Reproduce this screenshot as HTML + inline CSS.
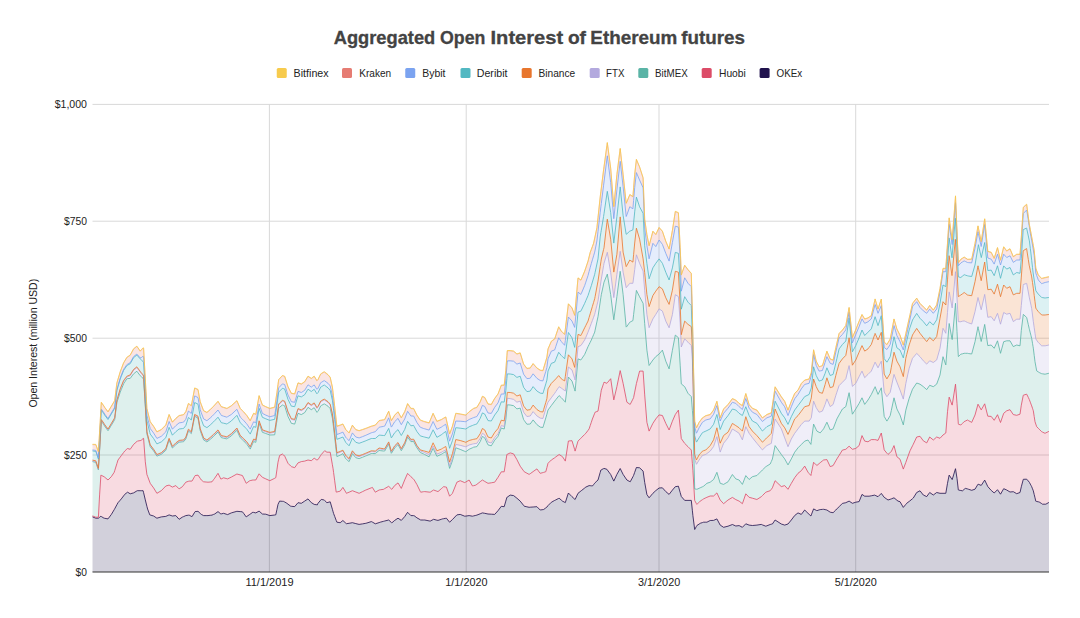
<!DOCTYPE html>
<html><head><meta charset="utf-8"><title>Aggregated Open Interest of Ethereum futures</title>
<style>html,body{margin:0;padding:0;background:#fff}body{width:1080px;height:618px;overflow:hidden;font-family:"Liberation Sans",sans-serif}svg{display:block}</style>
</head><body>
<svg width="1080" height="618" viewBox="0 0 1080 618">
<rect width="1080" height="618" fill="#fff"/>
<rect x="92.5" y="103.9" width="956.5" height="1" fill="#d9d9d9"/>
<rect x="92.5" y="220.7" width="956.5" height="1" fill="#d9d9d9"/>
<rect x="92.5" y="337.7" width="956.5" height="1" fill="#d9d9d9"/>
<rect x="92.5" y="454.5" width="956.5" height="1" fill="#d9d9d9"/>
<rect x="268.9" y="104" width="1" height="468.0" fill="#d9d9d9"/>
<rect x="465.7" y="104" width="1" height="468.0" fill="#d9d9d9"/>
<rect x="658.5" y="104" width="1" height="468.0" fill="#d9d9d9"/>
<rect x="855.2" y="104" width="1" height="468.0" fill="#d9d9d9"/>
<path d="M92.5,516.9 L95.8,518.2 L98.4,518.2 L99.6,517.3 L100.9,516.2 L101.3,516.5 L104.0,518.2 L104.7,518.3 L108.0,518.9 L111.3,514.5 L114.2,509.7 L114.7,508.8 L116.9,504.7 L118.0,502.7 L120.2,500.2 L121.3,498.9 L123.6,495.9 L124.7,494.4 L126.9,492.7 L127.6,492.2 L130.2,493.8 L133.6,492.9 L136.9,490.9 L137.3,490.7 L140.2,490.7 L141.3,490.7 L143.1,490.7 L143.6,492.7 L145.3,499.9 L146.9,506.3 L147.6,509.0 L149.8,514.9 L150.2,515.0 L153.6,516.0 L156.9,518.2 L161.3,516.9 L165.8,516.4 L169.1,514.9 L172.4,516.0 L175.8,515.6 L179.1,519.3 L182.4,517.1 L183.6,516.6 L185.8,515.6 L188.4,515.2 L189.1,515.1 L191.3,516.3 L192.0,516.7 L194.7,512.2 L195.1,511.6 L198.0,511.3 L200.2,513.4 L201.3,514.4 L203.6,515.6 L206.9,515.6 L208.0,515.6 L210.2,515.3 L212.0,515.1 L213.6,514.4 L214.7,514.0 L218.0,511.6 L220.9,514.0 L221.3,513.9 L223.6,513.3 L226.9,514.4 L227.6,514.6 L231.3,512.9 L236.9,511.3 L240.2,511.6 L242.4,511.8 L243.6,513.3 L246.2,516.9 L246.9,516.4 L249.8,514.4 L250.2,514.1 L252.9,512.2 L253.6,512.4 L255.8,512.9 L259.1,511.1 L262.4,514.0 L265.8,514.2 L269.8,515.6 L274.7,515.0 L275.8,514.8 L276.9,509.6 L278.0,504.4 L278.7,502.9 L279.6,501.1 L282.4,501.3 L283.6,501.4 L284.7,502.0 L286.9,503.3 L288.0,504.2 L290.7,506.2 L291.3,506.3 L294.7,506.6 L298.0,502.7 L301.3,503.3 L304.7,501.1 L308.0,498.9 L311.3,502.6 L314.2,504.4 L316.9,504.8 L317.3,504.9 L318.0,503.3 L320.7,500.1 L321.3,499.4 L324.2,500.0 L324.7,500.5 L326.9,502.7 L328.0,502.4 L330.2,501.8 L332.4,509.3 L333.1,511.8 L333.6,513.5 L334.7,516.4 L336.2,520.4 L336.9,522.2 L340.2,522.7 L342.9,520.5 L345.8,523.2 L346.4,523.7 L349.1,523.3 L352.4,522.7 L355.8,523.6 L359.1,524.4 L362.4,523.9 L365.8,523.3 L366.9,523.0 L371.3,521.6 L372.4,522.1 L375.3,523.8 L379.1,522.6 L380.2,522.2 L383.6,521.3 L384.7,521.0 L388.7,520.0 L391.3,522.4 L391.8,522.9 L394.7,520.4 L398.0,518.2 L401.3,520.4 L404.7,516.6 L407.6,512.3 L410.9,515.6 L413.6,515.6 L414.0,515.6 L416.9,517.8 L420.2,519.7 L420.7,520.0 L423.6,520.0 L424.7,520.0 L429.1,520.9 L430.2,521.1 L433.1,519.6 L433.6,519.3 L436.9,520.2 L438.0,520.4 L441.3,519.3 L442.4,518.9 L443.6,518.7 L445.8,518.3 L446.4,518.2 L449.6,522.2 L452.4,519.6 L455.8,516.0 L456.9,514.9 L460.2,514.4 L464.7,516.2 L465.8,516.1 L469.1,515.6 L472.4,516.2 L473.6,515.9 L475.8,515.4 L476.9,515.1 L480.2,513.8 L482.4,512.9 L484.7,513.3 L488.0,514.0 L491.3,514.2 L494.7,514.4 L498.0,510.7 L501.3,506.3 L504.2,506.7 L505.8,501.1 L506.9,497.3 L507.3,497.1 L510.2,495.1 L513.6,495.6 L516.9,498.2 L520.2,501.1 L523.6,505.4 L524.2,506.2 L526.9,506.8 L529.1,507.3 L530.2,507.2 L533.1,507.0 L536.9,506.7 L540.2,510.0 L542.9,509.6 L543.6,509.5 L545.8,507.9 L546.9,507.1 L548.0,505.6 L551.3,502.3 L554.7,500.4 L555.8,499.9 L558.7,498.4 L559.1,498.2 L561.3,500.1 L562.4,501.1 L564.7,502.3 L565.3,502.6 L568.4,493.0 L572.0,496.7 L574.7,499.2 L575.1,499.5 L578.0,493.3 L580.9,491.0 L581.3,490.7 L584.7,488.0 L585.8,487.1 L588.0,486.1 L589.1,485.6 L590.2,485.7 L591.3,485.8 L592.4,486.0 L593.6,484.6 L594.7,483.2 L595.1,482.7 L596.9,481.0 L598.0,480.0 L600.2,472.4 L600.9,470.0 L601.3,469.8 L603.6,468.6 L604.0,468.4 L606.9,469.3 L607.3,469.9 L610.7,474.5 L613.8,481.1 L616.9,474.4 L620.2,468.5 L623.1,474.4 L626.2,479.0 L626.9,480.0 L629.8,481.6 L630.2,481.8 L632.9,476.8 L633.6,475.4 L634.7,472.3 L636.4,467.5 L639.6,467.8 L643.1,471.1 L644.7,482.4 L646.9,494.5 L649.1,497.8 L652.9,493.3 L655.8,490.6 L659.1,488.0 L662.4,487.8 L665.8,491.6 L669.1,494.4 L672.4,490.1 L675.3,486.7 L678.4,486.2 L680.2,492.6 L681.3,496.5 L684.7,500.4 L688.0,500.4 L691.3,500.4 L692.4,510.8 L692.9,515.6 L694.7,529.5 L696.4,526.4 L696.9,525.5 L699.1,524.1 L700.2,523.3 L702.4,522.6 L703.6,522.2 L705.8,522.2 L706.9,522.2 L710.2,520.5 L713.6,520.4 L716.9,518.9 L720.2,525.1 L723.6,527.3 L728.0,526.2 L732.4,524.5 L735.8,526.0 L739.1,525.6 L742.4,527.3 L745.8,523.8 L749.1,525.1 L752.4,525.5 L756.9,525.1 L761.3,524.4 L762.4,524.9 L765.8,526.2 L766.9,525.8 L770.2,524.5 L771.3,524.2 L772.4,524.0 L775.1,520.0 L781.3,524.0 L784.7,525.1 L788.0,524.0 L791.3,520.0 L794.7,515.5 L798.0,512.9 L801.3,514.4 L804.7,510.0 L808.0,513.3 L809.1,514.3 L810.9,516.0 L811.3,514.9 L813.6,508.9 L816.2,510.3 L816.9,510.7 L819.1,509.9 L820.2,509.6 L822.4,509.4 L823.6,509.3 L825.1,509.6 L826.9,510.0 L830.2,512.2 L833.1,512.7 L835.8,510.0 L836.9,508.9 L839.1,506.7 L842.4,503.4 L845.8,502.7 L849.1,501.1 L852.4,503.3 L855.8,502.2 L859.1,501.6 L862.0,494.4 L864.7,496.2 L868.0,496.2 L869.1,496.2 L871.3,495.8 L874.7,495.1 L875.1,495.3 L878.0,496.7 L881.3,493.4 L884.2,497.3 L886.9,499.2 L888.0,500.0 L890.2,499.3 L891.3,498.9 L894.0,497.8 L896.9,500.2 L898.0,501.1 L900.0,501.7 L903.3,507.4 L905.8,504.4 L906.7,503.3 L909.2,501.4 L910.0,500.8 L912.5,498.7 L913.3,498.0 L916.7,492.5 L920.0,490.8 L923.3,495.0 L926.7,496.6 L929.7,492.5 L933.3,495.0 L936.7,492.5 L940.0,493.3 L943.0,493.3 L945.8,493.3 L947.5,483.3 L949.1,475.3 L949.2,475.1 L952.0,479.4 L952.2,479.6 L955.3,469.3 L955.5,468.7 L957.0,478.3 L958.3,489.7 L958.4,490.0 L960.8,490.5 L962.5,490.8 L964.2,489.3 L965.3,488.4 L967.5,488.9 L968.3,489.2 L971.7,490.3 L975.0,489.2 L978.0,484.2 L978.4,484.3 L981.2,485.4 L981.3,485.3 L984.7,480.1 L987.8,486.6 L991.2,490.4 L994.2,493.0 L997.5,489.7 L1000.5,494.2 L1003.7,488.7 L1006.7,490.0 L1010.0,492.0 L1013.3,491.7 L1016.7,493.7 L1020.0,492.5 L1021.3,486.8 L1023.2,479.7 L1023.3,479.3 L1026.6,479.2 L1026.7,479.2 L1028.3,481.0 L1029.2,482.1 L1029.4,482.4 L1030.3,484.1 L1031.0,485.4 L1031.7,486.7 L1032.5,488.8 L1033.0,490.0 L1033.3,490.8 L1034.2,494.5 L1035.0,497.8 L1035.8,501.2 L1036.7,501.5 L1038.3,501.8 L1039.2,502.0 L1041.7,503.6 L1042.5,504.2 L1045.0,504.2 L1045.8,504.2 L1048.8,502.5 L1049.0,502.5 L1049.0,572.0 L1048.8,572.0 L1045.8,572.0 L1045.0,572.0 L1042.5,572.0 L1041.7,572.0 L1039.2,572.0 L1038.3,572.0 L1036.7,572.0 L1035.8,572.0 L1035.0,572.0 L1034.2,572.0 L1033.3,572.0 L1033.0,572.0 L1032.5,572.0 L1031.7,572.0 L1031.0,572.0 L1030.3,572.0 L1029.4,572.0 L1029.2,572.0 L1028.3,572.0 L1026.7,572.0 L1026.6,572.0 L1023.3,572.0 L1023.2,572.0 L1021.3,572.0 L1020.0,572.0 L1016.7,572.0 L1013.3,572.0 L1010.0,572.0 L1006.7,572.0 L1003.7,572.0 L1000.5,572.0 L997.5,572.0 L994.2,572.0 L991.2,572.0 L987.8,572.0 L984.7,572.0 L981.3,572.0 L981.2,572.0 L978.4,572.0 L978.0,572.0 L975.0,572.0 L971.7,572.0 L968.3,572.0 L967.5,572.0 L965.3,572.0 L964.2,572.0 L962.5,572.0 L960.8,572.0 L958.4,572.0 L958.3,572.0 L957.0,572.0 L955.5,572.0 L955.3,572.0 L952.2,572.0 L952.0,572.0 L949.2,572.0 L949.1,572.0 L947.5,572.0 L945.8,572.0 L943.0,572.0 L940.0,572.0 L936.7,572.0 L933.3,572.0 L929.7,572.0 L926.7,572.0 L923.3,572.0 L920.0,572.0 L916.7,572.0 L913.3,572.0 L912.5,572.0 L910.0,572.0 L909.2,572.0 L906.7,572.0 L905.8,572.0 L903.3,572.0 L900.0,572.0 L898.0,572.0 L896.9,572.0 L894.0,572.0 L891.3,572.0 L890.2,572.0 L888.0,572.0 L886.9,572.0 L884.2,572.0 L881.3,572.0 L878.0,572.0 L875.1,572.0 L874.7,572.0 L871.3,572.0 L869.1,572.0 L868.0,572.0 L864.7,572.0 L862.0,572.0 L859.1,572.0 L855.8,572.0 L852.4,572.0 L849.1,572.0 L845.8,572.0 L842.4,572.0 L839.1,572.0 L836.9,572.0 L835.8,572.0 L833.1,572.0 L830.2,572.0 L826.9,572.0 L825.1,572.0 L823.6,572.0 L822.4,572.0 L820.2,572.0 L819.1,572.0 L816.9,572.0 L816.2,572.0 L813.6,572.0 L811.3,572.0 L810.9,572.0 L809.1,572.0 L808.0,572.0 L804.7,572.0 L801.3,572.0 L798.0,572.0 L794.7,572.0 L791.3,572.0 L788.0,572.0 L784.7,572.0 L781.3,572.0 L775.1,572.0 L772.4,572.0 L771.3,572.0 L770.2,572.0 L766.9,572.0 L765.8,572.0 L762.4,572.0 L761.3,572.0 L756.9,572.0 L752.4,572.0 L749.1,572.0 L745.8,572.0 L742.4,572.0 L739.1,572.0 L735.8,572.0 L732.4,572.0 L728.0,572.0 L723.6,572.0 L720.2,572.0 L716.9,572.0 L713.6,572.0 L710.2,572.0 L706.9,572.0 L705.8,572.0 L703.6,572.0 L702.4,572.0 L700.2,572.0 L699.1,572.0 L696.9,572.0 L696.4,572.0 L694.7,572.0 L692.9,572.0 L692.4,572.0 L691.3,572.0 L688.0,572.0 L684.7,572.0 L681.3,572.0 L680.2,572.0 L678.4,572.0 L675.3,572.0 L672.4,572.0 L669.1,572.0 L665.8,572.0 L662.4,572.0 L659.1,572.0 L655.8,572.0 L652.9,572.0 L649.1,572.0 L646.9,572.0 L644.7,572.0 L643.1,572.0 L639.6,572.0 L636.4,572.0 L634.7,572.0 L633.6,572.0 L632.9,572.0 L630.2,572.0 L629.8,572.0 L626.9,572.0 L626.2,572.0 L623.1,572.0 L620.2,572.0 L616.9,572.0 L613.8,572.0 L610.7,572.0 L607.3,572.0 L606.9,572.0 L604.0,572.0 L603.6,572.0 L601.3,572.0 L600.9,572.0 L600.2,572.0 L598.0,572.0 L596.9,572.0 L595.1,572.0 L594.7,572.0 L593.6,572.0 L592.4,572.0 L591.3,572.0 L590.2,572.0 L589.1,572.0 L588.0,572.0 L585.8,572.0 L584.7,572.0 L581.3,572.0 L580.9,572.0 L578.0,572.0 L575.1,572.0 L574.7,572.0 L572.0,572.0 L568.4,572.0 L565.3,572.0 L564.7,572.0 L562.4,572.0 L561.3,572.0 L559.1,572.0 L558.7,572.0 L555.8,572.0 L554.7,572.0 L551.3,572.0 L548.0,572.0 L546.9,572.0 L545.8,572.0 L543.6,572.0 L542.9,572.0 L540.2,572.0 L536.9,572.0 L533.1,572.0 L530.2,572.0 L529.1,572.0 L526.9,572.0 L524.2,572.0 L523.6,572.0 L520.2,572.0 L516.9,572.0 L513.6,572.0 L510.2,572.0 L507.3,572.0 L506.9,572.0 L505.8,572.0 L504.2,572.0 L501.3,572.0 L498.0,572.0 L494.7,572.0 L491.3,572.0 L488.0,572.0 L484.7,572.0 L482.4,572.0 L480.2,572.0 L476.9,572.0 L475.8,572.0 L473.6,572.0 L472.4,572.0 L469.1,572.0 L465.8,572.0 L464.7,572.0 L460.2,572.0 L456.9,572.0 L455.8,572.0 L452.4,572.0 L449.6,572.0 L446.4,572.0 L445.8,572.0 L443.6,572.0 L442.4,572.0 L441.3,572.0 L438.0,572.0 L436.9,572.0 L433.6,572.0 L433.1,572.0 L430.2,572.0 L429.1,572.0 L424.7,572.0 L423.6,572.0 L420.7,572.0 L420.2,572.0 L416.9,572.0 L414.0,572.0 L413.6,572.0 L410.9,572.0 L407.6,572.0 L404.7,572.0 L401.3,572.0 L398.0,572.0 L394.7,572.0 L391.8,572.0 L391.3,572.0 L388.7,572.0 L384.7,572.0 L383.6,572.0 L380.2,572.0 L379.1,572.0 L375.3,572.0 L372.4,572.0 L371.3,572.0 L366.9,572.0 L365.8,572.0 L362.4,572.0 L359.1,572.0 L355.8,572.0 L352.4,572.0 L349.1,572.0 L346.4,572.0 L345.8,572.0 L342.9,572.0 L340.2,572.0 L336.9,572.0 L336.2,572.0 L334.7,572.0 L333.6,572.0 L333.1,572.0 L332.4,572.0 L330.2,572.0 L328.0,572.0 L326.9,572.0 L324.7,572.0 L324.2,572.0 L321.3,572.0 L320.7,572.0 L318.0,572.0 L317.3,572.0 L316.9,572.0 L314.2,572.0 L311.3,572.0 L308.0,572.0 L304.7,572.0 L301.3,572.0 L298.0,572.0 L294.7,572.0 L291.3,572.0 L290.7,572.0 L288.0,572.0 L286.9,572.0 L284.7,572.0 L283.6,572.0 L282.4,572.0 L279.6,572.0 L278.7,572.0 L278.0,572.0 L276.9,572.0 L275.8,572.0 L274.7,572.0 L269.8,572.0 L265.8,572.0 L262.4,572.0 L259.1,572.0 L255.8,572.0 L253.6,572.0 L252.9,572.0 L250.2,572.0 L249.8,572.0 L246.9,572.0 L246.2,572.0 L243.6,572.0 L242.4,572.0 L240.2,572.0 L236.9,572.0 L231.3,572.0 L227.6,572.0 L226.9,572.0 L223.6,572.0 L221.3,572.0 L220.9,572.0 L218.0,572.0 L214.7,572.0 L213.6,572.0 L212.0,572.0 L210.2,572.0 L208.0,572.0 L206.9,572.0 L203.6,572.0 L201.3,572.0 L200.2,572.0 L198.0,572.0 L195.1,572.0 L194.7,572.0 L192.0,572.0 L191.3,572.0 L189.1,572.0 L188.4,572.0 L185.8,572.0 L183.6,572.0 L182.4,572.0 L179.1,572.0 L175.8,572.0 L172.4,572.0 L169.1,572.0 L165.8,572.0 L161.3,572.0 L156.9,572.0 L153.6,572.0 L150.2,572.0 L149.8,572.0 L147.6,572.0 L146.9,572.0 L145.3,572.0 L143.6,572.0 L143.1,572.0 L141.3,572.0 L140.2,572.0 L137.3,572.0 L136.9,572.0 L133.6,572.0 L130.2,572.0 L127.6,572.0 L126.9,572.0 L124.7,572.0 L123.6,572.0 L121.3,572.0 L120.2,572.0 L118.0,572.0 L116.9,572.0 L114.7,572.0 L114.2,572.0 L111.3,572.0 L108.0,572.0 L104.7,572.0 L104.0,572.0 L101.3,572.0 L100.9,572.0 L99.6,572.0 L98.4,572.0 L95.8,572.0 L92.5,572.0 Z" fill="#20124d" fill-opacity="0.2" stroke="none"/>
<path d="M92.5,515.9 L95.8,517.2 L98.4,517.2 L99.6,494.9 L100.9,475.1 L101.3,475.3 L104.0,476.7 L104.7,477.2 L108.0,480.0 L111.3,476.7 L114.2,472.3 L114.7,470.7 L116.9,463.6 L118.0,460.0 L120.2,457.1 L121.3,455.6 L123.6,452.5 L124.7,451.1 L126.9,449.0 L127.6,448.5 L130.2,449.3 L133.6,444.4 L136.9,441.5 L137.3,441.1 L140.2,440.6 L141.3,440.4 L143.1,438.3 L143.6,438.4 L145.3,461.8 L146.9,474.5 L147.6,476.3 L149.8,482.2 L150.2,483.3 L153.6,487.9 L156.9,493.3 L161.3,490.7 L165.8,486.0 L169.1,485.1 L172.4,487.1 L175.8,485.6 L179.1,488.9 L182.4,486.7 L183.6,485.1 L185.8,482.2 L188.4,481.3 L189.1,481.1 L191.3,481.1 L192.0,481.1 L194.7,476.3 L195.1,475.6 L198.0,475.1 L200.2,478.3 L201.3,480.0 L203.6,481.8 L206.9,482.1 L208.0,482.2 L210.2,482.0 L212.0,481.8 L213.6,479.6 L214.7,478.2 L218.0,473.3 L220.9,479.1 L221.3,478.9 L223.6,477.8 L226.9,478.7 L227.6,478.9 L231.3,477.1 L236.9,474.0 L240.2,474.9 L242.4,475.5 L243.6,477.9 L246.2,483.3 L246.9,482.8 L249.8,480.7 L250.2,480.6 L252.9,480.0 L253.6,480.0 L255.8,480.0 L259.1,473.8 L262.4,477.3 L265.8,478.9 L269.8,480.7 L274.7,478.3 L275.8,477.6 L276.9,469.9 L278.0,462.2 L278.7,459.2 L279.6,455.5 L282.4,454.0 L283.6,455.0 L284.7,456.1 L286.9,460.9 L288.0,463.3 L290.7,466.0 L291.3,466.6 L294.7,467.7 L298.0,462.9 L301.3,461.6 L304.7,461.1 L308.0,460.0 L311.3,460.7 L314.2,458.2 L316.9,460.0 L317.3,459.8 L318.0,459.6 L320.7,455.4 L321.3,454.5 L324.2,451.2 L324.7,450.7 L326.9,452.2 L328.0,452.2 L330.2,452.2 L332.4,464.8 L333.1,468.8 L333.6,472.6 L334.7,480.8 L336.2,492.1 L336.9,492.0 L340.2,491.1 L342.9,487.4 L345.8,492.2 L346.4,493.3 L349.1,492.2 L352.4,490.7 L355.8,492.0 L359.1,493.3 L362.4,491.7 L365.8,490.0 L366.9,489.6 L371.3,487.8 L372.4,487.4 L375.3,492.2 L379.1,490.0 L380.2,489.8 L383.6,489.3 L384.7,488.6 L388.7,486.3 L391.3,488.9 L391.8,489.3 L394.7,485.5 L398.0,482.9 L401.3,488.4 L404.7,479.9 L407.6,473.4 L410.9,476.7 L413.6,479.2 L414.0,479.6 L416.9,484.5 L420.2,491.3 L420.7,492.2 L423.6,491.7 L424.7,491.6 L429.1,492.1 L430.2,492.2 L433.1,490.3 L433.6,490.0 L436.9,491.2 L438.0,491.6 L441.3,488.7 L442.4,487.7 L443.6,486.7 L445.8,487.0 L446.4,487.1 L449.6,496.2 L452.4,493.4 L455.8,484.9 L456.9,482.2 L460.2,480.7 L464.7,482.6 L465.8,482.0 L469.1,480.0 L472.4,485.9 L473.6,485.7 L475.8,485.1 L476.9,484.3 L480.2,481.7 L482.4,480.0 L484.7,481.4 L488.0,483.3 L491.3,482.8 L494.7,482.2 L498.0,477.3 L501.3,471.8 L504.2,471.8 L505.8,461.5 L506.9,454.4 L507.3,454.3 L510.2,452.9 L513.6,453.9 L516.9,459.6 L520.2,466.2 L523.6,470.9 L524.2,471.7 L526.9,473.2 L529.1,474.4 L530.2,473.7 L533.1,471.6 L536.9,468.9 L540.2,473.3 L542.9,472.6 L543.6,472.4 L545.8,471.7 L546.9,467.5 L548.0,463.3 L551.3,460.0 L554.7,457.8 L555.8,456.9 L558.7,454.8 L559.1,454.5 L561.3,455.9 L562.4,456.6 L564.7,460.1 L565.3,461.1 L568.4,441.0 L572.0,440.7 L574.7,449.7 L575.1,451.1 L578.0,441.1 L580.9,438.2 L581.3,437.8 L584.7,434.4 L585.8,433.3 L588.0,430.4 L589.1,428.9 L590.2,425.6 L591.3,422.3 L592.4,419.0 L593.6,416.0 L594.7,413.2 L595.1,412.2 L596.9,411.5 L598.0,411.1 L600.2,397.2 L600.9,392.7 L601.3,390.2 L603.6,383.4 L604.0,382.2 L606.9,383.3 L607.3,382.8 L610.7,378.7 L613.8,399.9 L616.9,386.6 L620.2,370.6 L623.1,383.3 L626.2,398.8 L626.9,402.2 L629.8,404.2 L630.2,404.4 L632.9,399.1 L633.6,397.6 L634.7,392.1 L636.4,383.6 L639.6,371.1 L643.1,371.1 L644.7,394.9 L646.9,422.3 L649.1,431.1 L652.9,423.3 L655.8,418.9 L659.1,414.9 L662.4,415.5 L665.8,423.4 L669.1,430.0 L672.4,421.2 L675.3,414.5 L678.4,410.1 L680.2,427.6 L681.3,438.6 L684.7,443.4 L688.0,446.7 L691.3,450.0 L692.4,463.7 L692.9,470.2 L694.7,500.5 L696.4,503.6 L696.9,504.4 L699.1,502.2 L700.2,501.1 L702.4,499.7 L703.6,498.9 L705.8,497.8 L706.9,497.3 L710.2,496.0 L713.6,496.0 L716.9,492.9 L720.2,500.0 L723.6,503.7 L728.0,500.0 L732.4,497.4 L735.8,499.6 L739.1,501.1 L742.4,503.7 L745.8,493.8 L749.1,497.3 L752.4,498.2 L756.9,499.5 L761.3,496.7 L762.4,495.6 L765.8,492.2 L766.9,491.8 L770.2,490.7 L771.3,489.3 L772.4,487.8 L775.1,480.7 L781.3,486.6 L784.7,485.6 L788.0,489.3 L791.3,483.4 L794.7,477.7 L798.0,473.3 L801.3,470.7 L804.7,466.1 L808.0,472.2 L809.1,473.5 L810.9,475.5 L811.3,473.5 L813.6,462.3 L816.2,464.9 L816.9,465.5 L819.1,463.6 L820.2,462.7 L822.4,460.9 L823.6,460.0 L825.1,459.8 L826.9,459.6 L830.2,466.6 L833.1,465.6 L835.8,460.8 L836.9,458.9 L839.1,455.4 L842.4,450.1 L845.8,449.3 L849.1,446.2 L852.4,449.3 L855.8,448.4 L859.1,445.6 L862.0,435.6 L864.7,441.1 L868.0,441.8 L869.1,441.0 L871.3,439.6 L874.7,439.6 L875.1,439.6 L878.0,440.4 L881.3,433.0 L884.2,449.9 L886.9,453.2 L888.0,454.4 L890.2,452.5 L891.3,451.6 L894.0,445.6 L896.9,456.7 L898.0,457.6 L900.0,459.2 L903.3,469.1 L905.8,462.4 L906.7,459.9 L909.2,453.0 L910.0,450.8 L912.5,445.8 L913.3,444.2 L916.7,437.0 L920.0,436.3 L923.3,440.8 L926.7,442.9 L929.7,437.0 L933.3,440.0 L936.7,437.0 L940.0,438.3 L943.0,435.0 L945.8,433.0 L947.5,411.7 L949.1,397.6 L949.2,397.1 L952.0,404.9 L952.2,405.1 L955.3,385.4 L955.5,384.2 L957.0,403.3 L958.3,423.6 L958.4,424.2 L960.8,425.0 L962.5,423.3 L964.2,421.6 L965.3,421.1 L967.5,420.0 L968.3,420.5 L971.7,422.4 L975.0,415.0 L978.0,404.2 L978.4,404.9 L981.2,409.9 L981.3,409.8 L984.7,403.8 L987.8,416.2 L991.2,416.4 L994.2,420.3 L997.5,414.7 L1000.5,422.5 L1003.7,413.3 L1006.7,410.8 L1010.0,409.7 L1013.3,414.6 L1016.7,415.3 L1020.0,414.2 L1021.3,405.2 L1023.2,395.7 L1023.3,395.2 L1026.6,394.2 L1026.7,394.2 L1028.3,397.4 L1029.2,399.3 L1029.4,399.8 L1030.3,402.2 L1031.0,404.1 L1031.7,405.9 L1032.5,408.3 L1033.0,409.8 L1033.3,410.7 L1034.2,416.5 L1035.0,421.7 L1035.8,424.1 L1036.7,426.7 L1038.3,428.3 L1039.2,429.2 L1041.7,431.7 L1042.5,432.1 L1045.0,433.3 L1045.8,432.9 L1048.8,431.4 L1049.0,431.3 L1049.0,502.5 L1048.8,502.5 L1045.8,504.2 L1045.0,504.2 L1042.5,504.2 L1041.7,503.6 L1039.2,502.0 L1038.3,501.8 L1036.7,501.5 L1035.8,501.2 L1035.0,497.8 L1034.2,494.5 L1033.3,490.8 L1033.0,490.0 L1032.5,488.8 L1031.7,486.7 L1031.0,485.4 L1030.3,484.1 L1029.4,482.4 L1029.2,482.1 L1028.3,481.0 L1026.7,479.2 L1026.6,479.2 L1023.3,479.3 L1023.2,479.7 L1021.3,486.8 L1020.0,492.5 L1016.7,493.7 L1013.3,491.7 L1010.0,492.0 L1006.7,490.0 L1003.7,488.7 L1000.5,494.2 L997.5,489.7 L994.2,493.0 L991.2,490.4 L987.8,486.6 L984.7,480.1 L981.3,485.3 L981.2,485.4 L978.4,484.3 L978.0,484.2 L975.0,489.2 L971.7,490.3 L968.3,489.2 L967.5,488.9 L965.3,488.4 L964.2,489.3 L962.5,490.8 L960.8,490.5 L958.4,490.0 L958.3,489.7 L957.0,478.3 L955.5,468.7 L955.3,469.3 L952.2,479.6 L952.0,479.4 L949.2,475.1 L949.1,475.3 L947.5,483.3 L945.8,493.3 L943.0,493.3 L940.0,493.3 L936.7,492.5 L933.3,495.0 L929.7,492.5 L926.7,496.6 L923.3,495.0 L920.0,490.8 L916.7,492.5 L913.3,498.0 L912.5,498.7 L910.0,500.8 L909.2,501.4 L906.7,503.3 L905.8,504.4 L903.3,507.4 L900.0,501.7 L898.0,501.1 L896.9,500.2 L894.0,497.8 L891.3,498.9 L890.2,499.3 L888.0,500.0 L886.9,499.2 L884.2,497.3 L881.3,493.4 L878.0,496.7 L875.1,495.3 L874.7,495.1 L871.3,495.8 L869.1,496.2 L868.0,496.2 L864.7,496.2 L862.0,494.4 L859.1,501.6 L855.8,502.2 L852.4,503.3 L849.1,501.1 L845.8,502.7 L842.4,503.4 L839.1,506.7 L836.9,508.9 L835.8,510.0 L833.1,512.7 L830.2,512.2 L826.9,510.0 L825.1,509.6 L823.6,509.3 L822.4,509.4 L820.2,509.6 L819.1,509.9 L816.9,510.7 L816.2,510.3 L813.6,508.9 L811.3,514.9 L810.9,516.0 L809.1,514.3 L808.0,513.3 L804.7,510.0 L801.3,514.4 L798.0,512.9 L794.7,515.5 L791.3,520.0 L788.0,524.0 L784.7,525.1 L781.3,524.0 L775.1,520.0 L772.4,524.0 L771.3,524.2 L770.2,524.5 L766.9,525.8 L765.8,526.2 L762.4,524.9 L761.3,524.4 L756.9,525.1 L752.4,525.5 L749.1,525.1 L745.8,523.8 L742.4,527.3 L739.1,525.6 L735.8,526.0 L732.4,524.5 L728.0,526.2 L723.6,527.3 L720.2,525.1 L716.9,518.9 L713.6,520.4 L710.2,520.5 L706.9,522.2 L705.8,522.2 L703.6,522.2 L702.4,522.6 L700.2,523.3 L699.1,524.1 L696.9,525.5 L696.4,526.4 L694.7,529.5 L692.9,515.6 L692.4,510.8 L691.3,500.4 L688.0,500.4 L684.7,500.4 L681.3,496.5 L680.2,492.6 L678.4,486.2 L675.3,486.7 L672.4,490.1 L669.1,494.4 L665.8,491.6 L662.4,487.8 L659.1,488.0 L655.8,490.6 L652.9,493.3 L649.1,497.8 L646.9,494.5 L644.7,482.4 L643.1,471.1 L639.6,467.8 L636.4,467.5 L634.7,472.3 L633.6,475.4 L632.9,476.8 L630.2,481.8 L629.8,481.6 L626.9,480.0 L626.2,479.0 L623.1,474.4 L620.2,468.5 L616.9,474.4 L613.8,481.1 L610.7,474.5 L607.3,469.9 L606.9,469.3 L604.0,468.4 L603.6,468.6 L601.3,469.8 L600.9,470.0 L600.2,472.4 L598.0,480.0 L596.9,481.0 L595.1,482.7 L594.7,483.2 L593.6,484.6 L592.4,486.0 L591.3,485.8 L590.2,485.7 L589.1,485.6 L588.0,486.1 L585.8,487.1 L584.7,488.0 L581.3,490.7 L580.9,491.0 L578.0,493.3 L575.1,499.5 L574.7,499.2 L572.0,496.7 L568.4,493.0 L565.3,502.6 L564.7,502.3 L562.4,501.1 L561.3,500.1 L559.1,498.2 L558.7,498.4 L555.8,499.9 L554.7,500.4 L551.3,502.3 L548.0,505.6 L546.9,507.1 L545.8,507.9 L543.6,509.5 L542.9,509.6 L540.2,510.0 L536.9,506.7 L533.1,507.0 L530.2,507.2 L529.1,507.3 L526.9,506.8 L524.2,506.2 L523.6,505.4 L520.2,501.1 L516.9,498.2 L513.6,495.6 L510.2,495.1 L507.3,497.1 L506.9,497.3 L505.8,501.1 L504.2,506.7 L501.3,506.3 L498.0,510.7 L494.7,514.4 L491.3,514.2 L488.0,514.0 L484.7,513.3 L482.4,512.9 L480.2,513.8 L476.9,515.1 L475.8,515.4 L473.6,515.9 L472.4,516.2 L469.1,515.6 L465.8,516.1 L464.7,516.2 L460.2,514.4 L456.9,514.9 L455.8,516.0 L452.4,519.6 L449.6,522.2 L446.4,518.2 L445.8,518.3 L443.6,518.7 L442.4,518.9 L441.3,519.3 L438.0,520.4 L436.9,520.2 L433.6,519.3 L433.1,519.6 L430.2,521.1 L429.1,520.9 L424.7,520.0 L423.6,520.0 L420.7,520.0 L420.2,519.7 L416.9,517.8 L414.0,515.6 L413.6,515.6 L410.9,515.6 L407.6,512.3 L404.7,516.6 L401.3,520.4 L398.0,518.2 L394.7,520.4 L391.8,522.9 L391.3,522.4 L388.7,520.0 L384.7,521.0 L383.6,521.3 L380.2,522.2 L379.1,522.6 L375.3,523.8 L372.4,522.1 L371.3,521.6 L366.9,523.0 L365.8,523.3 L362.4,523.9 L359.1,524.4 L355.8,523.6 L352.4,522.7 L349.1,523.3 L346.4,523.7 L345.8,523.2 L342.9,520.5 L340.2,522.7 L336.9,522.2 L336.2,520.4 L334.7,516.4 L333.6,513.5 L333.1,511.8 L332.4,509.3 L330.2,501.8 L328.0,502.4 L326.9,502.7 L324.7,500.5 L324.2,500.0 L321.3,499.4 L320.7,500.1 L318.0,503.3 L317.3,504.9 L316.9,504.8 L314.2,504.4 L311.3,502.6 L308.0,498.9 L304.7,501.1 L301.3,503.3 L298.0,502.7 L294.7,506.6 L291.3,506.3 L290.7,506.2 L288.0,504.2 L286.9,503.3 L284.7,502.0 L283.6,501.4 L282.4,501.3 L279.6,501.1 L278.7,502.9 L278.0,504.4 L276.9,509.6 L275.8,514.8 L274.7,515.0 L269.8,515.6 L265.8,514.2 L262.4,514.0 L259.1,511.1 L255.8,512.9 L253.6,512.4 L252.9,512.2 L250.2,514.1 L249.8,514.4 L246.9,516.4 L246.2,516.9 L243.6,513.3 L242.4,511.8 L240.2,511.6 L236.9,511.3 L231.3,512.9 L227.6,514.6 L226.9,514.4 L223.6,513.3 L221.3,513.9 L220.9,514.0 L218.0,511.6 L214.7,514.0 L213.6,514.4 L212.0,515.1 L210.2,515.3 L208.0,515.6 L206.9,515.6 L203.6,515.6 L201.3,514.4 L200.2,513.4 L198.0,511.3 L195.1,511.6 L194.7,512.2 L192.0,516.7 L191.3,516.3 L189.1,515.1 L188.4,515.2 L185.8,515.6 L183.6,516.6 L182.4,517.1 L179.1,519.3 L175.8,515.6 L172.4,516.0 L169.1,514.9 L165.8,516.4 L161.3,516.9 L156.9,518.2 L153.6,516.0 L150.2,515.0 L149.8,514.9 L147.6,509.0 L146.9,506.3 L145.3,499.9 L143.6,492.7 L143.1,490.7 L141.3,490.7 L140.2,490.7 L137.3,490.7 L136.9,490.9 L133.6,492.9 L130.2,493.8 L127.6,492.2 L126.9,492.7 L124.7,494.4 L123.6,495.9 L121.3,498.9 L120.2,500.2 L118.0,502.7 L116.9,504.7 L114.7,508.8 L114.2,509.7 L111.3,514.5 L108.0,518.9 L104.7,518.3 L104.0,518.2 L101.3,516.5 L100.9,516.2 L99.6,517.3 L98.4,518.2 L95.8,518.2 L92.5,516.9 Z" fill="#dc4c68" fill-opacity="0.2" stroke="none"/>
<path d="M92.5,461.6 L95.8,462.3 L98.4,469.9 L99.6,450.2 L100.9,427.9 L101.3,421.0 L104.0,425.0 L104.7,426.2 L108.0,430.7 L111.3,425.3 L114.2,420.5 L114.7,419.5 L116.9,402.4 L118.0,399.0 L120.2,392.2 L121.3,389.5 L123.6,383.8 L124.7,382.1 L126.9,378.7 L127.6,378.6 L130.2,378.4 L133.6,373.8 L136.9,371.2 L137.3,371.8 L140.2,375.7 L141.3,376.7 L143.1,378.3 L143.6,379.4 L145.3,406.0 L146.9,433.8 L147.6,436.5 L149.8,445.1 L150.2,446.7 L153.6,450.9 L156.9,456.1 L161.3,454.3 L165.8,450.3 L169.1,440.0 L172.4,448.0 L175.8,444.7 L179.1,442.2 L182.4,441.8 L183.6,441.7 L185.8,439.0 L188.4,431.1 L189.1,431.5 L191.3,433.6 L192.0,430.2 L194.7,416.3 L195.1,416.5 L198.0,418.1 L200.2,430.5 L201.3,433.6 L203.6,439.9 L206.9,441.9 L208.0,441.1 L210.2,439.4 L212.0,437.8 L213.6,436.4 L214.7,435.3 L218.0,432.0 L220.9,436.9 L221.3,437.6 L223.6,438.2 L226.9,438.9 L227.6,438.4 L231.3,435.9 L236.9,430.3 L240.2,437.7 L242.4,439.7 L243.6,440.8 L246.2,443.6 L246.9,444.3 L249.8,448.5 L250.2,449.1 L252.9,443.0 L253.6,441.5 L255.8,442.3 L259.1,423.3 L262.4,432.3 L265.8,433.5 L269.8,435.0 L274.7,434.8 L275.8,427.9 L276.9,420.9 L278.0,412.9 L278.7,408.1 L279.6,407.3 L282.4,405.0 L283.6,405.4 L284.7,405.9 L286.9,413.0 L288.0,416.5 L290.7,422.0 L291.3,423.3 L294.7,424.1 L298.0,413.3 L301.3,414.6 L304.7,412.6 L308.0,407.3 L311.3,409.7 L314.2,407.7 L316.9,412.3 L317.3,411.9 L318.0,411.3 L320.7,405.9 L321.3,405.5 L324.2,403.9 L324.7,404.1 L326.9,405.5 L328.0,406.2 L330.2,408.6 L332.4,418.1 L333.1,423.8 L333.6,428.0 L334.7,437.2 L336.2,450.5 L336.9,456.6 L340.2,455.1 L342.9,453.6 L345.8,458.8 L346.4,459.3 L349.1,461.6 L352.4,453.6 L355.8,457.7 L359.1,458.6 L362.4,457.3 L365.8,455.9 L366.9,455.5 L371.3,453.5 L372.4,453.5 L375.3,453.6 L379.1,450.4 L380.2,450.6 L383.6,451.0 L384.7,451.0 L388.7,444.0 L391.3,453.3 L391.8,452.7 L394.7,447.9 L398.0,444.6 L401.3,450.7 L404.7,444.9 L407.6,437.0 L410.9,441.6 L413.6,441.5 L414.0,442.3 L416.9,447.8 L420.2,452.4 L420.7,452.7 L423.6,453.9 L424.7,454.5 L429.1,456.8 L430.2,454.4 L433.1,448.3 L433.6,449.3 L436.9,456.3 L438.0,455.8 L441.3,454.3 L442.4,453.6 L443.6,452.8 L445.8,451.5 L446.4,454.2 L449.6,468.4 L452.4,460.8 L455.8,447.8 L456.9,448.2 L460.2,449.4 L464.7,451.3 L465.8,451.7 L469.1,449.3 L472.4,447.8 L473.6,447.2 L475.8,446.8 L476.9,446.6 L480.2,441.6 L482.4,436.4 L484.7,437.8 L488.0,444.9 L491.3,445.8 L494.7,440.2 L498.0,436.3 L501.3,428.0 L504.2,429.0 L505.8,419.5 L506.9,408.7 L507.3,404.8 L510.2,405.0 L513.6,405.7 L516.9,408.9 L520.2,408.1 L523.6,419.5 L524.2,420.4 L526.9,424.2 L529.1,424.1 L530.2,424.0 L533.1,419.9 L536.9,424.6 L540.2,427.1 L542.9,427.5 L543.6,425.2 L545.8,417.9 L546.9,414.2 L548.0,410.0 L551.3,405.6 L554.7,401.1 L555.8,399.7 L558.7,396.1 L559.1,395.6 L561.3,397.7 L562.4,398.8 L564.7,401.5 L565.3,402.2 L568.4,377.0 L572.0,381.1 L574.7,389.8 L575.1,391.1 L578.0,358.9 L580.9,360.0 L581.3,359.4 L584.7,354.4 L585.8,351.8 L588.0,346.7 L589.1,344.5 L590.2,342.3 L591.3,340.1 L592.4,337.5 L593.6,334.7 L594.7,332.1 L595.1,330.2 L596.9,321.8 L598.0,316.7 L600.2,302.0 L600.9,297.3 L601.3,294.7 L603.6,284.1 L604.0,282.2 L606.9,275.1 L607.3,274.1 L610.7,294.7 L613.8,319.8 L616.9,296.6 L620.2,271.3 L623.1,294.4 L626.2,327.1 L626.9,326.4 L629.8,322.2 L630.2,322.0 L632.9,320.6 L633.6,314.6 L634.7,305.3 L636.4,290.4 L639.6,296.8 L643.1,303.3 L644.7,323.7 L646.9,350.1 L649.1,365.5 L652.9,360.0 L655.8,356.6 L659.1,354.0 L662.4,350.1 L665.8,361.2 L669.1,368.9 L672.4,350.3 L675.3,335.1 L678.4,337.7 L680.2,365.2 L681.3,383.9 L684.7,386.7 L688.0,393.3 L691.3,396.6 L692.4,410.4 L692.9,417.1 L694.7,488.9 L696.4,489.2 L696.9,489.3 L699.1,488.3 L700.2,487.8 L702.4,486.8 L703.6,486.2 L705.8,484.3 L706.9,483.3 L710.2,482.2 L713.6,479.5 L716.9,472.3 L720.2,483.3 L723.6,484.4 L728.0,481.8 L732.4,474.5 L735.8,478.9 L739.1,480.0 L742.4,484.4 L745.8,475.6 L749.1,479.5 L752.4,476.7 L756.9,475.5 L761.3,471.1 L762.4,470.0 L765.8,466.7 L766.9,466.0 L770.2,464.0 L771.3,461.5 L772.4,459.0 L775.1,445.6 L781.3,454.4 L784.7,458.9 L788.0,464.9 L791.3,458.9 L794.7,452.2 L798.0,447.8 L801.3,444.5 L804.7,441.1 L808.0,440.0 L809.1,441.7 L810.9,444.4 L811.3,441.3 L813.6,424.1 L816.2,429.6 L816.9,431.1 L819.1,432.3 L820.2,432.9 L822.4,430.3 L823.6,428.8 L825.1,425.8 L826.9,422.2 L830.2,429.9 L833.1,428.9 L835.8,421.8 L836.9,418.9 L839.1,414.9 L842.4,409.0 L845.8,406.6 L849.1,392.7 L852.4,414.2 L855.8,408.9 L859.1,403.4 L862.0,397.8 L864.7,404.4 L868.0,400.0 L869.1,398.2 L871.3,394.5 L874.7,387.5 L875.1,386.7 L878.0,394.4 L881.3,387.8 L884.2,416.4 L886.9,421.1 L888.0,419.3 L890.2,415.6 L891.3,410.5 L894.0,397.8 L896.9,408.9 L898.0,411.1 L900.0,415.0 L903.3,424.9 L905.8,410.2 L906.7,407.0 L909.2,398.2 L910.0,396.0 L912.5,389.2 L913.3,388.0 L916.7,383.0 L920.0,384.2 L923.3,386.6 L926.7,389.6 L929.7,385.3 L933.3,386.7 L936.7,384.1 L940.0,375.0 L943.0,356.7 L945.8,364.9 L947.5,344.2 L949.1,324.2 L949.2,323.5 L952.0,339.1 L952.2,339.6 L955.3,305.5 L955.5,303.3 L957.0,331.6 L958.3,356.0 L958.4,356.6 L960.8,354.2 L962.5,353.8 L964.2,353.3 L965.3,353.3 L967.5,353.3 L968.3,353.5 L971.7,354.0 L975.0,341.7 L978.0,326.7 L978.4,328.6 L981.2,341.5 L981.3,341.0 L984.7,324.4 L987.8,345.6 L991.2,345.0 L994.2,348.3 L997.5,340.8 L1000.5,353.3 L1003.7,341.7 L1006.7,340.8 L1010.0,340.8 L1013.3,346.6 L1016.7,345.0 L1020.0,345.8 L1021.3,330.4 L1023.2,315.2 L1023.3,314.4 L1026.6,317.4 L1026.7,317.6 L1028.3,324.6 L1029.2,328.5 L1029.4,329.3 L1030.3,332.9 L1031.0,335.7 L1031.7,338.5 L1032.5,343.3 L1033.0,346.3 L1033.3,348.1 L1034.2,355.3 L1035.0,361.7 L1035.8,366.1 L1036.7,370.9 L1038.3,371.9 L1039.2,372.5 L1041.7,373.7 L1042.5,373.8 L1045.0,374.2 L1045.8,374.0 L1048.8,373.3 L1049.0,373.3 L1049.0,431.3 L1048.8,431.4 L1045.8,432.9 L1045.0,433.3 L1042.5,432.1 L1041.7,431.7 L1039.2,429.2 L1038.3,428.3 L1036.7,426.7 L1035.8,424.1 L1035.0,421.7 L1034.2,416.5 L1033.3,410.7 L1033.0,409.8 L1032.5,408.3 L1031.7,405.9 L1031.0,404.1 L1030.3,402.2 L1029.4,399.8 L1029.2,399.3 L1028.3,397.4 L1026.7,394.2 L1026.6,394.2 L1023.3,395.2 L1023.2,395.7 L1021.3,405.2 L1020.0,414.2 L1016.7,415.3 L1013.3,414.6 L1010.0,409.7 L1006.7,410.8 L1003.7,413.3 L1000.5,422.5 L997.5,414.7 L994.2,420.3 L991.2,416.4 L987.8,416.2 L984.7,403.8 L981.3,409.8 L981.2,409.9 L978.4,404.9 L978.0,404.2 L975.0,415.0 L971.7,422.4 L968.3,420.5 L967.5,420.0 L965.3,421.1 L964.2,421.6 L962.5,423.3 L960.8,425.0 L958.4,424.2 L958.3,423.6 L957.0,403.3 L955.5,384.2 L955.3,385.4 L952.2,405.1 L952.0,404.9 L949.2,397.1 L949.1,397.6 L947.5,411.7 L945.8,433.0 L943.0,435.0 L940.0,438.3 L936.7,437.0 L933.3,440.0 L929.7,437.0 L926.7,442.9 L923.3,440.8 L920.0,436.3 L916.7,437.0 L913.3,444.2 L912.5,445.8 L910.0,450.8 L909.2,453.0 L906.7,459.9 L905.8,462.4 L903.3,469.1 L900.0,459.2 L898.0,457.6 L896.9,456.7 L894.0,445.6 L891.3,451.6 L890.2,452.5 L888.0,454.4 L886.9,453.2 L884.2,449.9 L881.3,433.0 L878.0,440.4 L875.1,439.6 L874.7,439.6 L871.3,439.6 L869.1,441.0 L868.0,441.8 L864.7,441.1 L862.0,435.6 L859.1,445.6 L855.8,448.4 L852.4,449.3 L849.1,446.2 L845.8,449.3 L842.4,450.1 L839.1,455.4 L836.9,458.9 L835.8,460.8 L833.1,465.6 L830.2,466.6 L826.9,459.6 L825.1,459.8 L823.6,460.0 L822.4,460.9 L820.2,462.7 L819.1,463.6 L816.9,465.5 L816.2,464.9 L813.6,462.3 L811.3,473.5 L810.9,475.5 L809.1,473.5 L808.0,472.2 L804.7,466.1 L801.3,470.7 L798.0,473.3 L794.7,477.7 L791.3,483.4 L788.0,489.3 L784.7,485.6 L781.3,486.6 L775.1,480.7 L772.4,487.8 L771.3,489.3 L770.2,490.7 L766.9,491.8 L765.8,492.2 L762.4,495.6 L761.3,496.7 L756.9,499.5 L752.4,498.2 L749.1,497.3 L745.8,493.8 L742.4,503.7 L739.1,501.1 L735.8,499.6 L732.4,497.4 L728.0,500.0 L723.6,503.7 L720.2,500.0 L716.9,492.9 L713.6,496.0 L710.2,496.0 L706.9,497.3 L705.8,497.8 L703.6,498.9 L702.4,499.7 L700.2,501.1 L699.1,502.2 L696.9,504.4 L696.4,503.6 L694.7,500.5 L692.9,470.2 L692.4,463.7 L691.3,450.0 L688.0,446.7 L684.7,443.4 L681.3,438.6 L680.2,427.6 L678.4,410.1 L675.3,414.5 L672.4,421.2 L669.1,430.0 L665.8,423.4 L662.4,415.5 L659.1,414.9 L655.8,418.9 L652.9,423.3 L649.1,431.1 L646.9,422.3 L644.7,394.9 L643.1,371.1 L639.6,371.1 L636.4,383.6 L634.7,392.1 L633.6,397.6 L632.9,399.1 L630.2,404.4 L629.8,404.2 L626.9,402.2 L626.2,398.8 L623.1,383.3 L620.2,370.6 L616.9,386.6 L613.8,399.9 L610.7,378.7 L607.3,382.8 L606.9,383.3 L604.0,382.2 L603.6,383.4 L601.3,390.2 L600.9,392.7 L600.2,397.2 L598.0,411.1 L596.9,411.5 L595.1,412.2 L594.7,413.2 L593.6,416.0 L592.4,419.0 L591.3,422.3 L590.2,425.6 L589.1,428.9 L588.0,430.4 L585.8,433.3 L584.7,434.4 L581.3,437.8 L580.9,438.2 L578.0,441.1 L575.1,451.1 L574.7,449.7 L572.0,440.7 L568.4,441.0 L565.3,461.1 L564.7,460.1 L562.4,456.6 L561.3,455.9 L559.1,454.5 L558.7,454.8 L555.8,456.9 L554.7,457.8 L551.3,460.0 L548.0,463.3 L546.9,467.5 L545.8,471.7 L543.6,472.4 L542.9,472.6 L540.2,473.3 L536.9,468.9 L533.1,471.6 L530.2,473.7 L529.1,474.4 L526.9,473.2 L524.2,471.7 L523.6,470.9 L520.2,466.2 L516.9,459.6 L513.6,453.9 L510.2,452.9 L507.3,454.3 L506.9,454.4 L505.8,461.5 L504.2,471.8 L501.3,471.8 L498.0,477.3 L494.7,482.2 L491.3,482.8 L488.0,483.3 L484.7,481.4 L482.4,480.0 L480.2,481.7 L476.9,484.3 L475.8,485.1 L473.6,485.7 L472.4,485.9 L469.1,480.0 L465.8,482.0 L464.7,482.6 L460.2,480.7 L456.9,482.2 L455.8,484.9 L452.4,493.4 L449.6,496.2 L446.4,487.1 L445.8,487.0 L443.6,486.7 L442.4,487.7 L441.3,488.7 L438.0,491.6 L436.9,491.2 L433.6,490.0 L433.1,490.3 L430.2,492.2 L429.1,492.1 L424.7,491.6 L423.6,491.7 L420.7,492.2 L420.2,491.3 L416.9,484.5 L414.0,479.6 L413.6,479.2 L410.9,476.7 L407.6,473.4 L404.7,479.9 L401.3,488.4 L398.0,482.9 L394.7,485.5 L391.8,489.3 L391.3,488.9 L388.7,486.3 L384.7,488.6 L383.6,489.3 L380.2,489.8 L379.1,490.0 L375.3,492.2 L372.4,487.4 L371.3,487.8 L366.9,489.6 L365.8,490.0 L362.4,491.7 L359.1,493.3 L355.8,492.0 L352.4,490.7 L349.1,492.2 L346.4,493.3 L345.8,492.2 L342.9,487.4 L340.2,491.1 L336.9,492.0 L336.2,492.1 L334.7,480.8 L333.6,472.6 L333.1,468.8 L332.4,464.8 L330.2,452.2 L328.0,452.2 L326.9,452.2 L324.7,450.7 L324.2,451.2 L321.3,454.5 L320.7,455.4 L318.0,459.6 L317.3,459.8 L316.9,460.0 L314.2,458.2 L311.3,460.7 L308.0,460.0 L304.7,461.1 L301.3,461.6 L298.0,462.9 L294.7,467.7 L291.3,466.6 L290.7,466.0 L288.0,463.3 L286.9,460.9 L284.7,456.1 L283.6,455.0 L282.4,454.0 L279.6,455.5 L278.7,459.2 L278.0,462.2 L276.9,469.9 L275.8,477.6 L274.7,478.3 L269.8,480.7 L265.8,478.9 L262.4,477.3 L259.1,473.8 L255.8,480.0 L253.6,480.0 L252.9,480.0 L250.2,480.6 L249.8,480.7 L246.9,482.8 L246.2,483.3 L243.6,477.9 L242.4,475.5 L240.2,474.9 L236.9,474.0 L231.3,477.1 L227.6,478.9 L226.9,478.7 L223.6,477.8 L221.3,478.9 L220.9,479.1 L218.0,473.3 L214.7,478.2 L213.6,479.6 L212.0,481.8 L210.2,482.0 L208.0,482.2 L206.9,482.1 L203.6,481.8 L201.3,480.0 L200.2,478.3 L198.0,475.1 L195.1,475.6 L194.7,476.3 L192.0,481.1 L191.3,481.1 L189.1,481.1 L188.4,481.3 L185.8,482.2 L183.6,485.1 L182.4,486.7 L179.1,488.9 L175.8,485.6 L172.4,487.1 L169.1,485.1 L165.8,486.0 L161.3,490.7 L156.9,493.3 L153.6,487.9 L150.2,483.3 L149.8,482.2 L147.6,476.3 L146.9,474.5 L145.3,461.8 L143.6,438.4 L143.1,438.3 L141.3,440.4 L140.2,440.6 L137.3,441.1 L136.9,441.5 L133.6,444.4 L130.2,449.3 L127.6,448.5 L126.9,449.0 L124.7,451.1 L123.6,452.5 L121.3,455.6 L120.2,457.1 L118.0,460.0 L116.9,463.6 L114.7,470.7 L114.2,472.3 L111.3,476.7 L108.0,480.0 L104.7,477.2 L104.0,476.7 L101.3,475.3 L100.9,475.1 L99.6,494.9 L98.4,517.2 L95.8,517.2 L92.5,515.9 Z" fill="#5ab4a6" fill-opacity="0.2" stroke="none"/>
<path d="M92.5,460.9 L95.8,461.6 L98.4,469.2 L99.6,449.5 L100.9,427.2 L101.3,420.3 L104.0,424.2 L104.7,425.4 L108.0,429.8 L111.3,424.3 L114.2,419.4 L114.7,418.4 L116.9,400.8 L118.0,397.1 L120.2,389.7 L121.3,386.9 L123.6,381.3 L124.7,379.9 L126.9,377.0 L127.6,376.7 L130.2,375.7 L133.6,370.2 L136.9,367.6 L137.3,368.2 L140.2,372.1 L141.3,373.5 L143.1,375.7 L143.6,376.9 L145.3,404.5 L146.9,432.6 L147.6,435.4 L149.8,444.0 L150.2,445.6 L153.6,450.0 L156.9,455.3 L161.3,453.5 L165.8,449.4 L169.1,439.1 L172.4,447.1 L175.8,443.7 L179.1,441.2 L182.4,440.8 L183.6,440.7 L185.8,438.0 L188.4,430.0 L189.1,430.5 L191.3,432.6 L192.0,429.1 L194.7,415.2 L195.1,415.4 L198.0,417.0 L200.2,429.3 L201.3,432.4 L203.6,438.7 L206.9,440.8 L208.0,439.9 L210.2,438.2 L212.0,436.6 L213.6,435.1 L214.7,434.0 L218.0,430.7 L220.9,435.6 L221.3,436.3 L223.6,436.8 L226.9,437.6 L227.6,437.1 L231.3,434.5 L236.9,428.8 L240.2,436.2 L242.4,438.2 L243.6,439.3 L246.2,442.0 L246.9,442.7 L249.8,446.9 L250.2,447.5 L252.9,441.4 L253.6,439.9 L255.8,440.6 L259.1,421.6 L262.4,430.6 L265.8,431.8 L269.8,433.2 L274.7,432.2 L275.8,425.1 L276.9,418.0 L278.0,409.8 L278.7,404.8 L279.6,403.9 L282.4,401.2 L283.6,401.5 L284.7,402.0 L286.9,409.0 L288.0,412.6 L290.7,418.1 L291.3,419.4 L294.7,420.2 L298.0,409.4 L301.3,410.7 L304.7,408.6 L308.0,403.3 L311.3,405.7 L314.2,403.7 L316.9,408.3 L317.3,407.9 L318.0,407.3 L320.7,401.9 L321.3,401.5 L324.2,399.9 L324.7,400.2 L326.9,401.7 L328.0,402.5 L330.2,405.0 L332.4,414.7 L333.1,420.4 L333.6,424.7 L334.7,434.0 L336.2,447.4 L336.9,453.5 L340.2,452.2 L342.9,451.0 L345.8,456.3 L346.4,456.9 L349.1,459.4 L352.4,451.6 L355.8,455.7 L359.1,456.6 L362.4,455.4 L365.8,454.0 L366.9,453.5 L371.3,451.6 L372.4,451.6 L375.3,451.9 L379.1,448.8 L380.2,449.0 L383.6,449.5 L384.7,449.6 L388.7,442.7 L391.3,452.0 L391.8,451.4 L394.7,446.6 L398.0,443.3 L401.3,449.4 L404.7,443.5 L407.6,435.6 L410.9,440.2 L413.6,440.0 L414.0,440.7 L416.9,446.3 L420.2,450.8 L420.7,451.0 L423.6,452.1 L424.7,452.6 L429.1,454.6 L430.2,452.2 L433.1,446.0 L433.6,447.0 L436.9,454.1 L438.0,453.7 L441.3,452.4 L442.4,451.7 L443.6,451.0 L445.8,449.8 L446.4,452.4 L449.6,466.1 L452.4,458.0 L455.8,444.5 L456.9,444.7 L460.2,445.3 L464.7,446.5 L465.8,446.8 L469.1,445.0 L472.4,444.1 L473.6,443.8 L475.8,443.5 L476.9,443.3 L480.2,438.4 L482.4,433.3 L484.7,434.8 L488.0,442.0 L491.3,443.0 L494.7,437.6 L498.0,433.8 L501.3,425.6 L504.2,426.4 L505.8,415.0 L506.9,402.8 L507.3,398.3 L510.2,398.6 L513.6,399.4 L516.9,402.2 L520.2,401.1 L523.6,412.2 L524.2,413.0 L526.9,416.5 L529.1,416.2 L530.2,416.0 L533.1,411.6 L536.9,415.9 L540.2,418.1 L542.9,418.5 L543.6,416.2 L545.8,408.9 L546.9,405.2 L548.0,402.2 L551.3,397.8 L554.7,393.3 L555.8,391.6 L558.7,387.3 L559.1,386.7 L561.3,388.1 L562.4,388.9 L564.7,390.6 L565.3,391.1 L568.4,367.0 L572.0,370.0 L574.7,378.7 L575.1,380.0 L578.0,346.7 L580.9,345.5 L581.3,345.0 L584.7,339.9 L585.8,337.4 L588.0,332.2 L589.1,329.3 L590.2,326.4 L591.3,323.4 L592.4,320.5 L593.6,317.3 L594.7,314.3 L595.1,312.7 L596.9,305.5 L598.0,301.1 L600.2,286.4 L600.9,281.8 L601.3,279.1 L603.6,265.7 L604.0,263.3 L606.9,253.7 L607.3,252.3 L610.7,272.5 L613.8,297.6 L616.9,274.4 L620.2,251.3 L623.1,272.1 L626.2,287.7 L626.9,286.9 L629.8,283.3 L630.2,283.3 L632.9,283.3 L633.6,278.0 L634.7,269.7 L636.4,254.8 L639.6,263.4 L643.1,271.1 L644.7,290.4 L646.9,314.5 L649.1,327.7 L652.9,318.9 L655.8,314.4 L659.1,308.9 L662.4,311.1 L665.8,321.2 L669.1,327.8 L672.4,314.6 L675.3,294.7 L678.4,296.6 L680.2,323.0 L681.3,347.0 L684.7,338.9 L688.0,342.2 L691.3,345.5 L692.4,360.5 L692.9,381.2 L694.7,459.0 L696.4,464.3 L696.9,463.7 L699.1,460.0 L700.2,458.5 L702.4,455.6 L703.6,455.2 L705.8,454.4 L706.9,453.6 L710.2,451.1 L713.6,446.5 L716.9,436.7 L720.2,452.1 L723.6,443.3 L728.0,437.8 L732.4,429.0 L735.8,431.1 L739.1,433.3 L742.4,439.9 L745.8,426.7 L749.1,433.3 L752.4,437.7 L756.9,443.3 L761.3,448.6 L762.4,449.9 L765.8,446.6 L766.9,445.6 L770.2,443.9 L771.3,443.4 L772.4,436.4 L775.1,419.0 L781.3,428.8 L784.7,437.9 L788.0,446.7 L791.3,439.0 L794.7,433.3 L798.0,428.9 L801.3,424.5 L804.7,421.1 L808.0,421.1 L809.1,421.1 L810.9,418.4 L811.3,417.8 L813.6,401.2 L816.2,407.7 L816.9,408.8 L819.1,412.2 L820.2,411.9 L822.4,411.1 L823.6,408.2 L825.1,404.5 L826.9,398.9 L830.2,406.6 L833.1,404.5 L835.8,395.5 L836.9,392.2 L839.1,385.6 L842.4,382.3 L845.8,378.8 L849.1,365.6 L852.4,386.4 L855.8,383.3 L859.1,376.7 L862.0,371.1 L864.7,377.7 L868.0,374.4 L869.1,373.3 L871.3,371.1 L874.7,363.2 L875.1,362.2 L878.0,367.8 L881.3,361.2 L884.2,392.0 L886.9,396.7 L888.0,395.2 L890.2,392.3 L891.3,387.2 L894.0,374.4 L896.9,382.2 L898.0,385.0 L900.0,390.0 L903.3,399.1 L905.8,383.5 L906.7,379.4 L909.2,368.2 L910.0,365.8 L912.5,358.3 L913.3,357.4 L916.7,353.4 L920.0,356.7 L923.3,360.8 L926.7,364.1 L929.7,360.8 L933.3,362.5 L936.7,359.9 L940.0,348.3 L943.0,328.3 L945.8,333.3 L947.5,312.5 L949.1,292.5 L949.2,291.9 L952.0,307.4 L952.2,308.0 L955.3,273.9 L955.5,271.7 L957.0,298.1 L958.3,321.1 L958.4,321.7 L960.8,321.7 L962.5,321.2 L964.2,320.9 L965.3,321.4 L967.5,322.5 L968.3,322.8 L971.7,324.0 L975.0,311.7 L978.0,297.5 L978.4,299.1 L981.2,309.8 L981.3,309.4 L984.7,294.4 L987.8,317.3 L991.2,316.7 L994.2,320.8 L997.5,313.3 L1000.5,324.2 L1003.7,312.5 L1006.7,314.2 L1010.0,313.3 L1013.3,321.6 L1016.7,319.2 L1020.0,319.2 L1021.3,305.4 L1023.2,285.6 L1023.3,284.5 L1026.6,283.4 L1026.7,283.5 L1028.3,292.0 L1029.2,296.8 L1029.4,297.8 L1030.3,302.0 L1031.0,305.2 L1031.7,308.6 L1032.5,315.0 L1033.0,319.0 L1033.3,321.4 L1034.2,327.7 L1035.0,333.3 L1035.8,338.9 L1036.7,340.3 L1038.3,342.5 L1039.2,343.4 L1041.7,345.8 L1042.5,345.8 L1045.0,345.8 L1045.8,345.7 L1048.8,345.0 L1049.0,345.0 L1049.0,373.3 L1048.8,373.3 L1045.8,374.0 L1045.0,374.2 L1042.5,373.8 L1041.7,373.7 L1039.2,372.5 L1038.3,371.9 L1036.7,370.9 L1035.8,366.1 L1035.0,361.7 L1034.2,355.3 L1033.3,348.1 L1033.0,346.3 L1032.5,343.3 L1031.7,338.5 L1031.0,335.7 L1030.3,332.9 L1029.4,329.3 L1029.2,328.5 L1028.3,324.6 L1026.7,317.6 L1026.6,317.4 L1023.3,314.4 L1023.2,315.2 L1021.3,330.4 L1020.0,345.8 L1016.7,345.0 L1013.3,346.6 L1010.0,340.8 L1006.7,340.8 L1003.7,341.7 L1000.5,353.3 L997.5,340.8 L994.2,348.3 L991.2,345.0 L987.8,345.6 L984.7,324.4 L981.3,341.0 L981.2,341.5 L978.4,328.6 L978.0,326.7 L975.0,341.7 L971.7,354.0 L968.3,353.5 L967.5,353.3 L965.3,353.3 L964.2,353.3 L962.5,353.8 L960.8,354.2 L958.4,356.6 L958.3,356.0 L957.0,331.6 L955.5,303.3 L955.3,305.5 L952.2,339.6 L952.0,339.1 L949.2,323.5 L949.1,324.2 L947.5,344.2 L945.8,364.9 L943.0,356.7 L940.0,375.0 L936.7,384.1 L933.3,386.7 L929.7,385.3 L926.7,389.6 L923.3,386.6 L920.0,384.2 L916.7,383.0 L913.3,388.0 L912.5,389.2 L910.0,396.0 L909.2,398.2 L906.7,407.0 L905.8,410.2 L903.3,424.9 L900.0,415.0 L898.0,411.1 L896.9,408.9 L894.0,397.8 L891.3,410.5 L890.2,415.6 L888.0,419.3 L886.9,421.1 L884.2,416.4 L881.3,387.8 L878.0,394.4 L875.1,386.7 L874.7,387.5 L871.3,394.5 L869.1,398.2 L868.0,400.0 L864.7,404.4 L862.0,397.8 L859.1,403.4 L855.8,408.9 L852.4,414.2 L849.1,392.7 L845.8,406.6 L842.4,409.0 L839.1,414.9 L836.9,418.9 L835.8,421.8 L833.1,428.9 L830.2,429.9 L826.9,422.2 L825.1,425.8 L823.6,428.8 L822.4,430.3 L820.2,432.9 L819.1,432.3 L816.9,431.1 L816.2,429.6 L813.6,424.1 L811.3,441.3 L810.9,444.4 L809.1,441.7 L808.0,440.0 L804.7,441.1 L801.3,444.5 L798.0,447.8 L794.7,452.2 L791.3,458.9 L788.0,464.9 L784.7,458.9 L781.3,454.4 L775.1,445.6 L772.4,459.0 L771.3,461.5 L770.2,464.0 L766.9,466.0 L765.8,466.7 L762.4,470.0 L761.3,471.1 L756.9,475.5 L752.4,476.7 L749.1,479.5 L745.8,475.6 L742.4,484.4 L739.1,480.0 L735.8,478.9 L732.4,474.5 L728.0,481.8 L723.6,484.4 L720.2,483.3 L716.9,472.3 L713.6,479.5 L710.2,482.2 L706.9,483.3 L705.8,484.3 L703.6,486.2 L702.4,486.8 L700.2,487.8 L699.1,488.3 L696.9,489.3 L696.4,489.2 L694.7,488.9 L692.9,417.1 L692.4,410.4 L691.3,396.6 L688.0,393.3 L684.7,386.7 L681.3,383.9 L680.2,365.2 L678.4,337.7 L675.3,335.1 L672.4,350.3 L669.1,368.9 L665.8,361.2 L662.4,350.1 L659.1,354.0 L655.8,356.6 L652.9,360.0 L649.1,365.5 L646.9,350.1 L644.7,323.7 L643.1,303.3 L639.6,296.8 L636.4,290.4 L634.7,305.3 L633.6,314.6 L632.9,320.6 L630.2,322.0 L629.8,322.2 L626.9,326.4 L626.2,327.1 L623.1,294.4 L620.2,271.3 L616.9,296.6 L613.8,319.8 L610.7,294.7 L607.3,274.1 L606.9,275.1 L604.0,282.2 L603.6,284.1 L601.3,294.7 L600.9,297.3 L600.2,302.0 L598.0,316.7 L596.9,321.8 L595.1,330.2 L594.7,332.1 L593.6,334.7 L592.4,337.5 L591.3,340.1 L590.2,342.3 L589.1,344.5 L588.0,346.7 L585.8,351.8 L584.7,354.4 L581.3,359.4 L580.9,360.0 L578.0,358.9 L575.1,391.1 L574.7,389.8 L572.0,381.1 L568.4,377.0 L565.3,402.2 L564.7,401.5 L562.4,398.8 L561.3,397.7 L559.1,395.6 L558.7,396.1 L555.8,399.7 L554.7,401.1 L551.3,405.6 L548.0,410.0 L546.9,414.2 L545.8,417.9 L543.6,425.2 L542.9,427.5 L540.2,427.1 L536.9,424.6 L533.1,419.9 L530.2,424.0 L529.1,424.1 L526.9,424.2 L524.2,420.4 L523.6,419.5 L520.2,408.1 L516.9,408.9 L513.6,405.7 L510.2,405.0 L507.3,404.8 L506.9,408.7 L505.8,419.5 L504.2,429.0 L501.3,428.0 L498.0,436.3 L494.7,440.2 L491.3,445.8 L488.0,444.9 L484.7,437.8 L482.4,436.4 L480.2,441.6 L476.9,446.6 L475.8,446.8 L473.6,447.2 L472.4,447.8 L469.1,449.3 L465.8,451.7 L464.7,451.3 L460.2,449.4 L456.9,448.2 L455.8,447.8 L452.4,460.8 L449.6,468.4 L446.4,454.2 L445.8,451.5 L443.6,452.8 L442.4,453.6 L441.3,454.3 L438.0,455.8 L436.9,456.3 L433.6,449.3 L433.1,448.3 L430.2,454.4 L429.1,456.8 L424.7,454.5 L423.6,453.9 L420.7,452.7 L420.2,452.4 L416.9,447.8 L414.0,442.3 L413.6,441.5 L410.9,441.6 L407.6,437.0 L404.7,444.9 L401.3,450.7 L398.0,444.6 L394.7,447.9 L391.8,452.7 L391.3,453.3 L388.7,444.0 L384.7,451.0 L383.6,451.0 L380.2,450.6 L379.1,450.4 L375.3,453.6 L372.4,453.5 L371.3,453.5 L366.9,455.5 L365.8,455.9 L362.4,457.3 L359.1,458.6 L355.8,457.7 L352.4,453.6 L349.1,461.6 L346.4,459.3 L345.8,458.8 L342.9,453.6 L340.2,455.1 L336.9,456.6 L336.2,450.5 L334.7,437.2 L333.6,428.0 L333.1,423.8 L332.4,418.1 L330.2,408.6 L328.0,406.2 L326.9,405.5 L324.7,404.1 L324.2,403.9 L321.3,405.5 L320.7,405.9 L318.0,411.3 L317.3,411.9 L316.9,412.3 L314.2,407.7 L311.3,409.7 L308.0,407.3 L304.7,412.6 L301.3,414.6 L298.0,413.3 L294.7,424.1 L291.3,423.3 L290.7,422.0 L288.0,416.5 L286.9,413.0 L284.7,405.9 L283.6,405.4 L282.4,405.0 L279.6,407.3 L278.7,408.1 L278.0,412.9 L276.9,420.9 L275.8,427.9 L274.7,434.8 L269.8,435.0 L265.8,433.5 L262.4,432.3 L259.1,423.3 L255.8,442.3 L253.6,441.5 L252.9,443.0 L250.2,449.1 L249.8,448.5 L246.9,444.3 L246.2,443.6 L243.6,440.8 L242.4,439.7 L240.2,437.7 L236.9,430.3 L231.3,435.9 L227.6,438.4 L226.9,438.9 L223.6,438.2 L221.3,437.6 L220.9,436.9 L218.0,432.0 L214.7,435.3 L213.6,436.4 L212.0,437.8 L210.2,439.4 L208.0,441.1 L206.9,441.9 L203.6,439.9 L201.3,433.6 L200.2,430.5 L198.0,418.1 L195.1,416.5 L194.7,416.3 L192.0,430.2 L191.3,433.6 L189.1,431.5 L188.4,431.1 L185.8,439.0 L183.6,441.7 L182.4,441.8 L179.1,442.2 L175.8,444.7 L172.4,448.0 L169.1,440.0 L165.8,450.3 L161.3,454.3 L156.9,456.1 L153.6,450.9 L150.2,446.7 L149.8,445.1 L147.6,436.5 L146.9,433.8 L145.3,406.0 L143.6,379.4 L143.1,378.3 L141.3,376.7 L140.2,375.7 L137.3,371.8 L136.9,371.2 L133.6,373.8 L130.2,378.4 L127.6,378.6 L126.9,378.7 L124.7,382.1 L123.6,383.8 L121.3,389.5 L120.2,392.2 L118.0,399.0 L116.9,402.4 L114.7,419.5 L114.2,420.5 L111.3,425.3 L108.0,430.7 L104.7,426.2 L104.0,425.0 L101.3,421.0 L100.9,427.9 L99.6,450.2 L98.4,469.9 L95.8,462.3 L92.5,461.6 Z" fill="#b3a9de" fill-opacity="0.2" stroke="none"/>
<path d="M92.5,460.1 L95.8,460.8 L98.4,468.4 L99.6,448.7 L100.9,426.4 L101.3,419.5 L104.0,423.4 L104.7,424.6 L108.0,429.0 L111.3,423.5 L114.2,418.6 L114.7,417.6 L116.9,400.0 L118.0,396.3 L120.2,388.9 L121.3,386.1 L123.6,380.5 L124.7,379.1 L126.9,376.2 L127.6,375.9 L130.2,374.9 L133.6,369.4 L136.9,366.8 L137.3,367.4 L140.2,371.3 L141.3,372.7 L143.1,374.9 L143.6,376.1 L145.3,403.7 L146.9,431.8 L147.6,434.6 L149.8,443.2 L150.2,444.8 L153.6,449.2 L156.9,454.5 L161.3,452.7 L165.8,448.6 L169.1,438.3 L172.4,446.3 L175.8,442.9 L179.1,440.4 L182.4,440.0 L183.6,439.9 L185.8,437.2 L188.4,429.2 L189.1,429.7 L191.3,431.8 L192.0,428.3 L194.7,414.4 L195.1,414.6 L198.0,416.2 L200.2,428.5 L201.3,431.6 L203.6,437.9 L206.9,440.0 L208.0,439.1 L210.2,437.4 L212.0,435.8 L213.6,434.3 L214.7,433.2 L218.0,429.9 L220.9,434.8 L221.3,435.5 L223.6,436.0 L226.9,436.8 L227.6,436.3 L231.3,433.7 L236.9,428.0 L240.2,435.4 L242.4,437.4 L243.6,438.5 L246.2,441.2 L246.9,441.9 L249.8,446.1 L250.2,446.7 L252.9,440.6 L253.6,439.1 L255.8,439.8 L259.1,420.8 L262.4,429.8 L265.8,431.0 L269.8,432.4 L274.7,431.4 L275.8,424.3 L276.9,417.2 L278.0,409.0 L278.7,404.0 L279.6,403.1 L282.4,400.4 L283.6,400.7 L284.7,401.2 L286.9,408.2 L288.0,411.8 L290.7,417.3 L291.3,418.6 L294.7,419.4 L298.0,408.6 L301.3,409.9 L304.7,407.8 L308.0,402.5 L311.3,404.9 L314.2,402.9 L316.9,407.5 L317.3,407.1 L318.0,406.5 L320.7,401.1 L321.3,400.7 L324.2,399.1 L324.7,399.4 L326.9,400.9 L328.0,401.7 L330.2,404.2 L332.4,413.9 L333.1,419.6 L333.6,423.9 L334.7,433.2 L336.2,446.6 L336.9,452.7 L340.2,451.4 L342.9,450.2 L345.8,455.5 L346.4,456.1 L349.1,458.6 L352.4,450.8 L355.8,454.9 L359.1,455.8 L362.4,454.6 L365.8,453.2 L366.9,452.7 L371.3,450.8 L372.4,450.8 L375.3,451.1 L379.1,448.0 L380.2,448.2 L383.6,448.7 L384.7,448.8 L388.7,441.9 L391.3,451.2 L391.8,450.6 L394.7,445.8 L398.0,442.5 L401.3,448.6 L404.7,442.7 L407.6,434.8 L410.9,439.4 L413.6,439.2 L414.0,439.9 L416.9,445.5 L420.2,449.8 L420.7,450.0 L423.6,450.8 L424.7,451.1 L429.1,452.4 L430.2,449.8 L433.1,442.8 L433.6,443.9 L436.9,450.8 L438.0,450.4 L441.3,449.1 L442.4,448.4 L443.6,447.7 L445.8,446.5 L446.4,449.0 L449.6,462.1 L452.4,453.7 L455.8,439.5 L456.9,439.8 L460.2,440.5 L464.7,441.9 L465.8,442.3 L469.1,440.5 L472.4,439.6 L473.6,439.3 L475.8,438.9 L476.9,438.7 L480.2,433.7 L482.4,428.5 L484.7,429.9 L488.0,437.0 L491.3,438.0 L494.7,432.4 L498.0,428.5 L501.3,420.2 L504.2,420.9 L505.8,409.2 L506.9,396.9 L507.3,392.4 L510.2,392.5 L513.6,393.2 L516.9,396.0 L520.2,394.8 L523.6,405.9 L524.2,406.7 L526.9,410.2 L529.1,409.8 L530.2,409.7 L533.1,405.1 L536.9,409.5 L540.2,411.6 L542.9,412.0 L543.6,409.7 L545.8,402.4 L546.9,398.6 L548.0,388.9 L551.3,383.4 L554.7,380.0 L555.8,378.9 L558.7,375.6 L559.1,376.1 L561.3,378.8 L562.4,379.6 L564.7,380.9 L565.3,376.6 L568.4,354.8 L572.0,358.9 L574.7,367.4 L575.1,363.4 L578.0,334.4 L580.9,335.5 L581.3,334.7 L584.7,327.7 L585.8,325.5 L588.0,321.1 L589.1,317.4 L590.2,313.8 L591.3,310.1 L592.4,306.4 L593.6,302.4 L594.7,298.7 L595.1,296.6 L596.9,287.0 L598.0,281.1 L600.2,266.4 L600.9,261.8 L601.3,259.1 L603.6,249.4 L604.0,247.8 L606.9,222.6 L607.3,219.2 L610.7,239.2 L613.8,272.1 L616.9,254.3 L620.2,216.9 L623.1,252.1 L626.2,266.6 L626.9,265.4 L629.8,260.0 L630.2,260.3 L632.9,262.1 L633.6,254.7 L634.7,243.0 L636.4,228.2 L639.6,239.1 L643.1,258.8 L644.7,272.6 L646.9,294.5 L649.1,306.6 L652.9,295.5 L655.8,291.1 L659.1,286.7 L662.4,288.9 L665.8,297.8 L669.1,304.4 L672.4,290.2 L675.3,271.3 L678.4,272.2 L680.2,305.1 L681.3,334.7 L684.7,321.1 L688.0,324.4 L691.3,326.6 L692.4,349.1 L692.9,371.4 L694.7,454.5 L696.4,459.9 L696.9,459.1 L699.1,454.9 L700.2,453.7 L702.4,451.2 L703.6,450.7 L705.8,450.0 L706.9,448.9 L710.2,445.6 L713.6,439.8 L716.9,427.8 L720.2,443.2 L723.6,435.5 L728.0,432.2 L732.4,423.4 L735.8,425.6 L739.1,427.8 L742.4,431.1 L745.8,416.7 L749.1,426.6 L752.4,431.1 L756.9,435.6 L761.3,440.8 L762.4,442.2 L765.8,438.9 L766.9,437.8 L770.2,434.5 L771.3,433.4 L772.4,426.4 L775.1,409.0 L781.3,423.3 L784.7,427.8 L788.0,434.4 L791.3,427.0 L794.7,418.9 L798.0,415.6 L801.3,411.2 L804.7,406.7 L808.0,405.8 L809.1,405.6 L810.9,399.3 L811.3,397.9 L813.6,379.0 L816.2,386.6 L816.9,388.0 L819.1,392.2 L820.2,392.6 L822.4,393.3 L823.6,389.5 L825.1,384.5 L826.9,377.8 L830.2,387.7 L833.1,386.7 L835.8,375.5 L836.9,371.4 L839.1,363.4 L842.4,358.9 L845.8,355.4 L849.1,337.8 L852.4,365.2 L855.8,359.9 L859.1,352.2 L862.0,345.6 L864.7,351.1 L868.0,348.9 L869.1,347.4 L871.3,344.5 L874.7,334.5 L875.1,333.4 L878.0,340.0 L881.3,332.3 L884.2,374.1 L886.9,378.9 L888.0,377.0 L890.2,373.4 L891.3,367.3 L894.0,352.2 L896.9,361.1 L898.0,363.1 L900.0,366.7 L903.3,376.6 L905.8,358.2 L906.7,354.6 L909.2,344.9 L910.0,342.5 L912.5,335.0 L913.3,333.7 L916.7,328.4 L920.0,333.3 L923.3,337.5 L926.7,341.6 L929.7,337.5 L933.3,340.8 L936.7,336.5 L940.0,318.3 L943.0,301.7 L945.8,305.0 L947.5,279.9 L949.1,255.7 L949.2,256.2 L952.0,275.6 L952.2,273.4 L955.3,239.3 L955.5,242.1 L957.0,271.0 L958.3,296.0 L958.4,296.6 L960.8,295.0 L962.5,293.8 L964.2,292.5 L965.3,293.3 L967.5,295.0 L968.3,295.2 L971.7,295.7 L975.0,281.7 L978.0,265.8 L978.4,267.7 L981.2,280.7 L981.3,280.1 L984.7,262.0 L987.8,289.7 L991.2,289.2 L994.2,294.1 L997.5,284.2 L1000.5,296.7 L1003.7,285.0 L1006.7,288.3 L1010.0,286.7 L1013.3,294.9 L1016.7,293.3 L1020.0,293.3 L1021.3,277.1 L1023.2,250.8 L1023.3,250.7 L1026.6,248.6 L1026.7,249.2 L1028.3,259.5 L1029.2,265.2 L1029.4,266.1 L1030.3,270.3 L1031.0,273.6 L1031.7,276.9 L1032.5,282.5 L1033.0,286.0 L1033.3,288.1 L1034.2,295.3 L1035.0,301.7 L1035.8,308.1 L1036.7,309.5 L1038.3,311.6 L1039.2,312.5 L1041.7,315.0 L1042.5,315.0 L1045.0,315.0 L1045.8,314.9 L1048.8,314.5 L1049.0,314.5 L1049.0,345.0 L1048.8,345.0 L1045.8,345.7 L1045.0,345.8 L1042.5,345.8 L1041.7,345.8 L1039.2,343.4 L1038.3,342.5 L1036.7,340.3 L1035.8,338.9 L1035.0,333.3 L1034.2,327.7 L1033.3,321.4 L1033.0,319.0 L1032.5,315.0 L1031.7,308.6 L1031.0,305.2 L1030.3,302.0 L1029.4,297.8 L1029.2,296.8 L1028.3,292.0 L1026.7,283.5 L1026.6,283.4 L1023.3,284.5 L1023.2,285.6 L1021.3,305.4 L1020.0,319.2 L1016.7,319.2 L1013.3,321.6 L1010.0,313.3 L1006.7,314.2 L1003.7,312.5 L1000.5,324.2 L997.5,313.3 L994.2,320.8 L991.2,316.7 L987.8,317.3 L984.7,294.4 L981.3,309.4 L981.2,309.8 L978.4,299.1 L978.0,297.5 L975.0,311.7 L971.7,324.0 L968.3,322.8 L967.5,322.5 L965.3,321.4 L964.2,320.9 L962.5,321.2 L960.8,321.7 L958.4,321.7 L958.3,321.1 L957.0,298.1 L955.5,271.7 L955.3,273.9 L952.2,308.0 L952.0,307.4 L949.2,291.9 L949.1,292.5 L947.5,312.5 L945.8,333.3 L943.0,328.3 L940.0,348.3 L936.7,359.9 L933.3,362.5 L929.7,360.8 L926.7,364.1 L923.3,360.8 L920.0,356.7 L916.7,353.4 L913.3,357.4 L912.5,358.3 L910.0,365.8 L909.2,368.2 L906.7,379.4 L905.8,383.5 L903.3,399.1 L900.0,390.0 L898.0,385.0 L896.9,382.2 L894.0,374.4 L891.3,387.2 L890.2,392.3 L888.0,395.2 L886.9,396.7 L884.2,392.0 L881.3,361.2 L878.0,367.8 L875.1,362.2 L874.7,363.2 L871.3,371.1 L869.1,373.3 L868.0,374.4 L864.7,377.7 L862.0,371.1 L859.1,376.7 L855.8,383.3 L852.4,386.4 L849.1,365.6 L845.8,378.8 L842.4,382.3 L839.1,385.6 L836.9,392.2 L835.8,395.5 L833.1,404.5 L830.2,406.6 L826.9,398.9 L825.1,404.5 L823.6,408.2 L822.4,411.1 L820.2,411.9 L819.1,412.2 L816.9,408.8 L816.2,407.7 L813.6,401.2 L811.3,417.8 L810.9,418.4 L809.1,421.1 L808.0,421.1 L804.7,421.1 L801.3,424.5 L798.0,428.9 L794.7,433.3 L791.3,439.0 L788.0,446.7 L784.7,437.9 L781.3,428.8 L775.1,419.0 L772.4,436.4 L771.3,443.4 L770.2,443.9 L766.9,445.6 L765.8,446.6 L762.4,449.9 L761.3,448.6 L756.9,443.3 L752.4,437.7 L749.1,433.3 L745.8,426.7 L742.4,439.9 L739.1,433.3 L735.8,431.1 L732.4,429.0 L728.0,437.8 L723.6,443.3 L720.2,452.1 L716.9,436.7 L713.6,446.5 L710.2,451.1 L706.9,453.6 L705.8,454.4 L703.6,455.2 L702.4,455.6 L700.2,458.5 L699.1,460.0 L696.9,463.7 L696.4,464.3 L694.7,459.0 L692.9,381.2 L692.4,360.5 L691.3,345.5 L688.0,342.2 L684.7,338.9 L681.3,347.0 L680.2,323.0 L678.4,296.6 L675.3,294.7 L672.4,314.6 L669.1,327.8 L665.8,321.2 L662.4,311.1 L659.1,308.9 L655.8,314.4 L652.9,318.9 L649.1,327.7 L646.9,314.5 L644.7,290.4 L643.1,271.1 L639.6,263.4 L636.4,254.8 L634.7,269.7 L633.6,278.0 L632.9,283.3 L630.2,283.3 L629.8,283.3 L626.9,286.9 L626.2,287.7 L623.1,272.1 L620.2,251.3 L616.9,274.4 L613.8,297.6 L610.7,272.5 L607.3,252.3 L606.9,253.7 L604.0,263.3 L603.6,265.7 L601.3,279.1 L600.9,281.8 L600.2,286.4 L598.0,301.1 L596.9,305.5 L595.1,312.7 L594.7,314.3 L593.6,317.3 L592.4,320.5 L591.3,323.4 L590.2,326.4 L589.1,329.3 L588.0,332.2 L585.8,337.4 L584.7,339.9 L581.3,345.0 L580.9,345.5 L578.0,346.7 L575.1,380.0 L574.7,378.7 L572.0,370.0 L568.4,367.0 L565.3,391.1 L564.7,390.6 L562.4,388.9 L561.3,388.1 L559.1,386.7 L558.7,387.3 L555.8,391.6 L554.7,393.3 L551.3,397.8 L548.0,402.2 L546.9,405.2 L545.8,408.9 L543.6,416.2 L542.9,418.5 L540.2,418.1 L536.9,415.9 L533.1,411.6 L530.2,416.0 L529.1,416.2 L526.9,416.5 L524.2,413.0 L523.6,412.2 L520.2,401.1 L516.9,402.2 L513.6,399.4 L510.2,398.6 L507.3,398.3 L506.9,402.8 L505.8,415.0 L504.2,426.4 L501.3,425.6 L498.0,433.8 L494.7,437.6 L491.3,443.0 L488.0,442.0 L484.7,434.8 L482.4,433.3 L480.2,438.4 L476.9,443.3 L475.8,443.5 L473.6,443.8 L472.4,444.1 L469.1,445.0 L465.8,446.8 L464.7,446.5 L460.2,445.3 L456.9,444.7 L455.8,444.5 L452.4,458.0 L449.6,466.1 L446.4,452.4 L445.8,449.8 L443.6,451.0 L442.4,451.7 L441.3,452.4 L438.0,453.7 L436.9,454.1 L433.6,447.0 L433.1,446.0 L430.2,452.2 L429.1,454.6 L424.7,452.6 L423.6,452.1 L420.7,451.0 L420.2,450.8 L416.9,446.3 L414.0,440.7 L413.6,440.0 L410.9,440.2 L407.6,435.6 L404.7,443.5 L401.3,449.4 L398.0,443.3 L394.7,446.6 L391.8,451.4 L391.3,452.0 L388.7,442.7 L384.7,449.6 L383.6,449.5 L380.2,449.0 L379.1,448.8 L375.3,451.9 L372.4,451.6 L371.3,451.6 L366.9,453.5 L365.8,454.0 L362.4,455.4 L359.1,456.6 L355.8,455.7 L352.4,451.6 L349.1,459.4 L346.4,456.9 L345.8,456.3 L342.9,451.0 L340.2,452.2 L336.9,453.5 L336.2,447.4 L334.7,434.0 L333.6,424.7 L333.1,420.4 L332.4,414.7 L330.2,405.0 L328.0,402.5 L326.9,401.7 L324.7,400.2 L324.2,399.9 L321.3,401.5 L320.7,401.9 L318.0,407.3 L317.3,407.9 L316.9,408.3 L314.2,403.7 L311.3,405.7 L308.0,403.3 L304.7,408.6 L301.3,410.7 L298.0,409.4 L294.7,420.2 L291.3,419.4 L290.7,418.1 L288.0,412.6 L286.9,409.0 L284.7,402.0 L283.6,401.5 L282.4,401.2 L279.6,403.9 L278.7,404.8 L278.0,409.8 L276.9,418.0 L275.8,425.1 L274.7,432.2 L269.8,433.2 L265.8,431.8 L262.4,430.6 L259.1,421.6 L255.8,440.6 L253.6,439.9 L252.9,441.4 L250.2,447.5 L249.8,446.9 L246.9,442.7 L246.2,442.0 L243.6,439.3 L242.4,438.2 L240.2,436.2 L236.9,428.8 L231.3,434.5 L227.6,437.1 L226.9,437.6 L223.6,436.8 L221.3,436.3 L220.9,435.6 L218.0,430.7 L214.7,434.0 L213.6,435.1 L212.0,436.6 L210.2,438.2 L208.0,439.9 L206.9,440.8 L203.6,438.7 L201.3,432.4 L200.2,429.3 L198.0,417.0 L195.1,415.4 L194.7,415.2 L192.0,429.1 L191.3,432.6 L189.1,430.5 L188.4,430.0 L185.8,438.0 L183.6,440.7 L182.4,440.8 L179.1,441.2 L175.8,443.7 L172.4,447.1 L169.1,439.1 L165.8,449.4 L161.3,453.5 L156.9,455.3 L153.6,450.0 L150.2,445.6 L149.8,444.0 L147.6,435.4 L146.9,432.6 L145.3,404.5 L143.6,376.9 L143.1,375.7 L141.3,373.5 L140.2,372.1 L137.3,368.2 L136.9,367.6 L133.6,370.2 L130.2,375.7 L127.6,376.7 L126.9,377.0 L124.7,379.9 L123.6,381.3 L121.3,386.9 L120.2,389.7 L118.0,397.1 L116.9,400.8 L114.7,418.4 L114.2,419.4 L111.3,424.3 L108.0,429.8 L104.7,425.4 L104.0,424.2 L101.3,420.3 L100.9,427.2 L99.6,449.5 L98.4,469.2 L95.8,461.6 L92.5,460.9 Z" fill="#e8762d" fill-opacity="0.2" stroke="none"/>
<path d="M92.5,450.9 L95.8,451.4 L98.4,459.0 L99.6,439.2 L100.9,416.9 L101.3,410.0 L104.0,413.9 L104.7,415.1 L108.0,419.5 L111.3,414.0 L114.2,409.1 L114.7,408.1 L116.9,390.4 L118.0,386.6 L120.2,379.1 L121.3,376.3 L123.6,370.4 L124.7,368.8 L126.9,365.6 L127.6,365.2 L130.2,363.7 L133.6,357.6 L136.9,355.0 L137.3,355.5 L140.2,358.9 L141.3,359.9 L143.1,361.6 L143.6,362.7 L145.3,392.0 L146.9,420.9 L147.6,423.6 L149.8,432.4 L150.2,434.0 L153.6,438.5 L156.9,443.9 L161.3,441.9 L165.8,437.7 L169.1,427.3 L172.4,435.2 L175.8,431.7 L179.1,429.0 L182.4,428.6 L183.6,428.4 L185.8,425.6 L188.4,417.5 L189.1,418.0 L191.3,420.0 L192.0,416.5 L194.7,402.5 L195.1,402.7 L198.0,404.2 L200.2,416.4 L201.3,419.5 L203.6,425.7 L206.9,427.6 L208.0,426.8 L210.2,425.0 L212.0,423.3 L213.6,421.8 L214.7,420.7 L218.0,417.2 L220.9,422.0 L221.3,422.7 L223.6,423.2 L226.9,424.0 L227.6,423.5 L231.3,421.0 L236.9,415.3 L240.2,422.7 L242.4,424.8 L243.6,425.9 L246.2,428.6 L246.9,429.3 L249.8,433.5 L250.2,434.1 L252.9,428.0 L253.6,426.5 L255.8,427.3 L259.1,408.3 L262.4,417.3 L265.8,418.8 L269.8,420.4 L274.7,419.3 L275.8,412.2 L276.9,405.1 L278.0,397.0 L278.7,392.0 L279.6,391.1 L282.4,388.3 L283.6,388.6 L284.7,389.0 L286.9,396.0 L288.0,399.4 L290.7,404.8 L291.3,406.1 L294.7,406.7 L298.0,395.8 L301.3,396.9 L304.7,394.7 L308.0,389.2 L311.3,391.5 L314.2,389.3 L316.9,393.8 L317.3,393.4 L318.0,392.7 L320.7,387.1 L321.3,386.8 L324.2,385.0 L324.7,385.3 L326.9,387.0 L328.0,387.8 L330.2,390.4 L332.4,400.2 L333.1,406.0 L333.6,410.2 L334.7,419.6 L336.2,433.1 L336.9,439.3 L340.2,438.1 L342.9,437.0 L345.8,442.5 L346.4,443.1 L349.1,445.8 L352.4,438.1 L355.8,442.3 L359.1,443.3 L362.4,442.1 L365.8,440.8 L366.9,440.3 L371.3,438.5 L372.4,438.5 L375.3,438.5 L379.1,435.2 L380.2,435.2 L383.6,435.5 L384.7,435.6 L388.7,428.4 L391.3,437.9 L391.8,437.3 L394.7,432.7 L398.0,429.6 L401.3,435.5 L404.7,429.5 L407.6,421.4 L410.9,425.8 L413.6,425.4 L414.0,426.2 L416.9,431.5 L420.2,435.8 L420.7,436.0 L423.6,436.8 L424.7,437.1 L429.1,438.2 L430.2,435.9 L433.1,429.8 L433.6,430.7 L436.9,437.3 L438.0,436.7 L441.3,434.8 L442.4,433.9 L443.6,433.0 L445.8,431.4 L446.4,434.1 L449.6,448.3 L452.4,440.7 L455.8,427.7 L456.9,427.8 L460.2,428.2 L464.7,428.8 L465.8,429.0 L469.1,426.8 L472.4,425.5 L473.6,425.0 L475.8,424.3 L476.9,423.9 L480.2,418.4 L482.4,412.9 L484.7,414.0 L488.0,420.6 L491.3,421.0 L494.7,415.0 L498.0,410.6 L501.3,401.8 L504.2,402.1 L505.8,390.6 L506.9,378.4 L507.3,373.9 L510.2,374.0 L513.6,374.6 L516.9,377.4 L520.2,376.2 L523.6,387.3 L524.2,388.1 L526.9,391.6 L529.1,391.3 L530.2,391.1 L533.1,386.6 L536.9,391.0 L540.2,393.1 L542.9,393.5 L543.6,391.2 L545.8,383.9 L546.9,380.1 L548.0,371.1 L551.3,363.4 L554.7,362.1 L555.8,359.4 L558.7,352.3 L559.1,352.8 L561.3,355.5 L562.4,356.6 L564.7,358.7 L565.3,354.4 L568.4,332.5 L572.0,337.8 L574.7,347.4 L575.1,343.2 L578.0,312.2 L580.9,311.1 L581.3,310.3 L584.7,303.3 L585.8,300.7 L588.0,295.6 L589.1,292.3 L590.2,289.0 L591.3,285.7 L592.4,282.0 L593.6,278.0 L594.7,274.3 L595.1,272.4 L596.9,264.0 L598.0,258.9 L600.2,236.9 L600.9,232.6 L601.3,230.2 L603.6,216.4 L604.0,213.7 L606.9,194.0 L607.3,191.3 L610.7,212.6 L613.8,243.1 L616.9,216.6 L620.2,186.9 L623.1,215.4 L626.2,234.3 L626.9,233.8 L629.8,231.1 L630.2,231.0 L632.9,229.9 L633.6,222.9 L634.7,211.9 L636.4,197.1 L639.6,206.8 L643.1,213.3 L644.7,245.8 L646.9,263.4 L649.1,278.8 L652.9,267.8 L655.8,263.3 L659.1,258.9 L662.4,263.3 L665.8,272.3 L669.1,280.0 L672.4,267.9 L675.3,252.4 L678.4,253.3 L680.2,283.0 L681.3,309.2 L684.7,296.7 L688.0,302.2 L691.3,305.5 L692.4,337.6 L692.9,358.7 L694.7,435.7 L696.4,442.1 L696.9,441.5 L699.1,437.8 L700.2,436.1 L702.4,432.7 L703.6,432.1 L705.8,431.1 L706.9,430.6 L710.2,428.9 L713.6,424.3 L716.9,414.5 L720.2,429.5 L723.6,421.1 L728.0,415.6 L732.4,409.0 L735.8,410.0 L739.1,413.3 L742.4,415.5 L745.8,406.7 L749.1,415.5 L752.4,421.0 L756.9,423.3 L761.3,429.5 L762.4,431.0 L765.8,427.8 L766.9,426.7 L770.2,425.0 L771.3,424.5 L772.4,417.9 L775.1,401.2 L781.3,413.3 L784.7,417.8 L788.0,424.4 L791.3,416.7 L794.7,410.0 L798.0,405.6 L801.3,401.2 L804.7,396.6 L808.0,395.0 L809.1,394.4 L810.9,389.1 L811.3,387.9 L813.6,366.8 L816.2,375.5 L816.9,376.9 L819.1,381.1 L820.2,380.7 L822.4,380.0 L823.6,377.1 L825.1,373.4 L826.9,367.8 L830.2,375.5 L833.1,374.4 L835.8,363.2 L836.9,358.5 L839.1,348.9 L842.4,344.5 L845.8,341.0 L849.1,317.9 L852.4,351.8 L855.8,345.5 L859.1,337.8 L862.0,330.0 L864.7,335.5 L868.0,332.2 L869.1,331.1 L871.3,328.9 L874.7,318.0 L875.1,316.7 L878.0,325.6 L881.3,315.7 L884.2,358.6 L886.9,362.2 L888.0,360.4 L890.2,356.7 L891.3,351.0 L894.0,336.7 L896.9,347.8 L898.0,348.6 L900.0,350.0 L903.3,357.9 L905.8,345.2 L906.7,341.1 L909.2,329.9 L910.0,327.5 L912.5,320.0 L913.3,318.7 L916.7,313.4 L920.0,318.3 L923.3,321.6 L926.7,325.8 L929.7,321.7 L933.3,325.0 L936.7,319.8 L940.0,303.3 L943.0,285.0 L945.8,286.6 L947.5,261.8 L949.1,237.9 L949.2,238.4 L952.0,257.8 L952.2,255.4 L955.3,218.2 L955.5,221.0 L957.0,249.9 L958.3,275.0 L958.4,276.9 L960.8,277.5 L962.5,276.1 L964.2,274.7 L965.3,275.1 L967.5,275.8 L968.3,276.0 L971.7,276.5 L975.0,265.0 L978.0,247.1 L978.4,244.7 L981.2,257.2 L981.3,257.6 L984.7,242.5 L987.8,270.5 L991.2,270.1 L994.2,275.7 L997.5,265.8 L1000.5,278.3 L1003.7,265.9 L1006.7,269.1 L1010.0,267.5 L1013.3,274.9 L1016.7,272.5 L1020.0,273.3 L1021.3,258.7 L1023.2,229.6 L1023.3,229.6 L1026.6,228.0 L1026.7,228.5 L1028.3,235.9 L1029.2,240.1 L1029.4,241.0 L1030.3,248.3 L1031.0,254.0 L1031.7,260.3 L1032.5,267.5 L1033.0,272.0 L1033.3,274.0 L1034.2,280.0 L1035.0,285.3 L1035.8,290.6 L1036.7,292.0 L1038.3,294.1 L1039.2,295.0 L1041.7,297.5 L1042.5,297.6 L1045.0,298.0 L1045.8,297.9 L1048.8,297.5 L1049.0,297.5 L1049.0,314.5 L1048.8,314.5 L1045.8,314.9 L1045.0,315.0 L1042.5,315.0 L1041.7,315.0 L1039.2,312.5 L1038.3,311.6 L1036.7,309.5 L1035.8,308.1 L1035.0,301.7 L1034.2,295.3 L1033.3,288.1 L1033.0,286.0 L1032.5,282.5 L1031.7,276.9 L1031.0,273.6 L1030.3,270.3 L1029.4,266.1 L1029.2,265.2 L1028.3,259.5 L1026.7,249.2 L1026.6,248.6 L1023.3,250.7 L1023.2,250.8 L1021.3,277.1 L1020.0,293.3 L1016.7,293.3 L1013.3,294.9 L1010.0,286.7 L1006.7,288.3 L1003.7,285.0 L1000.5,296.7 L997.5,284.2 L994.2,294.1 L991.2,289.2 L987.8,289.7 L984.7,262.0 L981.3,280.1 L981.2,280.7 L978.4,267.7 L978.0,265.8 L975.0,281.7 L971.7,295.7 L968.3,295.2 L967.5,295.0 L965.3,293.3 L964.2,292.5 L962.5,293.8 L960.8,295.0 L958.4,296.6 L958.3,296.0 L957.0,271.0 L955.5,242.1 L955.3,239.3 L952.2,273.4 L952.0,275.6 L949.2,256.2 L949.1,255.7 L947.5,279.9 L945.8,305.0 L943.0,301.7 L940.0,318.3 L936.7,336.5 L933.3,340.8 L929.7,337.5 L926.7,341.6 L923.3,337.5 L920.0,333.3 L916.7,328.4 L913.3,333.7 L912.5,335.0 L910.0,342.5 L909.2,344.9 L906.7,354.6 L905.8,358.2 L903.3,376.6 L900.0,366.7 L898.0,363.1 L896.9,361.1 L894.0,352.2 L891.3,367.3 L890.2,373.4 L888.0,377.0 L886.9,378.9 L884.2,374.1 L881.3,332.3 L878.0,340.0 L875.1,333.4 L874.7,334.5 L871.3,344.5 L869.1,347.4 L868.0,348.9 L864.7,351.1 L862.0,345.6 L859.1,352.2 L855.8,359.9 L852.4,365.2 L849.1,337.8 L845.8,355.4 L842.4,358.9 L839.1,363.4 L836.9,371.4 L835.8,375.5 L833.1,386.7 L830.2,387.7 L826.9,377.8 L825.1,384.5 L823.6,389.5 L822.4,393.3 L820.2,392.6 L819.1,392.2 L816.9,388.0 L816.2,386.6 L813.6,379.0 L811.3,397.9 L810.9,399.3 L809.1,405.6 L808.0,405.8 L804.7,406.7 L801.3,411.2 L798.0,415.6 L794.7,418.9 L791.3,427.0 L788.0,434.4 L784.7,427.8 L781.3,423.3 L775.1,409.0 L772.4,426.4 L771.3,433.4 L770.2,434.5 L766.9,437.8 L765.8,438.9 L762.4,442.2 L761.3,440.8 L756.9,435.6 L752.4,431.1 L749.1,426.6 L745.8,416.7 L742.4,431.1 L739.1,427.8 L735.8,425.6 L732.4,423.4 L728.0,432.2 L723.6,435.5 L720.2,443.2 L716.9,427.8 L713.6,439.8 L710.2,445.6 L706.9,448.9 L705.8,450.0 L703.6,450.7 L702.4,451.2 L700.2,453.7 L699.1,454.9 L696.9,459.1 L696.4,459.9 L694.7,454.5 L692.9,371.4 L692.4,349.1 L691.3,326.6 L688.0,324.4 L684.7,321.1 L681.3,334.7 L680.2,305.1 L678.4,272.2 L675.3,271.3 L672.4,290.2 L669.1,304.4 L665.8,297.8 L662.4,288.9 L659.1,286.7 L655.8,291.1 L652.9,295.5 L649.1,306.6 L646.9,294.5 L644.7,272.6 L643.1,258.8 L639.6,239.1 L636.4,228.2 L634.7,243.0 L633.6,254.7 L632.9,262.1 L630.2,260.3 L629.8,260.0 L626.9,265.4 L626.2,266.6 L623.1,252.1 L620.2,216.9 L616.9,254.3 L613.8,272.1 L610.7,239.2 L607.3,219.2 L606.9,222.6 L604.0,247.8 L603.6,249.4 L601.3,259.1 L600.9,261.8 L600.2,266.4 L598.0,281.1 L596.9,287.0 L595.1,296.6 L594.7,298.7 L593.6,302.4 L592.4,306.4 L591.3,310.1 L590.2,313.8 L589.1,317.4 L588.0,321.1 L585.8,325.5 L584.7,327.7 L581.3,334.7 L580.9,335.5 L578.0,334.4 L575.1,363.4 L574.7,367.4 L572.0,358.9 L568.4,354.8 L565.3,376.6 L564.7,380.9 L562.4,379.6 L561.3,378.8 L559.1,376.1 L558.7,375.6 L555.8,378.9 L554.7,380.0 L551.3,383.4 L548.0,388.9 L546.9,398.6 L545.8,402.4 L543.6,409.7 L542.9,412.0 L540.2,411.6 L536.9,409.5 L533.1,405.1 L530.2,409.7 L529.1,409.8 L526.9,410.2 L524.2,406.7 L523.6,405.9 L520.2,394.8 L516.9,396.0 L513.6,393.2 L510.2,392.5 L507.3,392.4 L506.9,396.9 L505.8,409.2 L504.2,420.9 L501.3,420.2 L498.0,428.5 L494.7,432.4 L491.3,438.0 L488.0,437.0 L484.7,429.9 L482.4,428.5 L480.2,433.7 L476.9,438.7 L475.8,438.9 L473.6,439.3 L472.4,439.6 L469.1,440.5 L465.8,442.3 L464.7,441.9 L460.2,440.5 L456.9,439.8 L455.8,439.5 L452.4,453.7 L449.6,462.1 L446.4,449.0 L445.8,446.5 L443.6,447.7 L442.4,448.4 L441.3,449.1 L438.0,450.4 L436.9,450.8 L433.6,443.9 L433.1,442.8 L430.2,449.8 L429.1,452.4 L424.7,451.1 L423.6,450.8 L420.7,450.0 L420.2,449.8 L416.9,445.5 L414.0,439.9 L413.6,439.2 L410.9,439.4 L407.6,434.8 L404.7,442.7 L401.3,448.6 L398.0,442.5 L394.7,445.8 L391.8,450.6 L391.3,451.2 L388.7,441.9 L384.7,448.8 L383.6,448.7 L380.2,448.2 L379.1,448.0 L375.3,451.1 L372.4,450.8 L371.3,450.8 L366.9,452.7 L365.8,453.2 L362.4,454.6 L359.1,455.8 L355.8,454.9 L352.4,450.8 L349.1,458.6 L346.4,456.1 L345.8,455.5 L342.9,450.2 L340.2,451.4 L336.9,452.7 L336.2,446.6 L334.7,433.2 L333.6,423.9 L333.1,419.6 L332.4,413.9 L330.2,404.2 L328.0,401.7 L326.9,400.9 L324.7,399.4 L324.2,399.1 L321.3,400.7 L320.7,401.1 L318.0,406.5 L317.3,407.1 L316.9,407.5 L314.2,402.9 L311.3,404.9 L308.0,402.5 L304.7,407.8 L301.3,409.9 L298.0,408.6 L294.7,419.4 L291.3,418.6 L290.7,417.3 L288.0,411.8 L286.9,408.2 L284.7,401.2 L283.6,400.7 L282.4,400.4 L279.6,403.1 L278.7,404.0 L278.0,409.0 L276.9,417.2 L275.8,424.3 L274.7,431.4 L269.8,432.4 L265.8,431.0 L262.4,429.8 L259.1,420.8 L255.8,439.8 L253.6,439.1 L252.9,440.6 L250.2,446.7 L249.8,446.1 L246.9,441.9 L246.2,441.2 L243.6,438.5 L242.4,437.4 L240.2,435.4 L236.9,428.0 L231.3,433.7 L227.6,436.3 L226.9,436.8 L223.6,436.0 L221.3,435.5 L220.9,434.8 L218.0,429.9 L214.7,433.2 L213.6,434.3 L212.0,435.8 L210.2,437.4 L208.0,439.1 L206.9,440.0 L203.6,437.9 L201.3,431.6 L200.2,428.5 L198.0,416.2 L195.1,414.6 L194.7,414.4 L192.0,428.3 L191.3,431.8 L189.1,429.7 L188.4,429.2 L185.8,437.2 L183.6,439.9 L182.4,440.0 L179.1,440.4 L175.8,442.9 L172.4,446.3 L169.1,438.3 L165.8,448.6 L161.3,452.7 L156.9,454.5 L153.6,449.2 L150.2,444.8 L149.8,443.2 L147.6,434.6 L146.9,431.8 L145.3,403.7 L143.6,376.1 L143.1,374.9 L141.3,372.7 L140.2,371.3 L137.3,367.4 L136.9,366.8 L133.6,369.4 L130.2,374.9 L127.6,375.9 L126.9,376.2 L124.7,379.1 L123.6,380.5 L121.3,386.1 L120.2,388.9 L118.0,396.3 L116.9,400.0 L114.7,417.6 L114.2,418.6 L111.3,423.5 L108.0,429.0 L104.7,424.6 L104.0,423.4 L101.3,419.5 L100.9,426.4 L99.6,448.7 L98.4,468.4 L95.8,460.8 L92.5,460.1 Z" fill="#52b8c2" fill-opacity="0.2" stroke="none"/>
<path d="M92.5,449.9 L95.8,450.4 L98.4,458.0 L99.6,438.2 L100.9,415.9 L101.3,409.0 L104.0,412.9 L104.7,414.1 L108.0,418.5 L111.3,413.0 L114.2,408.1 L114.7,407.1 L116.9,389.4 L118.0,385.6 L120.2,378.1 L121.3,375.3 L123.6,369.4 L124.7,367.8 L126.9,364.6 L127.6,364.2 L130.2,362.7 L133.6,356.6 L136.9,354.0 L137.3,354.5 L140.2,357.9 L141.3,357.6 L143.1,356.2 L143.6,356.7 L145.3,386.3 L146.9,415.4 L147.6,418.1 L149.8,426.9 L150.2,428.5 L153.6,433.0 L156.9,438.4 L161.3,436.3 L165.8,431.9 L169.1,421.5 L172.4,429.2 L175.8,425.7 L179.1,422.9 L182.4,422.4 L183.6,422.1 L185.8,419.3 L188.4,411.1 L189.1,411.6 L191.3,413.5 L192.0,410.0 L194.7,395.9 L195.1,396.1 L198.0,397.6 L200.2,409.7 L201.3,412.8 L203.6,418.9 L206.9,420.7 L208.0,419.8 L210.2,418.0 L212.0,416.3 L213.6,414.7 L214.7,413.5 L218.0,410.0 L220.9,414.7 L221.3,415.4 L223.6,416.2 L226.9,417.2 L227.6,416.7 L231.3,414.5 L236.9,409.3 L240.2,417.0 L242.4,419.2 L243.6,420.4 L246.2,423.3 L246.9,424.1 L249.8,428.5 L250.2,429.1 L252.9,423.3 L253.6,421.8 L255.8,422.8 L259.1,404.0 L262.4,413.4 L265.8,415.1 L269.8,416.8 L274.7,415.5 L275.8,408.3 L276.9,401.1 L278.0,392.9 L278.7,387.8 L279.6,386.9 L282.4,383.9 L283.6,384.2 L284.7,384.6 L286.9,391.6 L288.0,395.0 L290.7,400.4 L291.3,401.7 L294.7,402.3 L298.0,391.4 L301.3,392.5 L304.7,390.3 L308.0,384.8 L311.3,387.1 L314.2,384.9 L316.9,389.4 L317.3,389.0 L318.0,388.3 L320.7,382.7 L321.3,382.4 L324.2,380.6 L324.7,380.9 L326.9,382.5 L328.0,383.3 L330.2,385.9 L332.4,395.6 L333.1,401.3 L333.6,405.6 L334.7,414.9 L336.2,428.3 L336.9,434.5 L340.2,433.3 L342.9,432.1 L345.8,437.5 L346.4,438.1 L349.1,440.7 L352.4,432.9 L355.8,437.0 L359.1,437.9 L362.4,436.7 L365.8,435.3 L366.9,434.8 L371.3,432.8 L372.4,432.5 L375.3,431.7 L379.1,427.3 L380.2,427.0 L383.6,426.4 L384.7,426.1 L388.7,417.8 L391.3,427.1 L391.8,426.5 L394.7,421.7 L398.0,418.4 L401.3,424.7 L404.7,419.0 L407.6,411.3 L410.9,416.0 L413.6,416.0 L414.0,416.8 L416.9,422.5 L420.2,427.2 L420.7,427.4 L423.6,428.5 L424.7,428.8 L429.1,430.1 L430.2,427.7 L433.1,421.5 L433.6,422.5 L436.9,429.3 L438.0,428.8 L441.3,427.2 L442.4,426.4 L443.6,425.6 L445.8,424.2 L446.4,426.9 L449.6,441.2 L452.4,433.9 L455.8,421.0 L456.9,421.1 L460.2,421.2 L464.7,421.6 L465.8,421.7 L469.1,419.5 L472.4,418.1 L473.6,417.6 L475.8,416.9 L476.9,416.5 L480.2,410.9 L482.4,405.4 L484.7,406.4 L488.0,413.0 L491.3,413.4 L494.7,407.3 L498.0,402.9 L501.3,394.0 L504.2,394.0 L505.8,379.9 L506.9,365.9 L507.3,360.9 L510.2,360.8 L513.6,361.2 L516.9,364.1 L520.2,363.0 L523.6,374.2 L524.2,375.0 L526.9,378.6 L529.1,378.4 L530.2,378.2 L533.1,373.8 L536.9,378.3 L540.2,380.5 L542.9,380.9 L543.6,378.6 L545.8,371.3 L546.9,367.5 L548.0,358.9 L551.3,351.2 L554.7,349.9 L555.8,346.5 L558.7,337.8 L559.1,338.4 L561.3,341.5 L562.4,342.8 L564.7,345.3 L565.3,340.7 L568.4,317.0 L572.0,321.1 L574.7,327.4 L575.1,323.2 L578.0,292.2 L580.9,294.4 L581.3,293.5 L584.7,285.5 L585.8,282.2 L588.0,275.6 L589.1,271.5 L590.2,267.5 L591.3,263.5 L592.4,259.8 L593.6,255.8 L594.7,252.1 L595.1,250.1 L596.9,241.0 L598.0,231.5 L600.2,212.4 L600.9,206.8 L601.3,203.6 L603.6,185.2 L604.0,182.0 L606.9,159.0 L607.3,155.8 L610.7,182.6 L613.8,218.7 L616.9,189.9 L620.2,161.3 L623.1,186.6 L626.2,216.5 L626.9,214.8 L629.8,206.7 L630.2,207.0 L632.9,208.8 L633.6,200.4 L634.7,187.5 L636.4,172.6 L639.6,180.1 L643.1,187.8 L644.7,228.0 L646.9,245.6 L649.1,258.8 L652.9,243.3 L655.8,246.6 L659.1,240.0 L662.4,244.4 L665.8,253.4 L669.1,261.1 L672.4,242.5 L675.3,226.2 L678.4,227.1 L680.2,258.5 L681.3,291.2 L684.7,277.8 L688.0,283.3 L691.3,286.6 L692.4,321.9 L692.9,344.5 L694.7,426.8 L696.4,433.2 L696.9,432.4 L699.1,427.8 L700.2,426.0 L702.4,422.3 L703.6,421.5 L705.8,420.0 L706.9,419.7 L710.2,418.9 L713.6,414.3 L716.9,405.6 L720.2,421.0 L723.6,413.3 L728.0,408.2 L732.4,402.3 L735.8,403.4 L739.1,406.7 L742.4,409.5 L745.8,398.5 L749.1,408.2 L752.4,412.2 L756.9,414.5 L761.3,420.1 L762.4,421.5 L765.8,418.7 L766.9,417.8 L770.2,416.6 L771.3,416.2 L772.4,409.1 L775.1,391.2 L781.3,402.2 L784.7,406.8 L788.0,415.6 L791.3,406.8 L794.7,398.8 L798.0,394.4 L801.3,388.9 L804.7,384.4 L808.0,383.6 L809.1,383.3 L810.9,377.1 L811.3,375.7 L813.6,354.6 L816.2,365.5 L816.9,366.9 L819.1,371.1 L820.2,370.9 L822.4,370.5 L823.6,366.9 L825.1,362.3 L826.9,356.7 L830.2,363.3 L833.1,364.4 L835.8,352.1 L836.9,347.4 L839.1,337.8 L842.4,334.5 L845.8,329.9 L849.1,312.3 L852.4,342.9 L855.8,334.4 L859.1,326.7 L862.0,318.9 L864.7,323.3 L868.0,321.8 L869.1,320.8 L871.3,318.9 L874.7,306.0 L875.1,304.5 L878.0,313.3 L881.3,305.6 L884.2,347.5 L886.9,349.5 L888.0,347.9 L890.2,344.5 L891.3,339.1 L894.0,325.6 L896.9,335.6 L898.0,337.7 L900.0,341.7 L903.3,349.9 L905.8,338.5 L906.7,334.4 L909.2,323.2 L910.0,319.2 L912.5,306.7 L913.3,305.7 L916.7,301.7 L920.0,307.5 L923.3,310.8 L926.7,313.3 L929.7,309.2 L933.3,313.3 L936.7,309.0 L940.0,292.5 L943.0,271.7 L945.8,271.7 L947.5,247.9 L949.1,225.1 L949.2,224.4 L952.0,243.8 L952.2,244.6 L955.3,205.1 L955.5,202.5 L957.0,236.0 L958.3,265.1 L958.4,265.8 L960.8,263.0 L962.5,261.9 L964.2,260.9 L965.3,261.4 L967.5,262.5 L968.3,262.6 L971.7,262.9 L975.0,248.3 L978.0,231.7 L978.4,233.6 L981.2,246.5 L981.3,245.8 L984.7,224.5 L987.8,258.0 L991.2,259.2 L994.2,264.1 L997.5,254.2 L1000.5,265.0 L1003.7,254.2 L1006.7,257.5 L1010.0,255.8 L1013.3,262.4 L1016.7,260.0 L1020.0,260.0 L1021.3,243.8 L1023.2,215.0 L1023.3,213.5 L1026.6,210.1 L1026.7,210.2 L1028.3,219.8 L1029.2,225.8 L1029.4,227.1 L1030.3,233.1 L1031.0,236.9 L1031.7,240.7 L1032.5,245.0 L1033.0,248.0 L1033.3,249.8 L1034.2,255.4 L1035.0,264.2 L1035.8,273.0 L1036.7,275.6 L1038.3,279.9 L1039.2,281.0 L1041.7,283.7 L1042.5,283.4 L1045.0,282.5 L1045.8,282.3 L1048.8,281.7 L1049.0,281.7 L1049.0,297.5 L1048.8,297.5 L1045.8,297.9 L1045.0,298.0 L1042.5,297.6 L1041.7,297.5 L1039.2,295.0 L1038.3,294.1 L1036.7,292.0 L1035.8,290.6 L1035.0,285.3 L1034.2,280.0 L1033.3,274.0 L1033.0,272.0 L1032.5,267.5 L1031.7,260.3 L1031.0,254.0 L1030.3,248.3 L1029.4,241.0 L1029.2,240.1 L1028.3,235.9 L1026.7,228.5 L1026.6,228.0 L1023.3,229.6 L1023.2,229.6 L1021.3,258.7 L1020.0,273.3 L1016.7,272.5 L1013.3,274.9 L1010.0,267.5 L1006.7,269.1 L1003.7,265.9 L1000.5,278.3 L997.5,265.8 L994.2,275.7 L991.2,270.1 L987.8,270.5 L984.7,242.5 L981.3,257.6 L981.2,257.2 L978.4,244.7 L978.0,247.1 L975.0,265.0 L971.7,276.5 L968.3,276.0 L967.5,275.8 L965.3,275.1 L964.2,274.7 L962.5,276.1 L960.8,277.5 L958.4,276.9 L958.3,275.0 L957.0,249.9 L955.5,221.0 L955.3,218.2 L952.2,255.4 L952.0,257.8 L949.2,238.4 L949.1,237.9 L947.5,261.8 L945.8,286.6 L943.0,285.0 L940.0,303.3 L936.7,319.8 L933.3,325.0 L929.7,321.7 L926.7,325.8 L923.3,321.6 L920.0,318.3 L916.7,313.4 L913.3,318.7 L912.5,320.0 L910.0,327.5 L909.2,329.9 L906.7,341.1 L905.8,345.2 L903.3,357.9 L900.0,350.0 L898.0,348.6 L896.9,347.8 L894.0,336.7 L891.3,351.0 L890.2,356.7 L888.0,360.4 L886.9,362.2 L884.2,358.6 L881.3,315.7 L878.0,325.6 L875.1,316.7 L874.7,318.0 L871.3,328.9 L869.1,331.1 L868.0,332.2 L864.7,335.5 L862.0,330.0 L859.1,337.8 L855.8,345.5 L852.4,351.8 L849.1,317.9 L845.8,341.0 L842.4,344.5 L839.1,348.9 L836.9,358.5 L835.8,363.2 L833.1,374.4 L830.2,375.5 L826.9,367.8 L825.1,373.4 L823.6,377.1 L822.4,380.0 L820.2,380.7 L819.1,381.1 L816.9,376.9 L816.2,375.5 L813.6,366.8 L811.3,387.9 L810.9,389.1 L809.1,394.4 L808.0,395.0 L804.7,396.6 L801.3,401.2 L798.0,405.6 L794.7,410.0 L791.3,416.7 L788.0,424.4 L784.7,417.8 L781.3,413.3 L775.1,401.2 L772.4,417.9 L771.3,424.5 L770.2,425.0 L766.9,426.7 L765.8,427.8 L762.4,431.0 L761.3,429.5 L756.9,423.3 L752.4,421.0 L749.1,415.5 L745.8,406.7 L742.4,415.5 L739.1,413.3 L735.8,410.0 L732.4,409.0 L728.0,415.6 L723.6,421.1 L720.2,429.5 L716.9,414.5 L713.6,424.3 L710.2,428.9 L706.9,430.6 L705.8,431.1 L703.6,432.1 L702.4,432.7 L700.2,436.1 L699.1,437.8 L696.9,441.5 L696.4,442.1 L694.7,435.7 L692.9,358.7 L692.4,337.6 L691.3,305.5 L688.0,302.2 L684.7,296.7 L681.3,309.2 L680.2,283.0 L678.4,253.3 L675.3,252.4 L672.4,267.9 L669.1,280.0 L665.8,272.3 L662.4,263.3 L659.1,258.9 L655.8,263.3 L652.9,267.8 L649.1,278.8 L646.9,263.4 L644.7,245.8 L643.1,213.3 L639.6,206.8 L636.4,197.1 L634.7,211.9 L633.6,222.9 L632.9,229.9 L630.2,231.0 L629.8,231.1 L626.9,233.8 L626.2,234.3 L623.1,215.4 L620.2,186.9 L616.9,216.6 L613.8,243.1 L610.7,212.6 L607.3,191.3 L606.9,194.0 L604.0,213.7 L603.6,216.4 L601.3,230.2 L600.9,232.6 L600.2,236.9 L598.0,258.9 L596.9,264.0 L595.1,272.4 L594.7,274.3 L593.6,278.0 L592.4,282.0 L591.3,285.7 L590.2,289.0 L589.1,292.3 L588.0,295.6 L585.8,300.7 L584.7,303.3 L581.3,310.3 L580.9,311.1 L578.0,312.2 L575.1,343.2 L574.7,347.4 L572.0,337.8 L568.4,332.5 L565.3,354.4 L564.7,358.7 L562.4,356.6 L561.3,355.5 L559.1,352.8 L558.7,352.3 L555.8,359.4 L554.7,362.1 L551.3,363.4 L548.0,371.1 L546.9,380.1 L545.8,383.9 L543.6,391.2 L542.9,393.5 L540.2,393.1 L536.9,391.0 L533.1,386.6 L530.2,391.1 L529.1,391.3 L526.9,391.6 L524.2,388.1 L523.6,387.3 L520.2,376.2 L516.9,377.4 L513.6,374.6 L510.2,374.0 L507.3,373.9 L506.9,378.4 L505.8,390.6 L504.2,402.1 L501.3,401.8 L498.0,410.6 L494.7,415.0 L491.3,421.0 L488.0,420.6 L484.7,414.0 L482.4,412.9 L480.2,418.4 L476.9,423.9 L475.8,424.3 L473.6,425.0 L472.4,425.5 L469.1,426.8 L465.8,429.0 L464.7,428.8 L460.2,428.2 L456.9,427.8 L455.8,427.7 L452.4,440.7 L449.6,448.3 L446.4,434.1 L445.8,431.4 L443.6,433.0 L442.4,433.9 L441.3,434.8 L438.0,436.7 L436.9,437.3 L433.6,430.7 L433.1,429.8 L430.2,435.9 L429.1,438.2 L424.7,437.1 L423.6,436.8 L420.7,436.0 L420.2,435.8 L416.9,431.5 L414.0,426.2 L413.6,425.4 L410.9,425.8 L407.6,421.4 L404.7,429.5 L401.3,435.5 L398.0,429.6 L394.7,432.7 L391.8,437.3 L391.3,437.9 L388.7,428.4 L384.7,435.6 L383.6,435.5 L380.2,435.2 L379.1,435.2 L375.3,438.5 L372.4,438.5 L371.3,438.5 L366.9,440.3 L365.8,440.8 L362.4,442.1 L359.1,443.3 L355.8,442.3 L352.4,438.1 L349.1,445.8 L346.4,443.1 L345.8,442.5 L342.9,437.0 L340.2,438.1 L336.9,439.3 L336.2,433.1 L334.7,419.6 L333.6,410.2 L333.1,406.0 L332.4,400.2 L330.2,390.4 L328.0,387.8 L326.9,387.0 L324.7,385.3 L324.2,385.0 L321.3,386.8 L320.7,387.1 L318.0,392.7 L317.3,393.4 L316.9,393.8 L314.2,389.3 L311.3,391.5 L308.0,389.2 L304.7,394.7 L301.3,396.9 L298.0,395.8 L294.7,406.7 L291.3,406.1 L290.7,404.8 L288.0,399.4 L286.9,396.0 L284.7,389.0 L283.6,388.6 L282.4,388.3 L279.6,391.1 L278.7,392.0 L278.0,397.0 L276.9,405.1 L275.8,412.2 L274.7,419.3 L269.8,420.4 L265.8,418.8 L262.4,417.3 L259.1,408.3 L255.8,427.3 L253.6,426.5 L252.9,428.0 L250.2,434.1 L249.8,433.5 L246.9,429.3 L246.2,428.6 L243.6,425.9 L242.4,424.8 L240.2,422.7 L236.9,415.3 L231.3,421.0 L227.6,423.5 L226.9,424.0 L223.6,423.2 L221.3,422.7 L220.9,422.0 L218.0,417.2 L214.7,420.7 L213.6,421.8 L212.0,423.3 L210.2,425.0 L208.0,426.8 L206.9,427.6 L203.6,425.7 L201.3,419.5 L200.2,416.4 L198.0,404.2 L195.1,402.7 L194.7,402.5 L192.0,416.5 L191.3,420.0 L189.1,418.0 L188.4,417.5 L185.8,425.6 L183.6,428.4 L182.4,428.6 L179.1,429.0 L175.8,431.7 L172.4,435.2 L169.1,427.3 L165.8,437.7 L161.3,441.9 L156.9,443.9 L153.6,438.5 L150.2,434.0 L149.8,432.4 L147.6,423.6 L146.9,420.9 L145.3,392.0 L143.6,362.7 L143.1,361.6 L141.3,359.9 L140.2,358.9 L137.3,355.5 L136.9,355.0 L133.6,357.6 L130.2,363.7 L127.6,365.2 L126.9,365.6 L124.7,368.8 L123.6,370.4 L121.3,376.3 L120.2,379.1 L118.0,386.6 L116.9,390.4 L114.7,408.1 L114.2,409.1 L111.3,414.0 L108.0,419.5 L104.7,415.1 L104.0,413.9 L101.3,410.0 L100.9,416.9 L99.6,439.2 L98.4,459.0 L95.8,451.4 L92.5,450.9 Z" fill="#7ba3f0" fill-opacity="0.2" stroke="none"/>
<path d="M92.5,444.7 L95.8,444.7 L98.4,451.9 L99.6,432.0 L100.9,409.5 L101.3,402.6 L104.0,406.5 L104.7,407.6 L108.0,412.0 L111.3,406.5 L114.2,401.7 L114.7,400.6 L116.9,383.1 L118.0,379.4 L120.2,372.1 L121.3,369.1 L123.6,363.1 L124.7,361.2 L126.9,357.6 L127.6,357.1 L130.2,355.4 L133.6,349.1 L136.9,346.5 L137.3,347.1 L140.2,351.3 L141.3,350.1 L143.1,348.1 L143.6,348.4 L145.3,379.2 L146.9,408.7 L147.6,411.5 L149.8,420.3 L150.2,421.9 L153.6,426.5 L156.9,432.0 L161.3,429.8 L165.8,425.3 L169.1,414.7 L172.4,422.4 L175.8,418.7 L179.1,415.8 L182.4,415.1 L183.6,414.8 L185.8,411.9 L188.4,403.7 L189.1,404.1 L191.3,406.0 L192.0,402.5 L194.7,388.3 L195.1,388.4 L198.0,389.8 L200.2,401.9 L201.3,404.9 L203.6,410.9 L206.9,412.7 L208.0,411.7 L210.2,409.8 L212.0,408.0 L213.6,406.4 L214.7,405.2 L218.0,401.6 L220.9,406.2 L221.3,406.9 L223.6,407.6 L226.9,408.7 L227.6,408.3 L231.3,406.0 L236.9,400.9 L240.2,408.6 L242.4,410.9 L243.6,412.1 L246.2,415.0 L246.9,415.8 L249.8,420.3 L250.2,420.9 L252.9,415.0 L253.6,413.6 L255.8,414.6 L259.1,395.9 L262.4,405.2 L265.8,406.9 L269.8,408.7 L274.7,407.4 L275.8,400.2 L276.9,393.0 L278.0,384.8 L278.7,379.8 L279.6,378.8 L282.4,375.8 L283.6,376.1 L284.7,376.6 L286.9,383.5 L288.0,386.9 L290.7,392.3 L291.3,393.5 L294.7,394.1 L298.0,383.1 L301.3,384.2 L304.7,382.0 L308.0,376.5 L311.3,378.7 L314.2,376.5 L316.9,380.9 L317.3,380.5 L318.0,379.8 L320.7,374.2 L321.3,373.8 L324.2,372.0 L324.7,372.4 L326.9,374.1 L328.0,374.9 L330.2,377.5 L332.4,387.4 L333.1,393.1 L333.6,397.4 L334.7,406.8 L336.2,420.3 L336.9,426.5 L340.2,425.4 L342.9,424.3 L345.8,429.8 L346.4,430.4 L349.1,433.1 L352.4,425.5 L355.8,429.8 L359.1,430.9 L362.4,429.8 L365.8,428.6 L366.9,428.2 L371.3,426.5 L372.4,426.2 L375.3,425.4 L379.1,420.9 L380.2,420.7 L383.6,420.0 L384.7,419.7 L388.7,411.5 L391.3,420.8 L391.8,420.1 L394.7,415.3 L398.0,412.0 L401.3,418.0 L404.7,411.9 L407.6,403.9 L410.9,408.7 L413.6,408.8 L414.0,409.6 L416.9,415.4 L420.2,420.2 L420.7,420.4 L423.6,421.6 L424.7,421.9 L429.1,423.1 L430.2,420.5 L433.1,413.6 L433.6,414.6 L436.9,421.6 L438.0,421.1 L441.3,419.8 L442.4,419.2 L443.6,418.4 L445.8,417.2 L446.4,419.9 L449.6,434.1 L452.4,426.6 L455.8,413.6 L456.9,413.7 L460.2,414.2 L464.7,415.1 L465.8,415.3 L469.1,412.0 L472.4,409.6 L473.6,408.7 L475.8,407.9 L476.9,407.6 L480.2,402.1 L482.4,396.6 L484.7,397.6 L488.0,404.2 L491.3,404.7 L494.7,398.6 L498.0,394.2 L501.3,385.4 L504.2,385.4 L505.8,370.6 L506.9,356.2 L507.3,350.9 L510.2,350.9 L513.6,351.4 L516.9,354.2 L520.2,353.1 L523.6,364.3 L524.2,365.1 L526.9,368.7 L529.1,368.4 L530.2,368.2 L533.1,363.8 L536.9,368.2 L540.2,370.4 L542.9,370.9 L543.6,368.5 L545.8,361.2 L546.9,357.5 L548.0,349.2 L551.3,341.5 L554.7,339.1 L555.8,335.8 L558.7,327.1 L559.1,327.7 L561.3,331.4 L562.4,332.5 L564.7,334.5 L565.3,329.6 L568.4,304.0 L572.0,308.1 L574.7,315.5 L575.1,311.0 L578.0,278.1 L580.9,280.3 L581.3,279.4 L584.7,271.4 L585.8,268.1 L588.0,261.5 L589.1,257.1 L590.2,252.7 L591.3,249.7 L592.4,246.8 L593.6,243.5 L594.7,238.3 L595.1,236.5 L596.9,228.0 L598.0,217.8 L600.2,197.2 L600.9,191.6 L601.3,188.4 L603.6,170.0 L604.0,167.1 L606.9,145.8 L607.3,142.8 L610.7,168.5 L613.8,206.8 L616.9,174.7 L620.2,148.7 L623.1,174.7 L626.2,203.5 L626.9,202.0 L629.8,194.8 L630.2,195.1 L632.9,196.9 L633.6,188.1 L634.7,174.5 L636.4,159.6 L639.6,167.2 L643.1,178.1 L644.7,219.5 L646.9,234.8 L649.1,245.9 L652.9,231.5 L655.8,234.7 L659.1,227.7 L662.4,231.4 L665.8,241.5 L669.1,249.2 L672.4,230.6 L675.3,211.7 L678.4,213.0 L680.2,247.7 L681.3,275.1 L684.7,265.5 L688.0,269.9 L691.3,273.6 L692.4,315.3 L692.9,338.4 L694.7,421.6 L696.4,428.0 L696.9,427.2 L699.1,422.6 L700.2,421.1 L702.4,418.2 L703.6,417.4 L705.8,415.9 L706.9,415.6 L710.2,414.8 L713.6,410.2 L716.9,401.5 L720.2,418.0 L723.6,409.2 L728.0,404.8 L732.4,398.9 L735.8,400.4 L739.1,403.7 L742.4,405.9 L745.8,393.8 L749.1,404.8 L752.4,408.5 L756.9,410.4 L761.3,416.5 L762.4,418.1 L765.8,415.6 L766.9,414.8 L770.2,413.5 L771.3,413.0 L772.4,405.7 L775.1,387.1 L781.3,397.0 L784.7,401.6 L788.0,410.4 L791.3,401.6 L794.7,393.6 L798.0,390.4 L801.3,383.8 L804.7,380.3 L808.0,379.5 L809.1,379.2 L810.9,373.9 L811.3,372.7 L813.6,350.1 L816.2,361.4 L816.9,362.8 L819.1,367.0 L820.2,366.7 L822.4,365.9 L823.6,362.1 L825.1,357.1 L826.9,351.5 L830.2,359.2 L833.1,360.3 L835.8,348.0 L836.9,343.3 L839.1,333.7 L842.4,330.4 L845.8,325.8 L849.1,307.7 L852.4,337.7 L855.8,329.8 L859.1,321.5 L862.0,314.8 L864.7,319.2 L868.0,318.1 L869.1,317.4 L871.3,315.9 L874.7,301.1 L875.1,299.3 L878.0,309.2 L881.3,299.3 L884.2,342.2 L886.9,344.8 L888.0,342.9 L890.2,339.3 L891.3,333.5 L894.0,319.2 L896.9,329.3 L898.0,331.4 L900.0,335.4 L903.3,345.2 L905.8,333.8 L906.7,329.8 L909.2,318.5 L910.0,314.9 L912.5,303.7 L913.3,302.7 L916.7,298.4 L920.0,303.7 L923.3,307.0 L926.7,310.3 L929.7,305.7 L933.3,310.3 L936.7,305.2 L940.0,288.7 L943.0,268.7 L945.8,268.7 L947.5,243.3 L949.1,218.9 L949.2,218.1 L952.0,239.1 L952.2,239.9 L955.3,198.8 L955.5,196.2 L957.0,231.5 L958.3,262.1 L958.4,262.8 L960.8,259.6 L962.5,258.4 L964.2,257.4 L965.3,258.1 L967.5,259.5 L968.3,259.5 L971.7,259.4 L975.0,243.7 L978.0,226.2 L978.4,228.2 L981.2,241.8 L981.3,241.1 L984.7,219.0 L987.8,251.7 L991.2,252.6 L994.2,258.6 L997.5,247.8 L1000.5,260.4 L1003.7,247.1 L1006.7,251.2 L1010.0,249.0 L1013.3,256.9 L1016.7,254.5 L1020.0,254.5 L1021.3,237.5 L1023.2,209.0 L1023.3,207.5 L1026.6,204.6 L1026.7,204.8 L1028.3,217.0 L1029.2,223.9 L1029.4,224.9 L1030.3,229.7 L1031.0,233.5 L1031.7,237.2 L1032.5,241.5 L1033.0,244.1 L1033.3,245.7 L1034.2,250.7 L1035.0,259.5 L1035.8,268.3 L1036.7,271.0 L1038.3,275.3 L1039.2,276.2 L1041.7,278.7 L1042.5,278.5 L1045.0,277.9 L1045.8,277.7 L1048.8,277.0 L1049.0,277.0 L1049.0,281.7 L1048.8,281.7 L1045.8,282.3 L1045.0,282.5 L1042.5,283.4 L1041.7,283.7 L1039.2,281.0 L1038.3,279.9 L1036.7,275.6 L1035.8,273.0 L1035.0,264.2 L1034.2,255.4 L1033.3,249.8 L1033.0,248.0 L1032.5,245.0 L1031.7,240.7 L1031.0,236.9 L1030.3,233.1 L1029.4,227.1 L1029.2,225.8 L1028.3,219.8 L1026.7,210.2 L1026.6,210.1 L1023.3,213.5 L1023.2,215.0 L1021.3,243.8 L1020.0,260.0 L1016.7,260.0 L1013.3,262.4 L1010.0,255.8 L1006.7,257.5 L1003.7,254.2 L1000.5,265.0 L997.5,254.2 L994.2,264.1 L991.2,259.2 L987.8,258.0 L984.7,224.5 L981.3,245.8 L981.2,246.5 L978.4,233.6 L978.0,231.7 L975.0,248.3 L971.7,262.9 L968.3,262.6 L967.5,262.5 L965.3,261.4 L964.2,260.9 L962.5,261.9 L960.8,263.0 L958.4,265.8 L958.3,265.1 L957.0,236.0 L955.5,202.5 L955.3,205.1 L952.2,244.6 L952.0,243.8 L949.2,224.4 L949.1,225.1 L947.5,247.9 L945.8,271.7 L943.0,271.7 L940.0,292.5 L936.7,309.0 L933.3,313.3 L929.7,309.2 L926.7,313.3 L923.3,310.8 L920.0,307.5 L916.7,301.7 L913.3,305.7 L912.5,306.7 L910.0,319.2 L909.2,323.2 L906.7,334.4 L905.8,338.5 L903.3,349.9 L900.0,341.7 L898.0,337.7 L896.9,335.6 L894.0,325.6 L891.3,339.1 L890.2,344.5 L888.0,347.9 L886.9,349.5 L884.2,347.5 L881.3,305.6 L878.0,313.3 L875.1,304.5 L874.7,306.0 L871.3,318.9 L869.1,320.8 L868.0,321.8 L864.7,323.3 L862.0,318.9 L859.1,326.7 L855.8,334.4 L852.4,342.9 L849.1,312.3 L845.8,329.9 L842.4,334.5 L839.1,337.8 L836.9,347.4 L835.8,352.1 L833.1,364.4 L830.2,363.3 L826.9,356.7 L825.1,362.3 L823.6,366.9 L822.4,370.5 L820.2,370.9 L819.1,371.1 L816.9,366.9 L816.2,365.5 L813.6,354.6 L811.3,375.7 L810.9,377.1 L809.1,383.3 L808.0,383.6 L804.7,384.4 L801.3,388.9 L798.0,394.4 L794.7,398.8 L791.3,406.8 L788.0,415.6 L784.7,406.8 L781.3,402.2 L775.1,391.2 L772.4,409.1 L771.3,416.2 L770.2,416.6 L766.9,417.8 L765.8,418.7 L762.4,421.5 L761.3,420.1 L756.9,414.5 L752.4,412.2 L749.1,408.2 L745.8,398.5 L742.4,409.5 L739.1,406.7 L735.8,403.4 L732.4,402.3 L728.0,408.2 L723.6,413.3 L720.2,421.0 L716.9,405.6 L713.6,414.3 L710.2,418.9 L706.9,419.7 L705.8,420.0 L703.6,421.5 L702.4,422.3 L700.2,426.0 L699.1,427.8 L696.9,432.4 L696.4,433.2 L694.7,426.8 L692.9,344.5 L692.4,321.9 L691.3,286.6 L688.0,283.3 L684.7,277.8 L681.3,291.2 L680.2,258.5 L678.4,227.1 L675.3,226.2 L672.4,242.5 L669.1,261.1 L665.8,253.4 L662.4,244.4 L659.1,240.0 L655.8,246.6 L652.9,243.3 L649.1,258.8 L646.9,245.6 L644.7,228.0 L643.1,187.8 L639.6,180.1 L636.4,172.6 L634.7,187.5 L633.6,200.4 L632.9,208.8 L630.2,207.0 L629.8,206.7 L626.9,214.8 L626.2,216.5 L623.1,186.6 L620.2,161.3 L616.9,189.9 L613.8,218.7 L610.7,182.6 L607.3,155.8 L606.9,159.0 L604.0,182.0 L603.6,185.2 L601.3,203.6 L600.9,206.8 L600.2,212.4 L598.0,231.5 L596.9,241.0 L595.1,250.1 L594.7,252.1 L593.6,255.8 L592.4,259.8 L591.3,263.5 L590.2,267.5 L589.1,271.5 L588.0,275.6 L585.8,282.2 L584.7,285.5 L581.3,293.5 L580.9,294.4 L578.0,292.2 L575.1,323.2 L574.7,327.4 L572.0,321.1 L568.4,317.0 L565.3,340.7 L564.7,345.3 L562.4,342.8 L561.3,341.5 L559.1,338.4 L558.7,337.8 L555.8,346.5 L554.7,349.9 L551.3,351.2 L548.0,358.9 L546.9,367.5 L545.8,371.3 L543.6,378.6 L542.9,380.9 L540.2,380.5 L536.9,378.3 L533.1,373.8 L530.2,378.2 L529.1,378.4 L526.9,378.6 L524.2,375.0 L523.6,374.2 L520.2,363.0 L516.9,364.1 L513.6,361.2 L510.2,360.8 L507.3,360.9 L506.9,365.9 L505.8,379.9 L504.2,394.0 L501.3,394.0 L498.0,402.9 L494.7,407.3 L491.3,413.4 L488.0,413.0 L484.7,406.4 L482.4,405.4 L480.2,410.9 L476.9,416.5 L475.8,416.9 L473.6,417.6 L472.4,418.1 L469.1,419.5 L465.8,421.7 L464.7,421.6 L460.2,421.2 L456.9,421.1 L455.8,421.0 L452.4,433.9 L449.6,441.2 L446.4,426.9 L445.8,424.2 L443.6,425.6 L442.4,426.4 L441.3,427.2 L438.0,428.8 L436.9,429.3 L433.6,422.5 L433.1,421.5 L430.2,427.7 L429.1,430.1 L424.7,428.8 L423.6,428.5 L420.7,427.4 L420.2,427.2 L416.9,422.5 L414.0,416.8 L413.6,416.0 L410.9,416.0 L407.6,411.3 L404.7,419.0 L401.3,424.7 L398.0,418.4 L394.7,421.7 L391.8,426.5 L391.3,427.1 L388.7,417.8 L384.7,426.1 L383.6,426.4 L380.2,427.0 L379.1,427.3 L375.3,431.7 L372.4,432.5 L371.3,432.8 L366.9,434.8 L365.8,435.3 L362.4,436.7 L359.1,437.9 L355.8,437.0 L352.4,432.9 L349.1,440.7 L346.4,438.1 L345.8,437.5 L342.9,432.1 L340.2,433.3 L336.9,434.5 L336.2,428.3 L334.7,414.9 L333.6,405.6 L333.1,401.3 L332.4,395.6 L330.2,385.9 L328.0,383.3 L326.9,382.5 L324.7,380.9 L324.2,380.6 L321.3,382.4 L320.7,382.7 L318.0,388.3 L317.3,389.0 L316.9,389.4 L314.2,384.9 L311.3,387.1 L308.0,384.8 L304.7,390.3 L301.3,392.5 L298.0,391.4 L294.7,402.3 L291.3,401.7 L290.7,400.4 L288.0,395.0 L286.9,391.6 L284.7,384.6 L283.6,384.2 L282.4,383.9 L279.6,386.9 L278.7,387.8 L278.0,392.9 L276.9,401.1 L275.8,408.3 L274.7,415.5 L269.8,416.8 L265.8,415.1 L262.4,413.4 L259.1,404.0 L255.8,422.8 L253.6,421.8 L252.9,423.3 L250.2,429.1 L249.8,428.5 L246.9,424.1 L246.2,423.3 L243.6,420.4 L242.4,419.2 L240.2,417.0 L236.9,409.3 L231.3,414.5 L227.6,416.7 L226.9,417.2 L223.6,416.2 L221.3,415.4 L220.9,414.7 L218.0,410.0 L214.7,413.5 L213.6,414.7 L212.0,416.3 L210.2,418.0 L208.0,419.8 L206.9,420.7 L203.6,418.9 L201.3,412.8 L200.2,409.7 L198.0,397.6 L195.1,396.1 L194.7,395.9 L192.0,410.0 L191.3,413.5 L189.1,411.6 L188.4,411.1 L185.8,419.3 L183.6,422.1 L182.4,422.4 L179.1,422.9 L175.8,425.7 L172.4,429.2 L169.1,421.5 L165.8,431.9 L161.3,436.3 L156.9,438.4 L153.6,433.0 L150.2,428.5 L149.8,426.9 L147.6,418.1 L146.9,415.4 L145.3,386.3 L143.6,356.7 L143.1,356.2 L141.3,357.6 L140.2,357.9 L137.3,354.5 L136.9,354.0 L133.6,356.6 L130.2,362.7 L127.6,364.2 L126.9,364.6 L124.7,367.8 L123.6,369.4 L121.3,375.3 L120.2,378.1 L118.0,385.6 L116.9,389.4 L114.7,407.1 L114.2,408.1 L111.3,413.0 L108.0,418.5 L104.7,414.1 L104.0,412.9 L101.3,409.0 L100.9,415.9 L99.6,438.2 L98.4,458.0 L95.8,450.4 L92.5,449.9 Z" fill="#e67c73" fill-opacity="0.2" stroke="none"/>
<path d="M92.5,444.3 L95.8,444.4 L98.4,451.5 L99.6,431.7 L100.9,409.2 L101.3,402.2 L104.0,406.1 L104.7,407.3 L108.0,411.7 L111.3,406.2 L114.2,401.3 L114.7,400.3 L116.9,382.7 L118.0,379.1 L120.2,371.7 L121.3,368.8 L123.6,362.7 L124.7,360.9 L126.9,357.2 L127.6,356.7 L130.2,355.0 L133.6,348.7 L136.9,346.1 L137.3,346.7 L140.2,351.0 L141.3,349.8 L143.1,347.7 L143.6,348.0 L145.3,378.8 L146.9,408.4 L147.6,411.2 L149.8,420.0 L150.2,421.6 L153.6,426.2 L156.9,431.7 L161.3,429.5 L165.8,424.9 L169.1,414.4 L172.4,422.0 L175.8,418.3 L179.1,415.5 L182.4,414.8 L183.6,414.5 L185.8,411.6 L188.4,403.4 L189.1,403.8 L191.3,405.6 L192.0,402.1 L194.7,387.9 L195.1,388.1 L198.0,389.4 L200.2,401.5 L201.3,404.5 L203.6,410.6 L206.9,412.3 L208.0,411.4 L210.2,409.5 L212.0,407.7 L213.6,406.1 L214.7,404.9 L218.0,401.2 L220.9,405.9 L221.3,406.5 L223.6,407.3 L226.9,408.3 L227.6,407.9 L231.3,405.7 L236.9,400.6 L240.2,408.3 L242.4,410.5 L243.6,411.7 L246.2,414.7 L246.9,415.5 L249.8,419.9 L250.2,420.5 L252.9,414.7 L253.6,413.2 L255.8,414.2 L259.1,395.5 L262.4,404.9 L265.8,406.6 L269.8,408.3 L274.7,407.0 L275.8,399.9 L276.9,392.7 L278.0,384.4 L278.7,379.4 L279.6,378.5 L282.4,375.5 L283.6,375.8 L284.7,376.2 L286.9,383.1 L288.0,386.6 L290.7,392.0 L291.3,393.2 L294.7,393.8 L298.0,382.8 L301.3,383.9 L304.7,381.6 L308.0,376.1 L311.3,378.3 L314.2,376.1 L316.9,380.5 L317.3,380.1 L318.0,379.4 L320.7,373.9 L321.3,373.5 L324.2,371.7 L324.7,372.0 L326.9,373.7 L328.0,374.6 L330.2,377.2 L332.4,387.0 L333.1,392.8 L333.6,397.0 L334.7,406.4 L336.2,419.9 L336.9,426.1 L340.2,425.0 L342.9,423.9 L345.8,429.5 L346.4,430.1 L349.1,432.8 L352.4,425.1 L355.8,429.5 L359.1,430.6 L362.4,429.5 L365.8,428.3 L366.9,427.9 L371.3,426.1 L372.4,425.8 L375.3,425.0 L379.1,420.6 L380.2,420.3 L383.6,419.7 L384.7,419.4 L388.7,411.1 L391.3,420.4 L391.8,419.8 L394.7,415.0 L398.0,411.7 L401.3,417.6 L404.7,411.6 L407.6,403.5 L410.9,408.3 L413.6,408.4 L414.0,409.2 L416.9,415.0 L420.2,419.9 L420.7,420.1 L423.6,421.2 L424.7,421.5 L429.1,422.8 L430.2,420.2 L433.1,413.2 L433.6,414.3 L436.9,421.2 L438.0,420.8 L441.3,419.5 L442.4,418.8 L443.6,418.1 L445.8,416.9 L446.4,419.6 L449.6,433.8 L452.4,426.2 L455.8,413.2 L456.9,413.4 L460.2,413.9 L464.7,414.8 L465.8,415.0 L469.1,411.7 L472.4,409.2 L473.6,408.3 L475.8,407.6 L476.9,407.2 L480.2,401.7 L482.4,396.2 L484.7,397.3 L488.0,403.9 L491.3,404.3 L494.7,398.3 L498.0,393.9 L501.3,385.1 L504.2,385.0 L505.8,370.3 L506.9,355.8 L507.3,350.5 L510.2,350.5 L513.6,351.0 L516.9,353.9 L520.2,352.8 L523.6,363.9 L524.2,364.7 L526.9,368.3 L529.1,368.0 L530.2,367.9 L533.1,363.5 L536.9,367.9 L540.2,370.1 L542.9,370.5 L543.6,368.2 L545.8,360.9 L546.9,357.1 L548.0,348.9 L551.3,341.2 L554.7,338.8 L555.8,335.4 L558.7,326.7 L559.1,327.4 L561.3,331.1 L562.4,332.2 L564.7,334.2 L565.3,329.2 L568.4,303.7 L572.0,307.8 L574.7,315.2 L575.1,310.6 L578.0,277.8 L580.9,280.0 L581.3,279.0 L584.7,271.0 L585.8,267.7 L588.0,261.1 L589.1,256.7 L590.2,252.3 L591.3,249.3 L592.4,246.4 L593.6,243.1 L594.7,238.0 L595.1,236.1 L596.9,227.7 L598.0,217.4 L600.2,196.9 L600.9,191.2 L601.3,188.0 L603.6,169.7 L604.0,166.7 L606.9,145.4 L607.3,142.5 L610.7,168.2 L613.8,206.4 L616.9,174.4 L620.2,148.4 L623.1,174.3 L626.2,203.1 L626.9,201.6 L629.8,194.5 L630.2,194.7 L632.9,196.5 L633.6,187.8 L634.7,174.2 L636.4,159.3 L639.6,166.8 L643.1,177.7 L644.7,219.1 L646.9,234.5 L649.1,245.5 L652.9,231.1 L655.8,234.4 L659.1,227.4 L662.4,231.1 L665.8,241.2 L669.1,248.9 L672.4,230.3 L675.3,211.3 L678.4,212.6 L680.2,247.3 L681.3,274.7 L684.7,265.2 L688.0,269.6 L691.3,273.3 L692.4,314.9 L692.9,338.1 L694.7,421.2 L696.4,427.6 L696.9,426.8 L699.1,422.2 L700.2,420.8 L702.4,417.8 L703.6,417.0 L705.8,415.6 L706.9,415.3 L710.2,414.4 L713.6,409.9 L716.9,401.2 L720.2,417.7 L723.6,408.8 L728.0,404.4 L732.4,398.5 L735.8,400.0 L739.1,403.3 L742.4,405.5 L745.8,393.4 L749.1,404.4 L752.4,408.2 L756.9,410.0 L761.3,416.2 L762.4,417.7 L765.8,415.3 L766.9,414.4 L770.2,413.1 L771.3,412.7 L772.4,405.3 L775.1,386.7 L781.3,396.6 L784.7,401.2 L788.0,410.0 L791.3,401.2 L794.7,393.3 L798.0,390.0 L801.3,383.4 L804.7,380.0 L808.0,379.2 L809.1,378.9 L810.9,373.5 L811.3,372.3 L813.6,349.7 L816.2,361.0 L816.9,362.4 L819.1,366.6 L820.2,366.3 L822.4,365.6 L823.6,361.7 L825.1,356.7 L826.9,351.1 L830.2,358.8 L833.1,360.0 L835.8,347.7 L836.9,342.9 L839.1,333.4 L842.4,330.0 L845.8,325.4 L849.1,307.4 L852.4,337.4 L855.8,329.5 L859.1,321.1 L862.0,314.4 L864.7,318.9 L868.0,317.8 L869.1,317.0 L871.3,315.6 L874.7,300.7 L875.1,298.9 L878.0,308.9 L881.3,299.0 L884.2,341.9 L886.9,344.4 L888.0,342.6 L890.2,338.9 L891.3,333.2 L894.0,318.9 L896.9,328.9 L898.0,331.1 L900.0,335.0 L903.3,344.9 L905.8,333.5 L906.7,329.4 L909.2,318.2 L910.0,314.6 L912.5,303.3 L913.3,302.3 L916.7,298.1 L920.0,303.3 L923.3,306.6 L926.7,309.9 L929.7,305.4 L933.3,310.0 L936.7,304.8 L940.0,288.3 L943.0,268.3 L945.8,268.3 L947.5,242.9 L949.1,218.5 L949.2,217.8 L952.0,238.8 L952.2,239.6 L955.3,198.5 L955.5,195.8 L957.0,231.1 L958.3,261.7 L958.4,262.4 L960.8,259.2 L962.5,258.1 L964.2,257.0 L965.3,257.7 L967.5,259.2 L968.3,259.2 L971.7,259.0 L975.0,243.3 L978.0,225.8 L978.4,227.8 L981.2,241.4 L981.3,240.8 L984.7,218.7 L987.8,251.3 L991.2,252.2 L994.2,258.2 L997.5,247.5 L1000.5,260.0 L1003.7,246.7 L1006.7,250.8 L1010.0,248.7 L1013.3,256.6 L1016.7,254.2 L1020.0,254.2 L1021.3,237.1 L1023.2,208.7 L1023.3,207.2 L1026.6,204.2 L1026.7,204.4 L1028.3,216.7 L1029.2,223.5 L1029.4,224.6 L1030.3,229.4 L1031.0,233.1 L1031.7,236.8 L1032.5,241.1 L1033.0,243.8 L1033.3,245.4 L1034.2,250.4 L1035.0,259.2 L1035.8,268.0 L1036.7,270.6 L1038.3,274.9 L1039.2,275.9 L1041.7,278.3 L1042.5,278.1 L1045.0,277.5 L1045.8,277.3 L1048.8,276.7 L1049.0,276.7 L1049.0,277.0 L1048.8,277.0 L1045.8,277.7 L1045.0,277.9 L1042.5,278.5 L1041.7,278.7 L1039.2,276.2 L1038.3,275.3 L1036.7,271.0 L1035.8,268.3 L1035.0,259.5 L1034.2,250.7 L1033.3,245.7 L1033.0,244.1 L1032.5,241.5 L1031.7,237.2 L1031.0,233.5 L1030.3,229.7 L1029.4,224.9 L1029.2,223.9 L1028.3,217.0 L1026.7,204.8 L1026.6,204.6 L1023.3,207.5 L1023.2,209.0 L1021.3,237.5 L1020.0,254.5 L1016.7,254.5 L1013.3,256.9 L1010.0,249.0 L1006.7,251.2 L1003.7,247.1 L1000.5,260.4 L997.5,247.8 L994.2,258.6 L991.2,252.6 L987.8,251.7 L984.7,219.0 L981.3,241.1 L981.2,241.8 L978.4,228.2 L978.0,226.2 L975.0,243.7 L971.7,259.4 L968.3,259.5 L967.5,259.5 L965.3,258.1 L964.2,257.4 L962.5,258.4 L960.8,259.6 L958.4,262.8 L958.3,262.1 L957.0,231.5 L955.5,196.2 L955.3,198.8 L952.2,239.9 L952.0,239.1 L949.2,218.1 L949.1,218.9 L947.5,243.3 L945.8,268.7 L943.0,268.7 L940.0,288.7 L936.7,305.2 L933.3,310.3 L929.7,305.7 L926.7,310.3 L923.3,307.0 L920.0,303.7 L916.7,298.4 L913.3,302.7 L912.5,303.7 L910.0,314.9 L909.2,318.5 L906.7,329.8 L905.8,333.8 L903.3,345.2 L900.0,335.4 L898.0,331.4 L896.9,329.3 L894.0,319.2 L891.3,333.5 L890.2,339.3 L888.0,342.9 L886.9,344.8 L884.2,342.2 L881.3,299.3 L878.0,309.2 L875.1,299.3 L874.7,301.1 L871.3,315.9 L869.1,317.4 L868.0,318.1 L864.7,319.2 L862.0,314.8 L859.1,321.5 L855.8,329.8 L852.4,337.7 L849.1,307.7 L845.8,325.8 L842.4,330.4 L839.1,333.7 L836.9,343.3 L835.8,348.0 L833.1,360.3 L830.2,359.2 L826.9,351.5 L825.1,357.1 L823.6,362.1 L822.4,365.9 L820.2,366.7 L819.1,367.0 L816.9,362.8 L816.2,361.4 L813.6,350.1 L811.3,372.7 L810.9,373.9 L809.1,379.2 L808.0,379.5 L804.7,380.3 L801.3,383.8 L798.0,390.4 L794.7,393.6 L791.3,401.6 L788.0,410.4 L784.7,401.6 L781.3,397.0 L775.1,387.1 L772.4,405.7 L771.3,413.0 L770.2,413.5 L766.9,414.8 L765.8,415.6 L762.4,418.1 L761.3,416.5 L756.9,410.4 L752.4,408.5 L749.1,404.8 L745.8,393.8 L742.4,405.9 L739.1,403.7 L735.8,400.4 L732.4,398.9 L728.0,404.8 L723.6,409.2 L720.2,418.0 L716.9,401.5 L713.6,410.2 L710.2,414.8 L706.9,415.6 L705.8,415.9 L703.6,417.4 L702.4,418.2 L700.2,421.1 L699.1,422.6 L696.9,427.2 L696.4,428.0 L694.7,421.6 L692.9,338.4 L692.4,315.3 L691.3,273.6 L688.0,269.9 L684.7,265.5 L681.3,275.1 L680.2,247.7 L678.4,213.0 L675.3,211.7 L672.4,230.6 L669.1,249.2 L665.8,241.5 L662.4,231.4 L659.1,227.7 L655.8,234.7 L652.9,231.5 L649.1,245.9 L646.9,234.8 L644.7,219.5 L643.1,178.1 L639.6,167.2 L636.4,159.6 L634.7,174.5 L633.6,188.1 L632.9,196.9 L630.2,195.1 L629.8,194.8 L626.9,202.0 L626.2,203.5 L623.1,174.7 L620.2,148.7 L616.9,174.7 L613.8,206.8 L610.7,168.5 L607.3,142.8 L606.9,145.8 L604.0,167.1 L603.6,170.0 L601.3,188.4 L600.9,191.6 L600.2,197.2 L598.0,217.8 L596.9,228.0 L595.1,236.5 L594.7,238.3 L593.6,243.5 L592.4,246.8 L591.3,249.7 L590.2,252.7 L589.1,257.1 L588.0,261.5 L585.8,268.1 L584.7,271.4 L581.3,279.4 L580.9,280.3 L578.0,278.1 L575.1,311.0 L574.7,315.5 L572.0,308.1 L568.4,304.0 L565.3,329.6 L564.7,334.5 L562.4,332.5 L561.3,331.4 L559.1,327.7 L558.7,327.1 L555.8,335.8 L554.7,339.1 L551.3,341.5 L548.0,349.2 L546.9,357.5 L545.8,361.2 L543.6,368.5 L542.9,370.9 L540.2,370.4 L536.9,368.2 L533.1,363.8 L530.2,368.2 L529.1,368.4 L526.9,368.7 L524.2,365.1 L523.6,364.3 L520.2,353.1 L516.9,354.2 L513.6,351.4 L510.2,350.9 L507.3,350.9 L506.9,356.2 L505.8,370.6 L504.2,385.4 L501.3,385.4 L498.0,394.2 L494.7,398.6 L491.3,404.7 L488.0,404.2 L484.7,397.6 L482.4,396.6 L480.2,402.1 L476.9,407.6 L475.8,407.9 L473.6,408.7 L472.4,409.6 L469.1,412.0 L465.8,415.3 L464.7,415.1 L460.2,414.2 L456.9,413.7 L455.8,413.6 L452.4,426.6 L449.6,434.1 L446.4,419.9 L445.8,417.2 L443.6,418.4 L442.4,419.2 L441.3,419.8 L438.0,421.1 L436.9,421.6 L433.6,414.6 L433.1,413.6 L430.2,420.5 L429.1,423.1 L424.7,421.9 L423.6,421.6 L420.7,420.4 L420.2,420.2 L416.9,415.4 L414.0,409.6 L413.6,408.8 L410.9,408.7 L407.6,403.9 L404.7,411.9 L401.3,418.0 L398.0,412.0 L394.7,415.3 L391.8,420.1 L391.3,420.8 L388.7,411.5 L384.7,419.7 L383.6,420.0 L380.2,420.7 L379.1,420.9 L375.3,425.4 L372.4,426.2 L371.3,426.5 L366.9,428.2 L365.8,428.6 L362.4,429.8 L359.1,430.9 L355.8,429.8 L352.4,425.5 L349.1,433.1 L346.4,430.4 L345.8,429.8 L342.9,424.3 L340.2,425.4 L336.9,426.5 L336.2,420.3 L334.7,406.8 L333.6,397.4 L333.1,393.1 L332.4,387.4 L330.2,377.5 L328.0,374.9 L326.9,374.1 L324.7,372.4 L324.2,372.0 L321.3,373.8 L320.7,374.2 L318.0,379.8 L317.3,380.5 L316.9,380.9 L314.2,376.5 L311.3,378.7 L308.0,376.5 L304.7,382.0 L301.3,384.2 L298.0,383.1 L294.7,394.1 L291.3,393.5 L290.7,392.3 L288.0,386.9 L286.9,383.5 L284.7,376.6 L283.6,376.1 L282.4,375.8 L279.6,378.8 L278.7,379.8 L278.0,384.8 L276.9,393.0 L275.8,400.2 L274.7,407.4 L269.8,408.7 L265.8,406.9 L262.4,405.2 L259.1,395.9 L255.8,414.6 L253.6,413.6 L252.9,415.0 L250.2,420.9 L249.8,420.3 L246.9,415.8 L246.2,415.0 L243.6,412.1 L242.4,410.9 L240.2,408.6 L236.9,400.9 L231.3,406.0 L227.6,408.3 L226.9,408.7 L223.6,407.6 L221.3,406.9 L220.9,406.2 L218.0,401.6 L214.7,405.2 L213.6,406.4 L212.0,408.0 L210.2,409.8 L208.0,411.7 L206.9,412.7 L203.6,410.9 L201.3,404.9 L200.2,401.9 L198.0,389.8 L195.1,388.4 L194.7,388.3 L192.0,402.5 L191.3,406.0 L189.1,404.1 L188.4,403.7 L185.8,411.9 L183.6,414.8 L182.4,415.1 L179.1,415.8 L175.8,418.7 L172.4,422.4 L169.1,414.7 L165.8,425.3 L161.3,429.8 L156.9,432.0 L153.6,426.5 L150.2,421.9 L149.8,420.3 L147.6,411.5 L146.9,408.7 L145.3,379.2 L143.6,348.4 L143.1,348.1 L141.3,350.1 L140.2,351.3 L137.3,347.1 L136.9,346.5 L133.6,349.1 L130.2,355.4 L127.6,357.1 L126.9,357.6 L124.7,361.2 L123.6,363.1 L121.3,369.1 L120.2,372.1 L118.0,379.4 L116.9,383.1 L114.7,400.6 L114.2,401.7 L111.3,406.5 L108.0,412.0 L104.7,407.6 L104.0,406.5 L101.3,402.6 L100.9,409.5 L99.6,432.0 L98.4,451.9 L95.8,444.7 L92.5,444.7 Z" fill="#f7cb4d" fill-opacity="0.2" stroke="none"/>
<path d="M92.5,516.9 L95.8,518.2 L98.4,518.2 L99.6,517.3 L100.9,516.2 L101.3,516.5 L104.0,518.2 L104.7,518.3 L108.0,518.9 L111.3,514.5 L114.2,509.7 L114.7,508.8 L116.9,504.7 L118.0,502.7 L120.2,500.2 L121.3,498.9 L123.6,495.9 L124.7,494.4 L126.9,492.7 L127.6,492.2 L130.2,493.8 L133.6,492.9 L136.9,490.9 L137.3,490.7 L140.2,490.7 L141.3,490.7 L143.1,490.7 L143.6,492.7 L145.3,499.9 L146.9,506.3 L147.6,509.0 L149.8,514.9 L150.2,515.0 L153.6,516.0 L156.9,518.2 L161.3,516.9 L165.8,516.4 L169.1,514.9 L172.4,516.0 L175.8,515.6 L179.1,519.3 L182.4,517.1 L183.6,516.6 L185.8,515.6 L188.4,515.2 L189.1,515.1 L191.3,516.3 L192.0,516.7 L194.7,512.2 L195.1,511.6 L198.0,511.3 L200.2,513.4 L201.3,514.4 L203.6,515.6 L206.9,515.6 L208.0,515.6 L210.2,515.3 L212.0,515.1 L213.6,514.4 L214.7,514.0 L218.0,511.6 L220.9,514.0 L221.3,513.9 L223.6,513.3 L226.9,514.4 L227.6,514.6 L231.3,512.9 L236.9,511.3 L240.2,511.6 L242.4,511.8 L243.6,513.3 L246.2,516.9 L246.9,516.4 L249.8,514.4 L250.2,514.1 L252.9,512.2 L253.6,512.4 L255.8,512.9 L259.1,511.1 L262.4,514.0 L265.8,514.2 L269.8,515.6 L274.7,515.0 L275.8,514.8 L276.9,509.6 L278.0,504.4 L278.7,502.9 L279.6,501.1 L282.4,501.3 L283.6,501.4 L284.7,502.0 L286.9,503.3 L288.0,504.2 L290.7,506.2 L291.3,506.3 L294.7,506.6 L298.0,502.7 L301.3,503.3 L304.7,501.1 L308.0,498.9 L311.3,502.6 L314.2,504.4 L316.9,504.8 L317.3,504.9 L318.0,503.3 L320.7,500.1 L321.3,499.4 L324.2,500.0 L324.7,500.5 L326.9,502.7 L328.0,502.4 L330.2,501.8 L332.4,509.3 L333.1,511.8 L333.6,513.5 L334.7,516.4 L336.2,520.4 L336.9,522.2 L340.2,522.7 L342.9,520.5 L345.8,523.2 L346.4,523.7 L349.1,523.3 L352.4,522.7 L355.8,523.6 L359.1,524.4 L362.4,523.9 L365.8,523.3 L366.9,523.0 L371.3,521.6 L372.4,522.1 L375.3,523.8 L379.1,522.6 L380.2,522.2 L383.6,521.3 L384.7,521.0 L388.7,520.0 L391.3,522.4 L391.8,522.9 L394.7,520.4 L398.0,518.2 L401.3,520.4 L404.7,516.6 L407.6,512.3 L410.9,515.6 L413.6,515.6 L414.0,515.6 L416.9,517.8 L420.2,519.7 L420.7,520.0 L423.6,520.0 L424.7,520.0 L429.1,520.9 L430.2,521.1 L433.1,519.6 L433.6,519.3 L436.9,520.2 L438.0,520.4 L441.3,519.3 L442.4,518.9 L443.6,518.7 L445.8,518.3 L446.4,518.2 L449.6,522.2 L452.4,519.6 L455.8,516.0 L456.9,514.9 L460.2,514.4 L464.7,516.2 L465.8,516.1 L469.1,515.6 L472.4,516.2 L473.6,515.9 L475.8,515.4 L476.9,515.1 L480.2,513.8 L482.4,512.9 L484.7,513.3 L488.0,514.0 L491.3,514.2 L494.7,514.4 L498.0,510.7 L501.3,506.3 L504.2,506.7 L505.8,501.1 L506.9,497.3 L507.3,497.1 L510.2,495.1 L513.6,495.6 L516.9,498.2 L520.2,501.1 L523.6,505.4 L524.2,506.2 L526.9,506.8 L529.1,507.3 L530.2,507.2 L533.1,507.0 L536.9,506.7 L540.2,510.0 L542.9,509.6 L543.6,509.5 L545.8,507.9 L546.9,507.1 L548.0,505.6 L551.3,502.3 L554.7,500.4 L555.8,499.9 L558.7,498.4 L559.1,498.2 L561.3,500.1 L562.4,501.1 L564.7,502.3 L565.3,502.6 L568.4,493.0 L572.0,496.7 L574.7,499.2 L575.1,499.5 L578.0,493.3 L580.9,491.0 L581.3,490.7 L584.7,488.0 L585.8,487.1 L588.0,486.1 L589.1,485.6 L590.2,485.7 L591.3,485.8 L592.4,486.0 L593.6,484.6 L594.7,483.2 L595.1,482.7 L596.9,481.0 L598.0,480.0 L600.2,472.4 L600.9,470.0 L601.3,469.8 L603.6,468.6 L604.0,468.4 L606.9,469.3 L607.3,469.9 L610.7,474.5 L613.8,481.1 L616.9,474.4 L620.2,468.5 L623.1,474.4 L626.2,479.0 L626.9,480.0 L629.8,481.6 L630.2,481.8 L632.9,476.8 L633.6,475.4 L634.7,472.3 L636.4,467.5 L639.6,467.8 L643.1,471.1 L644.7,482.4 L646.9,494.5 L649.1,497.8 L652.9,493.3 L655.8,490.6 L659.1,488.0 L662.4,487.8 L665.8,491.6 L669.1,494.4 L672.4,490.1 L675.3,486.7 L678.4,486.2 L680.2,492.6 L681.3,496.5 L684.7,500.4 L688.0,500.4 L691.3,500.4 L692.4,510.8 L692.9,515.6 L694.7,529.5 L696.4,526.4 L696.9,525.5 L699.1,524.1 L700.2,523.3 L702.4,522.6 L703.6,522.2 L705.8,522.2 L706.9,522.2 L710.2,520.5 L713.6,520.4 L716.9,518.9 L720.2,525.1 L723.6,527.3 L728.0,526.2 L732.4,524.5 L735.8,526.0 L739.1,525.6 L742.4,527.3 L745.8,523.8 L749.1,525.1 L752.4,525.5 L756.9,525.1 L761.3,524.4 L762.4,524.9 L765.8,526.2 L766.9,525.8 L770.2,524.5 L771.3,524.2 L772.4,524.0 L775.1,520.0 L781.3,524.0 L784.7,525.1 L788.0,524.0 L791.3,520.0 L794.7,515.5 L798.0,512.9 L801.3,514.4 L804.7,510.0 L808.0,513.3 L809.1,514.3 L810.9,516.0 L811.3,514.9 L813.6,508.9 L816.2,510.3 L816.9,510.7 L819.1,509.9 L820.2,509.6 L822.4,509.4 L823.6,509.3 L825.1,509.6 L826.9,510.0 L830.2,512.2 L833.1,512.7 L835.8,510.0 L836.9,508.9 L839.1,506.7 L842.4,503.4 L845.8,502.7 L849.1,501.1 L852.4,503.3 L855.8,502.2 L859.1,501.6 L862.0,494.4 L864.7,496.2 L868.0,496.2 L869.1,496.2 L871.3,495.8 L874.7,495.1 L875.1,495.3 L878.0,496.7 L881.3,493.4 L884.2,497.3 L886.9,499.2 L888.0,500.0 L890.2,499.3 L891.3,498.9 L894.0,497.8 L896.9,500.2 L898.0,501.1 L900.0,501.7 L903.3,507.4 L905.8,504.4 L906.7,503.3 L909.2,501.4 L910.0,500.8 L912.5,498.7 L913.3,498.0 L916.7,492.5 L920.0,490.8 L923.3,495.0 L926.7,496.6 L929.7,492.5 L933.3,495.0 L936.7,492.5 L940.0,493.3 L943.0,493.3 L945.8,493.3 L947.5,483.3 L949.1,475.3 L949.2,475.1 L952.0,479.4 L952.2,479.6 L955.3,469.3 L955.5,468.7 L957.0,478.3 L958.3,489.7 L958.4,490.0 L960.8,490.5 L962.5,490.8 L964.2,489.3 L965.3,488.4 L967.5,488.9 L968.3,489.2 L971.7,490.3 L975.0,489.2 L978.0,484.2 L978.4,484.3 L981.2,485.4 L981.3,485.3 L984.7,480.1 L987.8,486.6 L991.2,490.4 L994.2,493.0 L997.5,489.7 L1000.5,494.2 L1003.7,488.7 L1006.7,490.0 L1010.0,492.0 L1013.3,491.7 L1016.7,493.7 L1020.0,492.5 L1021.3,486.8 L1023.2,479.7 L1023.3,479.3 L1026.6,479.2 L1026.7,479.2 L1028.3,481.0 L1029.2,482.1 L1029.4,482.4 L1030.3,484.1 L1031.0,485.4 L1031.7,486.7 L1032.5,488.8 L1033.0,490.0 L1033.3,490.8 L1034.2,494.5 L1035.0,497.8 L1035.8,501.2 L1036.7,501.5 L1038.3,501.8 L1039.2,502.0 L1041.7,503.6 L1042.5,504.2 L1045.0,504.2 L1045.8,504.2 L1048.8,502.5 L1049.0,502.5" fill="none" stroke="#20124d" stroke-width="0.95" stroke-opacity="0.85" stroke-linejoin="round"/>
<path d="M92.5,515.9 L95.8,517.2 L98.4,517.2 L99.6,494.9 L100.9,475.1 L101.3,475.3 L104.0,476.7 L104.7,477.2 L108.0,480.0 L111.3,476.7 L114.2,472.3 L114.7,470.7 L116.9,463.6 L118.0,460.0 L120.2,457.1 L121.3,455.6 L123.6,452.5 L124.7,451.1 L126.9,449.0 L127.6,448.5 L130.2,449.3 L133.6,444.4 L136.9,441.5 L137.3,441.1 L140.2,440.6 L141.3,440.4 L143.1,438.3 L143.6,438.4 L145.3,461.8 L146.9,474.5 L147.6,476.3 L149.8,482.2 L150.2,483.3 L153.6,487.9 L156.9,493.3 L161.3,490.7 L165.8,486.0 L169.1,485.1 L172.4,487.1 L175.8,485.6 L179.1,488.9 L182.4,486.7 L183.6,485.1 L185.8,482.2 L188.4,481.3 L189.1,481.1 L191.3,481.1 L192.0,481.1 L194.7,476.3 L195.1,475.6 L198.0,475.1 L200.2,478.3 L201.3,480.0 L203.6,481.8 L206.9,482.1 L208.0,482.2 L210.2,482.0 L212.0,481.8 L213.6,479.6 L214.7,478.2 L218.0,473.3 L220.9,479.1 L221.3,478.9 L223.6,477.8 L226.9,478.7 L227.6,478.9 L231.3,477.1 L236.9,474.0 L240.2,474.9 L242.4,475.5 L243.6,477.9 L246.2,483.3 L246.9,482.8 L249.8,480.7 L250.2,480.6 L252.9,480.0 L253.6,480.0 L255.8,480.0 L259.1,473.8 L262.4,477.3 L265.8,478.9 L269.8,480.7 L274.7,478.3 L275.8,477.6 L276.9,469.9 L278.0,462.2 L278.7,459.2 L279.6,455.5 L282.4,454.0 L283.6,455.0 L284.7,456.1 L286.9,460.9 L288.0,463.3 L290.7,466.0 L291.3,466.6 L294.7,467.7 L298.0,462.9 L301.3,461.6 L304.7,461.1 L308.0,460.0 L311.3,460.7 L314.2,458.2 L316.9,460.0 L317.3,459.8 L318.0,459.6 L320.7,455.4 L321.3,454.5 L324.2,451.2 L324.7,450.7 L326.9,452.2 L328.0,452.2 L330.2,452.2 L332.4,464.8 L333.1,468.8 L333.6,472.6 L334.7,480.8 L336.2,492.1 L336.9,492.0 L340.2,491.1 L342.9,487.4 L345.8,492.2 L346.4,493.3 L349.1,492.2 L352.4,490.7 L355.8,492.0 L359.1,493.3 L362.4,491.7 L365.8,490.0 L366.9,489.6 L371.3,487.8 L372.4,487.4 L375.3,492.2 L379.1,490.0 L380.2,489.8 L383.6,489.3 L384.7,488.6 L388.7,486.3 L391.3,488.9 L391.8,489.3 L394.7,485.5 L398.0,482.9 L401.3,488.4 L404.7,479.9 L407.6,473.4 L410.9,476.7 L413.6,479.2 L414.0,479.6 L416.9,484.5 L420.2,491.3 L420.7,492.2 L423.6,491.7 L424.7,491.6 L429.1,492.1 L430.2,492.2 L433.1,490.3 L433.6,490.0 L436.9,491.2 L438.0,491.6 L441.3,488.7 L442.4,487.7 L443.6,486.7 L445.8,487.0 L446.4,487.1 L449.6,496.2 L452.4,493.4 L455.8,484.9 L456.9,482.2 L460.2,480.7 L464.7,482.6 L465.8,482.0 L469.1,480.0 L472.4,485.9 L473.6,485.7 L475.8,485.1 L476.9,484.3 L480.2,481.7 L482.4,480.0 L484.7,481.4 L488.0,483.3 L491.3,482.8 L494.7,482.2 L498.0,477.3 L501.3,471.8 L504.2,471.8 L505.8,461.5 L506.9,454.4 L507.3,454.3 L510.2,452.9 L513.6,453.9 L516.9,459.6 L520.2,466.2 L523.6,470.9 L524.2,471.7 L526.9,473.2 L529.1,474.4 L530.2,473.7 L533.1,471.6 L536.9,468.9 L540.2,473.3 L542.9,472.6 L543.6,472.4 L545.8,471.7 L546.9,467.5 L548.0,463.3 L551.3,460.0 L554.7,457.8 L555.8,456.9 L558.7,454.8 L559.1,454.5 L561.3,455.9 L562.4,456.6 L564.7,460.1 L565.3,461.1 L568.4,441.0 L572.0,440.7 L574.7,449.7 L575.1,451.1 L578.0,441.1 L580.9,438.2 L581.3,437.8 L584.7,434.4 L585.8,433.3 L588.0,430.4 L589.1,428.9 L590.2,425.6 L591.3,422.3 L592.4,419.0 L593.6,416.0 L594.7,413.2 L595.1,412.2 L596.9,411.5 L598.0,411.1 L600.2,397.2 L600.9,392.7 L601.3,390.2 L603.6,383.4 L604.0,382.2 L606.9,383.3 L607.3,382.8 L610.7,378.7 L613.8,399.9 L616.9,386.6 L620.2,370.6 L623.1,383.3 L626.2,398.8 L626.9,402.2 L629.8,404.2 L630.2,404.4 L632.9,399.1 L633.6,397.6 L634.7,392.1 L636.4,383.6 L639.6,371.1 L643.1,371.1 L644.7,394.9 L646.9,422.3 L649.1,431.1 L652.9,423.3 L655.8,418.9 L659.1,414.9 L662.4,415.5 L665.8,423.4 L669.1,430.0 L672.4,421.2 L675.3,414.5 L678.4,410.1 L680.2,427.6 L681.3,438.6 L684.7,443.4 L688.0,446.7 L691.3,450.0 L692.4,463.7 L692.9,470.2 L694.7,500.5 L696.4,503.6 L696.9,504.4 L699.1,502.2 L700.2,501.1 L702.4,499.7 L703.6,498.9 L705.8,497.8 L706.9,497.3 L710.2,496.0 L713.6,496.0 L716.9,492.9 L720.2,500.0 L723.6,503.7 L728.0,500.0 L732.4,497.4 L735.8,499.6 L739.1,501.1 L742.4,503.7 L745.8,493.8 L749.1,497.3 L752.4,498.2 L756.9,499.5 L761.3,496.7 L762.4,495.6 L765.8,492.2 L766.9,491.8 L770.2,490.7 L771.3,489.3 L772.4,487.8 L775.1,480.7 L781.3,486.6 L784.7,485.6 L788.0,489.3 L791.3,483.4 L794.7,477.7 L798.0,473.3 L801.3,470.7 L804.7,466.1 L808.0,472.2 L809.1,473.5 L810.9,475.5 L811.3,473.5 L813.6,462.3 L816.2,464.9 L816.9,465.5 L819.1,463.6 L820.2,462.7 L822.4,460.9 L823.6,460.0 L825.1,459.8 L826.9,459.6 L830.2,466.6 L833.1,465.6 L835.8,460.8 L836.9,458.9 L839.1,455.4 L842.4,450.1 L845.8,449.3 L849.1,446.2 L852.4,449.3 L855.8,448.4 L859.1,445.6 L862.0,435.6 L864.7,441.1 L868.0,441.8 L869.1,441.0 L871.3,439.6 L874.7,439.6 L875.1,439.6 L878.0,440.4 L881.3,433.0 L884.2,449.9 L886.9,453.2 L888.0,454.4 L890.2,452.5 L891.3,451.6 L894.0,445.6 L896.9,456.7 L898.0,457.6 L900.0,459.2 L903.3,469.1 L905.8,462.4 L906.7,459.9 L909.2,453.0 L910.0,450.8 L912.5,445.8 L913.3,444.2 L916.7,437.0 L920.0,436.3 L923.3,440.8 L926.7,442.9 L929.7,437.0 L933.3,440.0 L936.7,437.0 L940.0,438.3 L943.0,435.0 L945.8,433.0 L947.5,411.7 L949.1,397.6 L949.2,397.1 L952.0,404.9 L952.2,405.1 L955.3,385.4 L955.5,384.2 L957.0,403.3 L958.3,423.6 L958.4,424.2 L960.8,425.0 L962.5,423.3 L964.2,421.6 L965.3,421.1 L967.5,420.0 L968.3,420.5 L971.7,422.4 L975.0,415.0 L978.0,404.2 L978.4,404.9 L981.2,409.9 L981.3,409.8 L984.7,403.8 L987.8,416.2 L991.2,416.4 L994.2,420.3 L997.5,414.7 L1000.5,422.5 L1003.7,413.3 L1006.7,410.8 L1010.0,409.7 L1013.3,414.6 L1016.7,415.3 L1020.0,414.2 L1021.3,405.2 L1023.2,395.7 L1023.3,395.2 L1026.6,394.2 L1026.7,394.2 L1028.3,397.4 L1029.2,399.3 L1029.4,399.8 L1030.3,402.2 L1031.0,404.1 L1031.7,405.9 L1032.5,408.3 L1033.0,409.8 L1033.3,410.7 L1034.2,416.5 L1035.0,421.7 L1035.8,424.1 L1036.7,426.7 L1038.3,428.3 L1039.2,429.2 L1041.7,431.7 L1042.5,432.1 L1045.0,433.3 L1045.8,432.9 L1048.8,431.4 L1049.0,431.3" fill="none" stroke="#dc4c68" stroke-width="0.95" stroke-opacity="0.85" stroke-linejoin="round"/>
<path d="M92.5,461.6 L95.8,462.3 L98.4,469.9 L99.6,450.2 L100.9,427.9 L101.3,421.0 L104.0,425.0 L104.7,426.2 L108.0,430.7 L111.3,425.3 L114.2,420.5 L114.7,419.5 L116.9,402.4 L118.0,399.0 L120.2,392.2 L121.3,389.5 L123.6,383.8 L124.7,382.1 L126.9,378.7 L127.6,378.6 L130.2,378.4 L133.6,373.8 L136.9,371.2 L137.3,371.8 L140.2,375.7 L141.3,376.7 L143.1,378.3 L143.6,379.4 L145.3,406.0 L146.9,433.8 L147.6,436.5 L149.8,445.1 L150.2,446.7 L153.6,450.9 L156.9,456.1 L161.3,454.3 L165.8,450.3 L169.1,440.0 L172.4,448.0 L175.8,444.7 L179.1,442.2 L182.4,441.8 L183.6,441.7 L185.8,439.0 L188.4,431.1 L189.1,431.5 L191.3,433.6 L192.0,430.2 L194.7,416.3 L195.1,416.5 L198.0,418.1 L200.2,430.5 L201.3,433.6 L203.6,439.9 L206.9,441.9 L208.0,441.1 L210.2,439.4 L212.0,437.8 L213.6,436.4 L214.7,435.3 L218.0,432.0 L220.9,436.9 L221.3,437.6 L223.6,438.2 L226.9,438.9 L227.6,438.4 L231.3,435.9 L236.9,430.3 L240.2,437.7 L242.4,439.7 L243.6,440.8 L246.2,443.6 L246.9,444.3 L249.8,448.5 L250.2,449.1 L252.9,443.0 L253.6,441.5 L255.8,442.3 L259.1,423.3 L262.4,432.3 L265.8,433.5 L269.8,435.0 L274.7,434.8 L275.8,427.9 L276.9,420.9 L278.0,412.9 L278.7,408.1 L279.6,407.3 L282.4,405.0 L283.6,405.4 L284.7,405.9 L286.9,413.0 L288.0,416.5 L290.7,422.0 L291.3,423.3 L294.7,424.1 L298.0,413.3 L301.3,414.6 L304.7,412.6 L308.0,407.3 L311.3,409.7 L314.2,407.7 L316.9,412.3 L317.3,411.9 L318.0,411.3 L320.7,405.9 L321.3,405.5 L324.2,403.9 L324.7,404.1 L326.9,405.5 L328.0,406.2 L330.2,408.6 L332.4,418.1 L333.1,423.8 L333.6,428.0 L334.7,437.2 L336.2,450.5 L336.9,456.6 L340.2,455.1 L342.9,453.6 L345.8,458.8 L346.4,459.3 L349.1,461.6 L352.4,453.6 L355.8,457.7 L359.1,458.6 L362.4,457.3 L365.8,455.9 L366.9,455.5 L371.3,453.5 L372.4,453.5 L375.3,453.6 L379.1,450.4 L380.2,450.6 L383.6,451.0 L384.7,451.0 L388.7,444.0 L391.3,453.3 L391.8,452.7 L394.7,447.9 L398.0,444.6 L401.3,450.7 L404.7,444.9 L407.6,437.0 L410.9,441.6 L413.6,441.5 L414.0,442.3 L416.9,447.8 L420.2,452.4 L420.7,452.7 L423.6,453.9 L424.7,454.5 L429.1,456.8 L430.2,454.4 L433.1,448.3 L433.6,449.3 L436.9,456.3 L438.0,455.8 L441.3,454.3 L442.4,453.6 L443.6,452.8 L445.8,451.5 L446.4,454.2 L449.6,468.4 L452.4,460.8 L455.8,447.8 L456.9,448.2 L460.2,449.4 L464.7,451.3 L465.8,451.7 L469.1,449.3 L472.4,447.8 L473.6,447.2 L475.8,446.8 L476.9,446.6 L480.2,441.6 L482.4,436.4 L484.7,437.8 L488.0,444.9 L491.3,445.8 L494.7,440.2 L498.0,436.3 L501.3,428.0 L504.2,429.0 L505.8,419.5 L506.9,408.7 L507.3,404.8 L510.2,405.0 L513.6,405.7 L516.9,408.9 L520.2,408.1 L523.6,419.5 L524.2,420.4 L526.9,424.2 L529.1,424.1 L530.2,424.0 L533.1,419.9 L536.9,424.6 L540.2,427.1 L542.9,427.5 L543.6,425.2 L545.8,417.9 L546.9,414.2 L548.0,410.0 L551.3,405.6 L554.7,401.1 L555.8,399.7 L558.7,396.1 L559.1,395.6 L561.3,397.7 L562.4,398.8 L564.7,401.5 L565.3,402.2 L568.4,377.0 L572.0,381.1 L574.7,389.8 L575.1,391.1 L578.0,358.9 L580.9,360.0 L581.3,359.4 L584.7,354.4 L585.8,351.8 L588.0,346.7 L589.1,344.5 L590.2,342.3 L591.3,340.1 L592.4,337.5 L593.6,334.7 L594.7,332.1 L595.1,330.2 L596.9,321.8 L598.0,316.7 L600.2,302.0 L600.9,297.3 L601.3,294.7 L603.6,284.1 L604.0,282.2 L606.9,275.1 L607.3,274.1 L610.7,294.7 L613.8,319.8 L616.9,296.6 L620.2,271.3 L623.1,294.4 L626.2,327.1 L626.9,326.4 L629.8,322.2 L630.2,322.0 L632.9,320.6 L633.6,314.6 L634.7,305.3 L636.4,290.4 L639.6,296.8 L643.1,303.3 L644.7,323.7 L646.9,350.1 L649.1,365.5 L652.9,360.0 L655.8,356.6 L659.1,354.0 L662.4,350.1 L665.8,361.2 L669.1,368.9 L672.4,350.3 L675.3,335.1 L678.4,337.7 L680.2,365.2 L681.3,383.9 L684.7,386.7 L688.0,393.3 L691.3,396.6 L692.4,410.4 L692.9,417.1 L694.7,488.9 L696.4,489.2 L696.9,489.3 L699.1,488.3 L700.2,487.8 L702.4,486.8 L703.6,486.2 L705.8,484.3 L706.9,483.3 L710.2,482.2 L713.6,479.5 L716.9,472.3 L720.2,483.3 L723.6,484.4 L728.0,481.8 L732.4,474.5 L735.8,478.9 L739.1,480.0 L742.4,484.4 L745.8,475.6 L749.1,479.5 L752.4,476.7 L756.9,475.5 L761.3,471.1 L762.4,470.0 L765.8,466.7 L766.9,466.0 L770.2,464.0 L771.3,461.5 L772.4,459.0 L775.1,445.6 L781.3,454.4 L784.7,458.9 L788.0,464.9 L791.3,458.9 L794.7,452.2 L798.0,447.8 L801.3,444.5 L804.7,441.1 L808.0,440.0 L809.1,441.7 L810.9,444.4 L811.3,441.3 L813.6,424.1 L816.2,429.6 L816.9,431.1 L819.1,432.3 L820.2,432.9 L822.4,430.3 L823.6,428.8 L825.1,425.8 L826.9,422.2 L830.2,429.9 L833.1,428.9 L835.8,421.8 L836.9,418.9 L839.1,414.9 L842.4,409.0 L845.8,406.6 L849.1,392.7 L852.4,414.2 L855.8,408.9 L859.1,403.4 L862.0,397.8 L864.7,404.4 L868.0,400.0 L869.1,398.2 L871.3,394.5 L874.7,387.5 L875.1,386.7 L878.0,394.4 L881.3,387.8 L884.2,416.4 L886.9,421.1 L888.0,419.3 L890.2,415.6 L891.3,410.5 L894.0,397.8 L896.9,408.9 L898.0,411.1 L900.0,415.0 L903.3,424.9 L905.8,410.2 L906.7,407.0 L909.2,398.2 L910.0,396.0 L912.5,389.2 L913.3,388.0 L916.7,383.0 L920.0,384.2 L923.3,386.6 L926.7,389.6 L929.7,385.3 L933.3,386.7 L936.7,384.1 L940.0,375.0 L943.0,356.7 L945.8,364.9 L947.5,344.2 L949.1,324.2 L949.2,323.5 L952.0,339.1 L952.2,339.6 L955.3,305.5 L955.5,303.3 L957.0,331.6 L958.3,356.0 L958.4,356.6 L960.8,354.2 L962.5,353.8 L964.2,353.3 L965.3,353.3 L967.5,353.3 L968.3,353.5 L971.7,354.0 L975.0,341.7 L978.0,326.7 L978.4,328.6 L981.2,341.5 L981.3,341.0 L984.7,324.4 L987.8,345.6 L991.2,345.0 L994.2,348.3 L997.5,340.8 L1000.5,353.3 L1003.7,341.7 L1006.7,340.8 L1010.0,340.8 L1013.3,346.6 L1016.7,345.0 L1020.0,345.8 L1021.3,330.4 L1023.2,315.2 L1023.3,314.4 L1026.6,317.4 L1026.7,317.6 L1028.3,324.6 L1029.2,328.5 L1029.4,329.3 L1030.3,332.9 L1031.0,335.7 L1031.7,338.5 L1032.5,343.3 L1033.0,346.3 L1033.3,348.1 L1034.2,355.3 L1035.0,361.7 L1035.8,366.1 L1036.7,370.9 L1038.3,371.9 L1039.2,372.5 L1041.7,373.7 L1042.5,373.8 L1045.0,374.2 L1045.8,374.0 L1048.8,373.3 L1049.0,373.3" fill="none" stroke="#5ab4a6" stroke-width="0.95" stroke-opacity="0.85" stroke-linejoin="round"/>
<path d="M92.5,460.9 L95.8,461.6 L98.4,469.2 L99.6,449.5 L100.9,427.2 L101.3,420.3 L104.0,424.2 L104.7,425.4 L108.0,429.8 L111.3,424.3 L114.2,419.4 L114.7,418.4 L116.9,400.8 L118.0,397.1 L120.2,389.7 L121.3,386.9 L123.6,381.3 L124.7,379.9 L126.9,377.0 L127.6,376.7 L130.2,375.7 L133.6,370.2 L136.9,367.6 L137.3,368.2 L140.2,372.1 L141.3,373.5 L143.1,375.7 L143.6,376.9 L145.3,404.5 L146.9,432.6 L147.6,435.4 L149.8,444.0 L150.2,445.6 L153.6,450.0 L156.9,455.3 L161.3,453.5 L165.8,449.4 L169.1,439.1 L172.4,447.1 L175.8,443.7 L179.1,441.2 L182.4,440.8 L183.6,440.7 L185.8,438.0 L188.4,430.0 L189.1,430.5 L191.3,432.6 L192.0,429.1 L194.7,415.2 L195.1,415.4 L198.0,417.0 L200.2,429.3 L201.3,432.4 L203.6,438.7 L206.9,440.8 L208.0,439.9 L210.2,438.2 L212.0,436.6 L213.6,435.1 L214.7,434.0 L218.0,430.7 L220.9,435.6 L221.3,436.3 L223.6,436.8 L226.9,437.6 L227.6,437.1 L231.3,434.5 L236.9,428.8 L240.2,436.2 L242.4,438.2 L243.6,439.3 L246.2,442.0 L246.9,442.7 L249.8,446.9 L250.2,447.5 L252.9,441.4 L253.6,439.9 L255.8,440.6 L259.1,421.6 L262.4,430.6 L265.8,431.8 L269.8,433.2 L274.7,432.2 L275.8,425.1 L276.9,418.0 L278.0,409.8 L278.7,404.8 L279.6,403.9 L282.4,401.2 L283.6,401.5 L284.7,402.0 L286.9,409.0 L288.0,412.6 L290.7,418.1 L291.3,419.4 L294.7,420.2 L298.0,409.4 L301.3,410.7 L304.7,408.6 L308.0,403.3 L311.3,405.7 L314.2,403.7 L316.9,408.3 L317.3,407.9 L318.0,407.3 L320.7,401.9 L321.3,401.5 L324.2,399.9 L324.7,400.2 L326.9,401.7 L328.0,402.5 L330.2,405.0 L332.4,414.7 L333.1,420.4 L333.6,424.7 L334.7,434.0 L336.2,447.4 L336.9,453.5 L340.2,452.2 L342.9,451.0 L345.8,456.3 L346.4,456.9 L349.1,459.4 L352.4,451.6 L355.8,455.7 L359.1,456.6 L362.4,455.4 L365.8,454.0 L366.9,453.5 L371.3,451.6 L372.4,451.6 L375.3,451.9 L379.1,448.8 L380.2,449.0 L383.6,449.5 L384.7,449.6 L388.7,442.7 L391.3,452.0 L391.8,451.4 L394.7,446.6 L398.0,443.3 L401.3,449.4 L404.7,443.5 L407.6,435.6 L410.9,440.2 L413.6,440.0 L414.0,440.7 L416.9,446.3 L420.2,450.8 L420.7,451.0 L423.6,452.1 L424.7,452.6 L429.1,454.6 L430.2,452.2 L433.1,446.0 L433.6,447.0 L436.9,454.1 L438.0,453.7 L441.3,452.4 L442.4,451.7 L443.6,451.0 L445.8,449.8 L446.4,452.4 L449.6,466.1 L452.4,458.0 L455.8,444.5 L456.9,444.7 L460.2,445.3 L464.7,446.5 L465.8,446.8 L469.1,445.0 L472.4,444.1 L473.6,443.8 L475.8,443.5 L476.9,443.3 L480.2,438.4 L482.4,433.3 L484.7,434.8 L488.0,442.0 L491.3,443.0 L494.7,437.6 L498.0,433.8 L501.3,425.6 L504.2,426.4 L505.8,415.0 L506.9,402.8 L507.3,398.3 L510.2,398.6 L513.6,399.4 L516.9,402.2 L520.2,401.1 L523.6,412.2 L524.2,413.0 L526.9,416.5 L529.1,416.2 L530.2,416.0 L533.1,411.6 L536.9,415.9 L540.2,418.1 L542.9,418.5 L543.6,416.2 L545.8,408.9 L546.9,405.2 L548.0,402.2 L551.3,397.8 L554.7,393.3 L555.8,391.6 L558.7,387.3 L559.1,386.7 L561.3,388.1 L562.4,388.9 L564.7,390.6 L565.3,391.1 L568.4,367.0 L572.0,370.0 L574.7,378.7 L575.1,380.0 L578.0,346.7 L580.9,345.5 L581.3,345.0 L584.7,339.9 L585.8,337.4 L588.0,332.2 L589.1,329.3 L590.2,326.4 L591.3,323.4 L592.4,320.5 L593.6,317.3 L594.7,314.3 L595.1,312.7 L596.9,305.5 L598.0,301.1 L600.2,286.4 L600.9,281.8 L601.3,279.1 L603.6,265.7 L604.0,263.3 L606.9,253.7 L607.3,252.3 L610.7,272.5 L613.8,297.6 L616.9,274.4 L620.2,251.3 L623.1,272.1 L626.2,287.7 L626.9,286.9 L629.8,283.3 L630.2,283.3 L632.9,283.3 L633.6,278.0 L634.7,269.7 L636.4,254.8 L639.6,263.4 L643.1,271.1 L644.7,290.4 L646.9,314.5 L649.1,327.7 L652.9,318.9 L655.8,314.4 L659.1,308.9 L662.4,311.1 L665.8,321.2 L669.1,327.8 L672.4,314.6 L675.3,294.7 L678.4,296.6 L680.2,323.0 L681.3,347.0 L684.7,338.9 L688.0,342.2 L691.3,345.5 L692.4,360.5 L692.9,381.2 L694.7,459.0 L696.4,464.3 L696.9,463.7 L699.1,460.0 L700.2,458.5 L702.4,455.6 L703.6,455.2 L705.8,454.4 L706.9,453.6 L710.2,451.1 L713.6,446.5 L716.9,436.7 L720.2,452.1 L723.6,443.3 L728.0,437.8 L732.4,429.0 L735.8,431.1 L739.1,433.3 L742.4,439.9 L745.8,426.7 L749.1,433.3 L752.4,437.7 L756.9,443.3 L761.3,448.6 L762.4,449.9 L765.8,446.6 L766.9,445.6 L770.2,443.9 L771.3,443.4 L772.4,436.4 L775.1,419.0 L781.3,428.8 L784.7,437.9 L788.0,446.7 L791.3,439.0 L794.7,433.3 L798.0,428.9 L801.3,424.5 L804.7,421.1 L808.0,421.1 L809.1,421.1 L810.9,418.4 L811.3,417.8 L813.6,401.2 L816.2,407.7 L816.9,408.8 L819.1,412.2 L820.2,411.9 L822.4,411.1 L823.6,408.2 L825.1,404.5 L826.9,398.9 L830.2,406.6 L833.1,404.5 L835.8,395.5 L836.9,392.2 L839.1,385.6 L842.4,382.3 L845.8,378.8 L849.1,365.6 L852.4,386.4 L855.8,383.3 L859.1,376.7 L862.0,371.1 L864.7,377.7 L868.0,374.4 L869.1,373.3 L871.3,371.1 L874.7,363.2 L875.1,362.2 L878.0,367.8 L881.3,361.2 L884.2,392.0 L886.9,396.7 L888.0,395.2 L890.2,392.3 L891.3,387.2 L894.0,374.4 L896.9,382.2 L898.0,385.0 L900.0,390.0 L903.3,399.1 L905.8,383.5 L906.7,379.4 L909.2,368.2 L910.0,365.8 L912.5,358.3 L913.3,357.4 L916.7,353.4 L920.0,356.7 L923.3,360.8 L926.7,364.1 L929.7,360.8 L933.3,362.5 L936.7,359.9 L940.0,348.3 L943.0,328.3 L945.8,333.3 L947.5,312.5 L949.1,292.5 L949.2,291.9 L952.0,307.4 L952.2,308.0 L955.3,273.9 L955.5,271.7 L957.0,298.1 L958.3,321.1 L958.4,321.7 L960.8,321.7 L962.5,321.2 L964.2,320.9 L965.3,321.4 L967.5,322.5 L968.3,322.8 L971.7,324.0 L975.0,311.7 L978.0,297.5 L978.4,299.1 L981.2,309.8 L981.3,309.4 L984.7,294.4 L987.8,317.3 L991.2,316.7 L994.2,320.8 L997.5,313.3 L1000.5,324.2 L1003.7,312.5 L1006.7,314.2 L1010.0,313.3 L1013.3,321.6 L1016.7,319.2 L1020.0,319.2 L1021.3,305.4 L1023.2,285.6 L1023.3,284.5 L1026.6,283.4 L1026.7,283.5 L1028.3,292.0 L1029.2,296.8 L1029.4,297.8 L1030.3,302.0 L1031.0,305.2 L1031.7,308.6 L1032.5,315.0 L1033.0,319.0 L1033.3,321.4 L1034.2,327.7 L1035.0,333.3 L1035.8,338.9 L1036.7,340.3 L1038.3,342.5 L1039.2,343.4 L1041.7,345.8 L1042.5,345.8 L1045.0,345.8 L1045.8,345.7 L1048.8,345.0 L1049.0,345.0" fill="none" stroke="#b3a9de" stroke-width="0.95" stroke-opacity="0.85" stroke-linejoin="round"/>
<path d="M92.5,460.1 L95.8,460.8 L98.4,468.4 L99.6,448.7 L100.9,426.4 L101.3,419.5 L104.0,423.4 L104.7,424.6 L108.0,429.0 L111.3,423.5 L114.2,418.6 L114.7,417.6 L116.9,400.0 L118.0,396.3 L120.2,388.9 L121.3,386.1 L123.6,380.5 L124.7,379.1 L126.9,376.2 L127.6,375.9 L130.2,374.9 L133.6,369.4 L136.9,366.8 L137.3,367.4 L140.2,371.3 L141.3,372.7 L143.1,374.9 L143.6,376.1 L145.3,403.7 L146.9,431.8 L147.6,434.6 L149.8,443.2 L150.2,444.8 L153.6,449.2 L156.9,454.5 L161.3,452.7 L165.8,448.6 L169.1,438.3 L172.4,446.3 L175.8,442.9 L179.1,440.4 L182.4,440.0 L183.6,439.9 L185.8,437.2 L188.4,429.2 L189.1,429.7 L191.3,431.8 L192.0,428.3 L194.7,414.4 L195.1,414.6 L198.0,416.2 L200.2,428.5 L201.3,431.6 L203.6,437.9 L206.9,440.0 L208.0,439.1 L210.2,437.4 L212.0,435.8 L213.6,434.3 L214.7,433.2 L218.0,429.9 L220.9,434.8 L221.3,435.5 L223.6,436.0 L226.9,436.8 L227.6,436.3 L231.3,433.7 L236.9,428.0 L240.2,435.4 L242.4,437.4 L243.6,438.5 L246.2,441.2 L246.9,441.9 L249.8,446.1 L250.2,446.7 L252.9,440.6 L253.6,439.1 L255.8,439.8 L259.1,420.8 L262.4,429.8 L265.8,431.0 L269.8,432.4 L274.7,431.4 L275.8,424.3 L276.9,417.2 L278.0,409.0 L278.7,404.0 L279.6,403.1 L282.4,400.4 L283.6,400.7 L284.7,401.2 L286.9,408.2 L288.0,411.8 L290.7,417.3 L291.3,418.6 L294.7,419.4 L298.0,408.6 L301.3,409.9 L304.7,407.8 L308.0,402.5 L311.3,404.9 L314.2,402.9 L316.9,407.5 L317.3,407.1 L318.0,406.5 L320.7,401.1 L321.3,400.7 L324.2,399.1 L324.7,399.4 L326.9,400.9 L328.0,401.7 L330.2,404.2 L332.4,413.9 L333.1,419.6 L333.6,423.9 L334.7,433.2 L336.2,446.6 L336.9,452.7 L340.2,451.4 L342.9,450.2 L345.8,455.5 L346.4,456.1 L349.1,458.6 L352.4,450.8 L355.8,454.9 L359.1,455.8 L362.4,454.6 L365.8,453.2 L366.9,452.7 L371.3,450.8 L372.4,450.8 L375.3,451.1 L379.1,448.0 L380.2,448.2 L383.6,448.7 L384.7,448.8 L388.7,441.9 L391.3,451.2 L391.8,450.6 L394.7,445.8 L398.0,442.5 L401.3,448.6 L404.7,442.7 L407.6,434.8 L410.9,439.4 L413.6,439.2 L414.0,439.9 L416.9,445.5 L420.2,449.8 L420.7,450.0 L423.6,450.8 L424.7,451.1 L429.1,452.4 L430.2,449.8 L433.1,442.8 L433.6,443.9 L436.9,450.8 L438.0,450.4 L441.3,449.1 L442.4,448.4 L443.6,447.7 L445.8,446.5 L446.4,449.0 L449.6,462.1 L452.4,453.7 L455.8,439.5 L456.9,439.8 L460.2,440.5 L464.7,441.9 L465.8,442.3 L469.1,440.5 L472.4,439.6 L473.6,439.3 L475.8,438.9 L476.9,438.7 L480.2,433.7 L482.4,428.5 L484.7,429.9 L488.0,437.0 L491.3,438.0 L494.7,432.4 L498.0,428.5 L501.3,420.2 L504.2,420.9 L505.8,409.2 L506.9,396.9 L507.3,392.4 L510.2,392.5 L513.6,393.2 L516.9,396.0 L520.2,394.8 L523.6,405.9 L524.2,406.7 L526.9,410.2 L529.1,409.8 L530.2,409.7 L533.1,405.1 L536.9,409.5 L540.2,411.6 L542.9,412.0 L543.6,409.7 L545.8,402.4 L546.9,398.6 L548.0,388.9 L551.3,383.4 L554.7,380.0 L555.8,378.9 L558.7,375.6 L559.1,376.1 L561.3,378.8 L562.4,379.6 L564.7,380.9 L565.3,376.6 L568.4,354.8 L572.0,358.9 L574.7,367.4 L575.1,363.4 L578.0,334.4 L580.9,335.5 L581.3,334.7 L584.7,327.7 L585.8,325.5 L588.0,321.1 L589.1,317.4 L590.2,313.8 L591.3,310.1 L592.4,306.4 L593.6,302.4 L594.7,298.7 L595.1,296.6 L596.9,287.0 L598.0,281.1 L600.2,266.4 L600.9,261.8 L601.3,259.1 L603.6,249.4 L604.0,247.8 L606.9,222.6 L607.3,219.2 L610.7,239.2 L613.8,272.1 L616.9,254.3 L620.2,216.9 L623.1,252.1 L626.2,266.6 L626.9,265.4 L629.8,260.0 L630.2,260.3 L632.9,262.1 L633.6,254.7 L634.7,243.0 L636.4,228.2 L639.6,239.1 L643.1,258.8 L644.7,272.6 L646.9,294.5 L649.1,306.6 L652.9,295.5 L655.8,291.1 L659.1,286.7 L662.4,288.9 L665.8,297.8 L669.1,304.4 L672.4,290.2 L675.3,271.3 L678.4,272.2 L680.2,305.1 L681.3,334.7 L684.7,321.1 L688.0,324.4 L691.3,326.6 L692.4,349.1 L692.9,371.4 L694.7,454.5 L696.4,459.9 L696.9,459.1 L699.1,454.9 L700.2,453.7 L702.4,451.2 L703.6,450.7 L705.8,450.0 L706.9,448.9 L710.2,445.6 L713.6,439.8 L716.9,427.8 L720.2,443.2 L723.6,435.5 L728.0,432.2 L732.4,423.4 L735.8,425.6 L739.1,427.8 L742.4,431.1 L745.8,416.7 L749.1,426.6 L752.4,431.1 L756.9,435.6 L761.3,440.8 L762.4,442.2 L765.8,438.9 L766.9,437.8 L770.2,434.5 L771.3,433.4 L772.4,426.4 L775.1,409.0 L781.3,423.3 L784.7,427.8 L788.0,434.4 L791.3,427.0 L794.7,418.9 L798.0,415.6 L801.3,411.2 L804.7,406.7 L808.0,405.8 L809.1,405.6 L810.9,399.3 L811.3,397.9 L813.6,379.0 L816.2,386.6 L816.9,388.0 L819.1,392.2 L820.2,392.6 L822.4,393.3 L823.6,389.5 L825.1,384.5 L826.9,377.8 L830.2,387.7 L833.1,386.7 L835.8,375.5 L836.9,371.4 L839.1,363.4 L842.4,358.9 L845.8,355.4 L849.1,337.8 L852.4,365.2 L855.8,359.9 L859.1,352.2 L862.0,345.6 L864.7,351.1 L868.0,348.9 L869.1,347.4 L871.3,344.5 L874.7,334.5 L875.1,333.4 L878.0,340.0 L881.3,332.3 L884.2,374.1 L886.9,378.9 L888.0,377.0 L890.2,373.4 L891.3,367.3 L894.0,352.2 L896.9,361.1 L898.0,363.1 L900.0,366.7 L903.3,376.6 L905.8,358.2 L906.7,354.6 L909.2,344.9 L910.0,342.5 L912.5,335.0 L913.3,333.7 L916.7,328.4 L920.0,333.3 L923.3,337.5 L926.7,341.6 L929.7,337.5 L933.3,340.8 L936.7,336.5 L940.0,318.3 L943.0,301.7 L945.8,305.0 L947.5,279.9 L949.1,255.7 L949.2,256.2 L952.0,275.6 L952.2,273.4 L955.3,239.3 L955.5,242.1 L957.0,271.0 L958.3,296.0 L958.4,296.6 L960.8,295.0 L962.5,293.8 L964.2,292.5 L965.3,293.3 L967.5,295.0 L968.3,295.2 L971.7,295.7 L975.0,281.7 L978.0,265.8 L978.4,267.7 L981.2,280.7 L981.3,280.1 L984.7,262.0 L987.8,289.7 L991.2,289.2 L994.2,294.1 L997.5,284.2 L1000.5,296.7 L1003.7,285.0 L1006.7,288.3 L1010.0,286.7 L1013.3,294.9 L1016.7,293.3 L1020.0,293.3 L1021.3,277.1 L1023.2,250.8 L1023.3,250.7 L1026.6,248.6 L1026.7,249.2 L1028.3,259.5 L1029.2,265.2 L1029.4,266.1 L1030.3,270.3 L1031.0,273.6 L1031.7,276.9 L1032.5,282.5 L1033.0,286.0 L1033.3,288.1 L1034.2,295.3 L1035.0,301.7 L1035.8,308.1 L1036.7,309.5 L1038.3,311.6 L1039.2,312.5 L1041.7,315.0 L1042.5,315.0 L1045.0,315.0 L1045.8,314.9 L1048.8,314.5 L1049.0,314.5" fill="none" stroke="#e8762d" stroke-width="0.95" stroke-opacity="0.85" stroke-linejoin="round"/>
<path d="M92.5,450.9 L95.8,451.4 L98.4,459.0 L99.6,439.2 L100.9,416.9 L101.3,410.0 L104.0,413.9 L104.7,415.1 L108.0,419.5 L111.3,414.0 L114.2,409.1 L114.7,408.1 L116.9,390.4 L118.0,386.6 L120.2,379.1 L121.3,376.3 L123.6,370.4 L124.7,368.8 L126.9,365.6 L127.6,365.2 L130.2,363.7 L133.6,357.6 L136.9,355.0 L137.3,355.5 L140.2,358.9 L141.3,359.9 L143.1,361.6 L143.6,362.7 L145.3,392.0 L146.9,420.9 L147.6,423.6 L149.8,432.4 L150.2,434.0 L153.6,438.5 L156.9,443.9 L161.3,441.9 L165.8,437.7 L169.1,427.3 L172.4,435.2 L175.8,431.7 L179.1,429.0 L182.4,428.6 L183.6,428.4 L185.8,425.6 L188.4,417.5 L189.1,418.0 L191.3,420.0 L192.0,416.5 L194.7,402.5 L195.1,402.7 L198.0,404.2 L200.2,416.4 L201.3,419.5 L203.6,425.7 L206.9,427.6 L208.0,426.8 L210.2,425.0 L212.0,423.3 L213.6,421.8 L214.7,420.7 L218.0,417.2 L220.9,422.0 L221.3,422.7 L223.6,423.2 L226.9,424.0 L227.6,423.5 L231.3,421.0 L236.9,415.3 L240.2,422.7 L242.4,424.8 L243.6,425.9 L246.2,428.6 L246.9,429.3 L249.8,433.5 L250.2,434.1 L252.9,428.0 L253.6,426.5 L255.8,427.3 L259.1,408.3 L262.4,417.3 L265.8,418.8 L269.8,420.4 L274.7,419.3 L275.8,412.2 L276.9,405.1 L278.0,397.0 L278.7,392.0 L279.6,391.1 L282.4,388.3 L283.6,388.6 L284.7,389.0 L286.9,396.0 L288.0,399.4 L290.7,404.8 L291.3,406.1 L294.7,406.7 L298.0,395.8 L301.3,396.9 L304.7,394.7 L308.0,389.2 L311.3,391.5 L314.2,389.3 L316.9,393.8 L317.3,393.4 L318.0,392.7 L320.7,387.1 L321.3,386.8 L324.2,385.0 L324.7,385.3 L326.9,387.0 L328.0,387.8 L330.2,390.4 L332.4,400.2 L333.1,406.0 L333.6,410.2 L334.7,419.6 L336.2,433.1 L336.9,439.3 L340.2,438.1 L342.9,437.0 L345.8,442.5 L346.4,443.1 L349.1,445.8 L352.4,438.1 L355.8,442.3 L359.1,443.3 L362.4,442.1 L365.8,440.8 L366.9,440.3 L371.3,438.5 L372.4,438.5 L375.3,438.5 L379.1,435.2 L380.2,435.2 L383.6,435.5 L384.7,435.6 L388.7,428.4 L391.3,437.9 L391.8,437.3 L394.7,432.7 L398.0,429.6 L401.3,435.5 L404.7,429.5 L407.6,421.4 L410.9,425.8 L413.6,425.4 L414.0,426.2 L416.9,431.5 L420.2,435.8 L420.7,436.0 L423.6,436.8 L424.7,437.1 L429.1,438.2 L430.2,435.9 L433.1,429.8 L433.6,430.7 L436.9,437.3 L438.0,436.7 L441.3,434.8 L442.4,433.9 L443.6,433.0 L445.8,431.4 L446.4,434.1 L449.6,448.3 L452.4,440.7 L455.8,427.7 L456.9,427.8 L460.2,428.2 L464.7,428.8 L465.8,429.0 L469.1,426.8 L472.4,425.5 L473.6,425.0 L475.8,424.3 L476.9,423.9 L480.2,418.4 L482.4,412.9 L484.7,414.0 L488.0,420.6 L491.3,421.0 L494.7,415.0 L498.0,410.6 L501.3,401.8 L504.2,402.1 L505.8,390.6 L506.9,378.4 L507.3,373.9 L510.2,374.0 L513.6,374.6 L516.9,377.4 L520.2,376.2 L523.6,387.3 L524.2,388.1 L526.9,391.6 L529.1,391.3 L530.2,391.1 L533.1,386.6 L536.9,391.0 L540.2,393.1 L542.9,393.5 L543.6,391.2 L545.8,383.9 L546.9,380.1 L548.0,371.1 L551.3,363.4 L554.7,362.1 L555.8,359.4 L558.7,352.3 L559.1,352.8 L561.3,355.5 L562.4,356.6 L564.7,358.7 L565.3,354.4 L568.4,332.5 L572.0,337.8 L574.7,347.4 L575.1,343.2 L578.0,312.2 L580.9,311.1 L581.3,310.3 L584.7,303.3 L585.8,300.7 L588.0,295.6 L589.1,292.3 L590.2,289.0 L591.3,285.7 L592.4,282.0 L593.6,278.0 L594.7,274.3 L595.1,272.4 L596.9,264.0 L598.0,258.9 L600.2,236.9 L600.9,232.6 L601.3,230.2 L603.6,216.4 L604.0,213.7 L606.9,194.0 L607.3,191.3 L610.7,212.6 L613.8,243.1 L616.9,216.6 L620.2,186.9 L623.1,215.4 L626.2,234.3 L626.9,233.8 L629.8,231.1 L630.2,231.0 L632.9,229.9 L633.6,222.9 L634.7,211.9 L636.4,197.1 L639.6,206.8 L643.1,213.3 L644.7,245.8 L646.9,263.4 L649.1,278.8 L652.9,267.8 L655.8,263.3 L659.1,258.9 L662.4,263.3 L665.8,272.3 L669.1,280.0 L672.4,267.9 L675.3,252.4 L678.4,253.3 L680.2,283.0 L681.3,309.2 L684.7,296.7 L688.0,302.2 L691.3,305.5 L692.4,337.6 L692.9,358.7 L694.7,435.7 L696.4,442.1 L696.9,441.5 L699.1,437.8 L700.2,436.1 L702.4,432.7 L703.6,432.1 L705.8,431.1 L706.9,430.6 L710.2,428.9 L713.6,424.3 L716.9,414.5 L720.2,429.5 L723.6,421.1 L728.0,415.6 L732.4,409.0 L735.8,410.0 L739.1,413.3 L742.4,415.5 L745.8,406.7 L749.1,415.5 L752.4,421.0 L756.9,423.3 L761.3,429.5 L762.4,431.0 L765.8,427.8 L766.9,426.7 L770.2,425.0 L771.3,424.5 L772.4,417.9 L775.1,401.2 L781.3,413.3 L784.7,417.8 L788.0,424.4 L791.3,416.7 L794.7,410.0 L798.0,405.6 L801.3,401.2 L804.7,396.6 L808.0,395.0 L809.1,394.4 L810.9,389.1 L811.3,387.9 L813.6,366.8 L816.2,375.5 L816.9,376.9 L819.1,381.1 L820.2,380.7 L822.4,380.0 L823.6,377.1 L825.1,373.4 L826.9,367.8 L830.2,375.5 L833.1,374.4 L835.8,363.2 L836.9,358.5 L839.1,348.9 L842.4,344.5 L845.8,341.0 L849.1,317.9 L852.4,351.8 L855.8,345.5 L859.1,337.8 L862.0,330.0 L864.7,335.5 L868.0,332.2 L869.1,331.1 L871.3,328.9 L874.7,318.0 L875.1,316.7 L878.0,325.6 L881.3,315.7 L884.2,358.6 L886.9,362.2 L888.0,360.4 L890.2,356.7 L891.3,351.0 L894.0,336.7 L896.9,347.8 L898.0,348.6 L900.0,350.0 L903.3,357.9 L905.8,345.2 L906.7,341.1 L909.2,329.9 L910.0,327.5 L912.5,320.0 L913.3,318.7 L916.7,313.4 L920.0,318.3 L923.3,321.6 L926.7,325.8 L929.7,321.7 L933.3,325.0 L936.7,319.8 L940.0,303.3 L943.0,285.0 L945.8,286.6 L947.5,261.8 L949.1,237.9 L949.2,238.4 L952.0,257.8 L952.2,255.4 L955.3,218.2 L955.5,221.0 L957.0,249.9 L958.3,275.0 L958.4,276.9 L960.8,277.5 L962.5,276.1 L964.2,274.7 L965.3,275.1 L967.5,275.8 L968.3,276.0 L971.7,276.5 L975.0,265.0 L978.0,247.1 L978.4,244.7 L981.2,257.2 L981.3,257.6 L984.7,242.5 L987.8,270.5 L991.2,270.1 L994.2,275.7 L997.5,265.8 L1000.5,278.3 L1003.7,265.9 L1006.7,269.1 L1010.0,267.5 L1013.3,274.9 L1016.7,272.5 L1020.0,273.3 L1021.3,258.7 L1023.2,229.6 L1023.3,229.6 L1026.6,228.0 L1026.7,228.5 L1028.3,235.9 L1029.2,240.1 L1029.4,241.0 L1030.3,248.3 L1031.0,254.0 L1031.7,260.3 L1032.5,267.5 L1033.0,272.0 L1033.3,274.0 L1034.2,280.0 L1035.0,285.3 L1035.8,290.6 L1036.7,292.0 L1038.3,294.1 L1039.2,295.0 L1041.7,297.5 L1042.5,297.6 L1045.0,298.0 L1045.8,297.9 L1048.8,297.5 L1049.0,297.5" fill="none" stroke="#52b8c2" stroke-width="0.95" stroke-opacity="0.85" stroke-linejoin="round"/>
<path d="M92.5,449.9 L95.8,450.4 L98.4,458.0 L99.6,438.2 L100.9,415.9 L101.3,409.0 L104.0,412.9 L104.7,414.1 L108.0,418.5 L111.3,413.0 L114.2,408.1 L114.7,407.1 L116.9,389.4 L118.0,385.6 L120.2,378.1 L121.3,375.3 L123.6,369.4 L124.7,367.8 L126.9,364.6 L127.6,364.2 L130.2,362.7 L133.6,356.6 L136.9,354.0 L137.3,354.5 L140.2,357.9 L141.3,357.6 L143.1,356.2 L143.6,356.7 L145.3,386.3 L146.9,415.4 L147.6,418.1 L149.8,426.9 L150.2,428.5 L153.6,433.0 L156.9,438.4 L161.3,436.3 L165.8,431.9 L169.1,421.5 L172.4,429.2 L175.8,425.7 L179.1,422.9 L182.4,422.4 L183.6,422.1 L185.8,419.3 L188.4,411.1 L189.1,411.6 L191.3,413.5 L192.0,410.0 L194.7,395.9 L195.1,396.1 L198.0,397.6 L200.2,409.7 L201.3,412.8 L203.6,418.9 L206.9,420.7 L208.0,419.8 L210.2,418.0 L212.0,416.3 L213.6,414.7 L214.7,413.5 L218.0,410.0 L220.9,414.7 L221.3,415.4 L223.6,416.2 L226.9,417.2 L227.6,416.7 L231.3,414.5 L236.9,409.3 L240.2,417.0 L242.4,419.2 L243.6,420.4 L246.2,423.3 L246.9,424.1 L249.8,428.5 L250.2,429.1 L252.9,423.3 L253.6,421.8 L255.8,422.8 L259.1,404.0 L262.4,413.4 L265.8,415.1 L269.8,416.8 L274.7,415.5 L275.8,408.3 L276.9,401.1 L278.0,392.9 L278.7,387.8 L279.6,386.9 L282.4,383.9 L283.6,384.2 L284.7,384.6 L286.9,391.6 L288.0,395.0 L290.7,400.4 L291.3,401.7 L294.7,402.3 L298.0,391.4 L301.3,392.5 L304.7,390.3 L308.0,384.8 L311.3,387.1 L314.2,384.9 L316.9,389.4 L317.3,389.0 L318.0,388.3 L320.7,382.7 L321.3,382.4 L324.2,380.6 L324.7,380.9 L326.9,382.5 L328.0,383.3 L330.2,385.9 L332.4,395.6 L333.1,401.3 L333.6,405.6 L334.7,414.9 L336.2,428.3 L336.9,434.5 L340.2,433.3 L342.9,432.1 L345.8,437.5 L346.4,438.1 L349.1,440.7 L352.4,432.9 L355.8,437.0 L359.1,437.9 L362.4,436.7 L365.8,435.3 L366.9,434.8 L371.3,432.8 L372.4,432.5 L375.3,431.7 L379.1,427.3 L380.2,427.0 L383.6,426.4 L384.7,426.1 L388.7,417.8 L391.3,427.1 L391.8,426.5 L394.7,421.7 L398.0,418.4 L401.3,424.7 L404.7,419.0 L407.6,411.3 L410.9,416.0 L413.6,416.0 L414.0,416.8 L416.9,422.5 L420.2,427.2 L420.7,427.4 L423.6,428.5 L424.7,428.8 L429.1,430.1 L430.2,427.7 L433.1,421.5 L433.6,422.5 L436.9,429.3 L438.0,428.8 L441.3,427.2 L442.4,426.4 L443.6,425.6 L445.8,424.2 L446.4,426.9 L449.6,441.2 L452.4,433.9 L455.8,421.0 L456.9,421.1 L460.2,421.2 L464.7,421.6 L465.8,421.7 L469.1,419.5 L472.4,418.1 L473.6,417.6 L475.8,416.9 L476.9,416.5 L480.2,410.9 L482.4,405.4 L484.7,406.4 L488.0,413.0 L491.3,413.4 L494.7,407.3 L498.0,402.9 L501.3,394.0 L504.2,394.0 L505.8,379.9 L506.9,365.9 L507.3,360.9 L510.2,360.8 L513.6,361.2 L516.9,364.1 L520.2,363.0 L523.6,374.2 L524.2,375.0 L526.9,378.6 L529.1,378.4 L530.2,378.2 L533.1,373.8 L536.9,378.3 L540.2,380.5 L542.9,380.9 L543.6,378.6 L545.8,371.3 L546.9,367.5 L548.0,358.9 L551.3,351.2 L554.7,349.9 L555.8,346.5 L558.7,337.8 L559.1,338.4 L561.3,341.5 L562.4,342.8 L564.7,345.3 L565.3,340.7 L568.4,317.0 L572.0,321.1 L574.7,327.4 L575.1,323.2 L578.0,292.2 L580.9,294.4 L581.3,293.5 L584.7,285.5 L585.8,282.2 L588.0,275.6 L589.1,271.5 L590.2,267.5 L591.3,263.5 L592.4,259.8 L593.6,255.8 L594.7,252.1 L595.1,250.1 L596.9,241.0 L598.0,231.5 L600.2,212.4 L600.9,206.8 L601.3,203.6 L603.6,185.2 L604.0,182.0 L606.9,159.0 L607.3,155.8 L610.7,182.6 L613.8,218.7 L616.9,189.9 L620.2,161.3 L623.1,186.6 L626.2,216.5 L626.9,214.8 L629.8,206.7 L630.2,207.0 L632.9,208.8 L633.6,200.4 L634.7,187.5 L636.4,172.6 L639.6,180.1 L643.1,187.8 L644.7,228.0 L646.9,245.6 L649.1,258.8 L652.9,243.3 L655.8,246.6 L659.1,240.0 L662.4,244.4 L665.8,253.4 L669.1,261.1 L672.4,242.5 L675.3,226.2 L678.4,227.1 L680.2,258.5 L681.3,291.2 L684.7,277.8 L688.0,283.3 L691.3,286.6 L692.4,321.9 L692.9,344.5 L694.7,426.8 L696.4,433.2 L696.9,432.4 L699.1,427.8 L700.2,426.0 L702.4,422.3 L703.6,421.5 L705.8,420.0 L706.9,419.7 L710.2,418.9 L713.6,414.3 L716.9,405.6 L720.2,421.0 L723.6,413.3 L728.0,408.2 L732.4,402.3 L735.8,403.4 L739.1,406.7 L742.4,409.5 L745.8,398.5 L749.1,408.2 L752.4,412.2 L756.9,414.5 L761.3,420.1 L762.4,421.5 L765.8,418.7 L766.9,417.8 L770.2,416.6 L771.3,416.2 L772.4,409.1 L775.1,391.2 L781.3,402.2 L784.7,406.8 L788.0,415.6 L791.3,406.8 L794.7,398.8 L798.0,394.4 L801.3,388.9 L804.7,384.4 L808.0,383.6 L809.1,383.3 L810.9,377.1 L811.3,375.7 L813.6,354.6 L816.2,365.5 L816.9,366.9 L819.1,371.1 L820.2,370.9 L822.4,370.5 L823.6,366.9 L825.1,362.3 L826.9,356.7 L830.2,363.3 L833.1,364.4 L835.8,352.1 L836.9,347.4 L839.1,337.8 L842.4,334.5 L845.8,329.9 L849.1,312.3 L852.4,342.9 L855.8,334.4 L859.1,326.7 L862.0,318.9 L864.7,323.3 L868.0,321.8 L869.1,320.8 L871.3,318.9 L874.7,306.0 L875.1,304.5 L878.0,313.3 L881.3,305.6 L884.2,347.5 L886.9,349.5 L888.0,347.9 L890.2,344.5 L891.3,339.1 L894.0,325.6 L896.9,335.6 L898.0,337.7 L900.0,341.7 L903.3,349.9 L905.8,338.5 L906.7,334.4 L909.2,323.2 L910.0,319.2 L912.5,306.7 L913.3,305.7 L916.7,301.7 L920.0,307.5 L923.3,310.8 L926.7,313.3 L929.7,309.2 L933.3,313.3 L936.7,309.0 L940.0,292.5 L943.0,271.7 L945.8,271.7 L947.5,247.9 L949.1,225.1 L949.2,224.4 L952.0,243.8 L952.2,244.6 L955.3,205.1 L955.5,202.5 L957.0,236.0 L958.3,265.1 L958.4,265.8 L960.8,263.0 L962.5,261.9 L964.2,260.9 L965.3,261.4 L967.5,262.5 L968.3,262.6 L971.7,262.9 L975.0,248.3 L978.0,231.7 L978.4,233.6 L981.2,246.5 L981.3,245.8 L984.7,224.5 L987.8,258.0 L991.2,259.2 L994.2,264.1 L997.5,254.2 L1000.5,265.0 L1003.7,254.2 L1006.7,257.5 L1010.0,255.8 L1013.3,262.4 L1016.7,260.0 L1020.0,260.0 L1021.3,243.8 L1023.2,215.0 L1023.3,213.5 L1026.6,210.1 L1026.7,210.2 L1028.3,219.8 L1029.2,225.8 L1029.4,227.1 L1030.3,233.1 L1031.0,236.9 L1031.7,240.7 L1032.5,245.0 L1033.0,248.0 L1033.3,249.8 L1034.2,255.4 L1035.0,264.2 L1035.8,273.0 L1036.7,275.6 L1038.3,279.9 L1039.2,281.0 L1041.7,283.7 L1042.5,283.4 L1045.0,282.5 L1045.8,282.3 L1048.8,281.7 L1049.0,281.7" fill="none" stroke="#7ba3f0" stroke-width="0.95" stroke-opacity="0.85" stroke-linejoin="round"/>
<path d="M92.5,444.7 L95.8,444.7 L98.4,451.9 L99.6,432.0 L100.9,409.5 L101.3,402.6 L104.0,406.5 L104.7,407.6 L108.0,412.0 L111.3,406.5 L114.2,401.7 L114.7,400.6 L116.9,383.1 L118.0,379.4 L120.2,372.1 L121.3,369.1 L123.6,363.1 L124.7,361.2 L126.9,357.6 L127.6,357.1 L130.2,355.4 L133.6,349.1 L136.9,346.5 L137.3,347.1 L140.2,351.3 L141.3,350.1 L143.1,348.1 L143.6,348.4 L145.3,379.2 L146.9,408.7 L147.6,411.5 L149.8,420.3 L150.2,421.9 L153.6,426.5 L156.9,432.0 L161.3,429.8 L165.8,425.3 L169.1,414.7 L172.4,422.4 L175.8,418.7 L179.1,415.8 L182.4,415.1 L183.6,414.8 L185.8,411.9 L188.4,403.7 L189.1,404.1 L191.3,406.0 L192.0,402.5 L194.7,388.3 L195.1,388.4 L198.0,389.8 L200.2,401.9 L201.3,404.9 L203.6,410.9 L206.9,412.7 L208.0,411.7 L210.2,409.8 L212.0,408.0 L213.6,406.4 L214.7,405.2 L218.0,401.6 L220.9,406.2 L221.3,406.9 L223.6,407.6 L226.9,408.7 L227.6,408.3 L231.3,406.0 L236.9,400.9 L240.2,408.6 L242.4,410.9 L243.6,412.1 L246.2,415.0 L246.9,415.8 L249.8,420.3 L250.2,420.9 L252.9,415.0 L253.6,413.6 L255.8,414.6 L259.1,395.9 L262.4,405.2 L265.8,406.9 L269.8,408.7 L274.7,407.4 L275.8,400.2 L276.9,393.0 L278.0,384.8 L278.7,379.8 L279.6,378.8 L282.4,375.8 L283.6,376.1 L284.7,376.6 L286.9,383.5 L288.0,386.9 L290.7,392.3 L291.3,393.5 L294.7,394.1 L298.0,383.1 L301.3,384.2 L304.7,382.0 L308.0,376.5 L311.3,378.7 L314.2,376.5 L316.9,380.9 L317.3,380.5 L318.0,379.8 L320.7,374.2 L321.3,373.8 L324.2,372.0 L324.7,372.4 L326.9,374.1 L328.0,374.9 L330.2,377.5 L332.4,387.4 L333.1,393.1 L333.6,397.4 L334.7,406.8 L336.2,420.3 L336.9,426.5 L340.2,425.4 L342.9,424.3 L345.8,429.8 L346.4,430.4 L349.1,433.1 L352.4,425.5 L355.8,429.8 L359.1,430.9 L362.4,429.8 L365.8,428.6 L366.9,428.2 L371.3,426.5 L372.4,426.2 L375.3,425.4 L379.1,420.9 L380.2,420.7 L383.6,420.0 L384.7,419.7 L388.7,411.5 L391.3,420.8 L391.8,420.1 L394.7,415.3 L398.0,412.0 L401.3,418.0 L404.7,411.9 L407.6,403.9 L410.9,408.7 L413.6,408.8 L414.0,409.6 L416.9,415.4 L420.2,420.2 L420.7,420.4 L423.6,421.6 L424.7,421.9 L429.1,423.1 L430.2,420.5 L433.1,413.6 L433.6,414.6 L436.9,421.6 L438.0,421.1 L441.3,419.8 L442.4,419.2 L443.6,418.4 L445.8,417.2 L446.4,419.9 L449.6,434.1 L452.4,426.6 L455.8,413.6 L456.9,413.7 L460.2,414.2 L464.7,415.1 L465.8,415.3 L469.1,412.0 L472.4,409.6 L473.6,408.7 L475.8,407.9 L476.9,407.6 L480.2,402.1 L482.4,396.6 L484.7,397.6 L488.0,404.2 L491.3,404.7 L494.7,398.6 L498.0,394.2 L501.3,385.4 L504.2,385.4 L505.8,370.6 L506.9,356.2 L507.3,350.9 L510.2,350.9 L513.6,351.4 L516.9,354.2 L520.2,353.1 L523.6,364.3 L524.2,365.1 L526.9,368.7 L529.1,368.4 L530.2,368.2 L533.1,363.8 L536.9,368.2 L540.2,370.4 L542.9,370.9 L543.6,368.5 L545.8,361.2 L546.9,357.5 L548.0,349.2 L551.3,341.5 L554.7,339.1 L555.8,335.8 L558.7,327.1 L559.1,327.7 L561.3,331.4 L562.4,332.5 L564.7,334.5 L565.3,329.6 L568.4,304.0 L572.0,308.1 L574.7,315.5 L575.1,311.0 L578.0,278.1 L580.9,280.3 L581.3,279.4 L584.7,271.4 L585.8,268.1 L588.0,261.5 L589.1,257.1 L590.2,252.7 L591.3,249.7 L592.4,246.8 L593.6,243.5 L594.7,238.3 L595.1,236.5 L596.9,228.0 L598.0,217.8 L600.2,197.2 L600.9,191.6 L601.3,188.4 L603.6,170.0 L604.0,167.1 L606.9,145.8 L607.3,142.8 L610.7,168.5 L613.8,206.8 L616.9,174.7 L620.2,148.7 L623.1,174.7 L626.2,203.5 L626.9,202.0 L629.8,194.8 L630.2,195.1 L632.9,196.9 L633.6,188.1 L634.7,174.5 L636.4,159.6 L639.6,167.2 L643.1,178.1 L644.7,219.5 L646.9,234.8 L649.1,245.9 L652.9,231.5 L655.8,234.7 L659.1,227.7 L662.4,231.4 L665.8,241.5 L669.1,249.2 L672.4,230.6 L675.3,211.7 L678.4,213.0 L680.2,247.7 L681.3,275.1 L684.7,265.5 L688.0,269.9 L691.3,273.6 L692.4,315.3 L692.9,338.4 L694.7,421.6 L696.4,428.0 L696.9,427.2 L699.1,422.6 L700.2,421.1 L702.4,418.2 L703.6,417.4 L705.8,415.9 L706.9,415.6 L710.2,414.8 L713.6,410.2 L716.9,401.5 L720.2,418.0 L723.6,409.2 L728.0,404.8 L732.4,398.9 L735.8,400.4 L739.1,403.7 L742.4,405.9 L745.8,393.8 L749.1,404.8 L752.4,408.5 L756.9,410.4 L761.3,416.5 L762.4,418.1 L765.8,415.6 L766.9,414.8 L770.2,413.5 L771.3,413.0 L772.4,405.7 L775.1,387.1 L781.3,397.0 L784.7,401.6 L788.0,410.4 L791.3,401.6 L794.7,393.6 L798.0,390.4 L801.3,383.8 L804.7,380.3 L808.0,379.5 L809.1,379.2 L810.9,373.9 L811.3,372.7 L813.6,350.1 L816.2,361.4 L816.9,362.8 L819.1,367.0 L820.2,366.7 L822.4,365.9 L823.6,362.1 L825.1,357.1 L826.9,351.5 L830.2,359.2 L833.1,360.3 L835.8,348.0 L836.9,343.3 L839.1,333.7 L842.4,330.4 L845.8,325.8 L849.1,307.7 L852.4,337.7 L855.8,329.8 L859.1,321.5 L862.0,314.8 L864.7,319.2 L868.0,318.1 L869.1,317.4 L871.3,315.9 L874.7,301.1 L875.1,299.3 L878.0,309.2 L881.3,299.3 L884.2,342.2 L886.9,344.8 L888.0,342.9 L890.2,339.3 L891.3,333.5 L894.0,319.2 L896.9,329.3 L898.0,331.4 L900.0,335.4 L903.3,345.2 L905.8,333.8 L906.7,329.8 L909.2,318.5 L910.0,314.9 L912.5,303.7 L913.3,302.7 L916.7,298.4 L920.0,303.7 L923.3,307.0 L926.7,310.3 L929.7,305.7 L933.3,310.3 L936.7,305.2 L940.0,288.7 L943.0,268.7 L945.8,268.7 L947.5,243.3 L949.1,218.9 L949.2,218.1 L952.0,239.1 L952.2,239.9 L955.3,198.8 L955.5,196.2 L957.0,231.5 L958.3,262.1 L958.4,262.8 L960.8,259.6 L962.5,258.4 L964.2,257.4 L965.3,258.1 L967.5,259.5 L968.3,259.5 L971.7,259.4 L975.0,243.7 L978.0,226.2 L978.4,228.2 L981.2,241.8 L981.3,241.1 L984.7,219.0 L987.8,251.7 L991.2,252.6 L994.2,258.6 L997.5,247.8 L1000.5,260.4 L1003.7,247.1 L1006.7,251.2 L1010.0,249.0 L1013.3,256.9 L1016.7,254.5 L1020.0,254.5 L1021.3,237.5 L1023.2,209.0 L1023.3,207.5 L1026.6,204.6 L1026.7,204.8 L1028.3,217.0 L1029.2,223.9 L1029.4,224.9 L1030.3,229.7 L1031.0,233.5 L1031.7,237.2 L1032.5,241.5 L1033.0,244.1 L1033.3,245.7 L1034.2,250.7 L1035.0,259.5 L1035.8,268.3 L1036.7,271.0 L1038.3,275.3 L1039.2,276.2 L1041.7,278.7 L1042.5,278.5 L1045.0,277.9 L1045.8,277.7 L1048.8,277.0 L1049.0,277.0" fill="none" stroke="#e67c73" stroke-width="0.95" stroke-opacity="0.4" stroke-linejoin="round"/>
<path d="M92.5,444.3 L95.8,444.4 L98.4,451.5 L99.6,431.7 L100.9,409.2 L101.3,402.2 L104.0,406.1 L104.7,407.3 L108.0,411.7 L111.3,406.2 L114.2,401.3 L114.7,400.3 L116.9,382.7 L118.0,379.1 L120.2,371.7 L121.3,368.8 L123.6,362.7 L124.7,360.9 L126.9,357.2 L127.6,356.7 L130.2,355.0 L133.6,348.7 L136.9,346.1 L137.3,346.7 L140.2,351.0 L141.3,349.8 L143.1,347.7 L143.6,348.0 L145.3,378.8 L146.9,408.4 L147.6,411.2 L149.8,420.0 L150.2,421.6 L153.6,426.2 L156.9,431.7 L161.3,429.5 L165.8,424.9 L169.1,414.4 L172.4,422.0 L175.8,418.3 L179.1,415.5 L182.4,414.8 L183.6,414.5 L185.8,411.6 L188.4,403.4 L189.1,403.8 L191.3,405.6 L192.0,402.1 L194.7,387.9 L195.1,388.1 L198.0,389.4 L200.2,401.5 L201.3,404.5 L203.6,410.6 L206.9,412.3 L208.0,411.4 L210.2,409.5 L212.0,407.7 L213.6,406.1 L214.7,404.9 L218.0,401.2 L220.9,405.9 L221.3,406.5 L223.6,407.3 L226.9,408.3 L227.6,407.9 L231.3,405.7 L236.9,400.6 L240.2,408.3 L242.4,410.5 L243.6,411.7 L246.2,414.7 L246.9,415.5 L249.8,419.9 L250.2,420.5 L252.9,414.7 L253.6,413.2 L255.8,414.2 L259.1,395.5 L262.4,404.9 L265.8,406.6 L269.8,408.3 L274.7,407.0 L275.8,399.9 L276.9,392.7 L278.0,384.4 L278.7,379.4 L279.6,378.5 L282.4,375.5 L283.6,375.8 L284.7,376.2 L286.9,383.1 L288.0,386.6 L290.7,392.0 L291.3,393.2 L294.7,393.8 L298.0,382.8 L301.3,383.9 L304.7,381.6 L308.0,376.1 L311.3,378.3 L314.2,376.1 L316.9,380.5 L317.3,380.1 L318.0,379.4 L320.7,373.9 L321.3,373.5 L324.2,371.7 L324.7,372.0 L326.9,373.7 L328.0,374.6 L330.2,377.2 L332.4,387.0 L333.1,392.8 L333.6,397.0 L334.7,406.4 L336.2,419.9 L336.9,426.1 L340.2,425.0 L342.9,423.9 L345.8,429.5 L346.4,430.1 L349.1,432.8 L352.4,425.1 L355.8,429.5 L359.1,430.6 L362.4,429.5 L365.8,428.3 L366.9,427.9 L371.3,426.1 L372.4,425.8 L375.3,425.0 L379.1,420.6 L380.2,420.3 L383.6,419.7 L384.7,419.4 L388.7,411.1 L391.3,420.4 L391.8,419.8 L394.7,415.0 L398.0,411.7 L401.3,417.6 L404.7,411.6 L407.6,403.5 L410.9,408.3 L413.6,408.4 L414.0,409.2 L416.9,415.0 L420.2,419.9 L420.7,420.1 L423.6,421.2 L424.7,421.5 L429.1,422.8 L430.2,420.2 L433.1,413.2 L433.6,414.3 L436.9,421.2 L438.0,420.8 L441.3,419.5 L442.4,418.8 L443.6,418.1 L445.8,416.9 L446.4,419.6 L449.6,433.8 L452.4,426.2 L455.8,413.2 L456.9,413.4 L460.2,413.9 L464.7,414.8 L465.8,415.0 L469.1,411.7 L472.4,409.2 L473.6,408.3 L475.8,407.6 L476.9,407.2 L480.2,401.7 L482.4,396.2 L484.7,397.3 L488.0,403.9 L491.3,404.3 L494.7,398.3 L498.0,393.9 L501.3,385.1 L504.2,385.0 L505.8,370.3 L506.9,355.8 L507.3,350.5 L510.2,350.5 L513.6,351.0 L516.9,353.9 L520.2,352.8 L523.6,363.9 L524.2,364.7 L526.9,368.3 L529.1,368.0 L530.2,367.9 L533.1,363.5 L536.9,367.9 L540.2,370.1 L542.9,370.5 L543.6,368.2 L545.8,360.9 L546.9,357.1 L548.0,348.9 L551.3,341.2 L554.7,338.8 L555.8,335.4 L558.7,326.7 L559.1,327.4 L561.3,331.1 L562.4,332.2 L564.7,334.2 L565.3,329.2 L568.4,303.7 L572.0,307.8 L574.7,315.2 L575.1,310.6 L578.0,277.8 L580.9,280.0 L581.3,279.0 L584.7,271.0 L585.8,267.7 L588.0,261.1 L589.1,256.7 L590.2,252.3 L591.3,249.3 L592.4,246.4 L593.6,243.1 L594.7,238.0 L595.1,236.1 L596.9,227.7 L598.0,217.4 L600.2,196.9 L600.9,191.2 L601.3,188.0 L603.6,169.7 L604.0,166.7 L606.9,145.4 L607.3,142.5 L610.7,168.2 L613.8,206.4 L616.9,174.4 L620.2,148.4 L623.1,174.3 L626.2,203.1 L626.9,201.6 L629.8,194.5 L630.2,194.7 L632.9,196.5 L633.6,187.8 L634.7,174.2 L636.4,159.3 L639.6,166.8 L643.1,177.7 L644.7,219.1 L646.9,234.5 L649.1,245.5 L652.9,231.1 L655.8,234.4 L659.1,227.4 L662.4,231.1 L665.8,241.2 L669.1,248.9 L672.4,230.3 L675.3,211.3 L678.4,212.6 L680.2,247.3 L681.3,274.7 L684.7,265.2 L688.0,269.6 L691.3,273.3 L692.4,314.9 L692.9,338.1 L694.7,421.2 L696.4,427.6 L696.9,426.8 L699.1,422.2 L700.2,420.8 L702.4,417.8 L703.6,417.0 L705.8,415.6 L706.9,415.3 L710.2,414.4 L713.6,409.9 L716.9,401.2 L720.2,417.7 L723.6,408.8 L728.0,404.4 L732.4,398.5 L735.8,400.0 L739.1,403.3 L742.4,405.5 L745.8,393.4 L749.1,404.4 L752.4,408.2 L756.9,410.0 L761.3,416.2 L762.4,417.7 L765.8,415.3 L766.9,414.4 L770.2,413.1 L771.3,412.7 L772.4,405.3 L775.1,386.7 L781.3,396.6 L784.7,401.2 L788.0,410.0 L791.3,401.2 L794.7,393.3 L798.0,390.0 L801.3,383.4 L804.7,380.0 L808.0,379.2 L809.1,378.9 L810.9,373.5 L811.3,372.3 L813.6,349.7 L816.2,361.0 L816.9,362.4 L819.1,366.6 L820.2,366.3 L822.4,365.6 L823.6,361.7 L825.1,356.7 L826.9,351.1 L830.2,358.8 L833.1,360.0 L835.8,347.7 L836.9,342.9 L839.1,333.4 L842.4,330.0 L845.8,325.4 L849.1,307.4 L852.4,337.4 L855.8,329.5 L859.1,321.1 L862.0,314.4 L864.7,318.9 L868.0,317.8 L869.1,317.0 L871.3,315.6 L874.7,300.7 L875.1,298.9 L878.0,308.9 L881.3,299.0 L884.2,341.9 L886.9,344.4 L888.0,342.6 L890.2,338.9 L891.3,333.2 L894.0,318.9 L896.9,328.9 L898.0,331.1 L900.0,335.0 L903.3,344.9 L905.8,333.5 L906.7,329.4 L909.2,318.2 L910.0,314.6 L912.5,303.3 L913.3,302.3 L916.7,298.1 L920.0,303.3 L923.3,306.6 L926.7,309.9 L929.7,305.4 L933.3,310.0 L936.7,304.8 L940.0,288.3 L943.0,268.3 L945.8,268.3 L947.5,242.9 L949.1,218.5 L949.2,217.8 L952.0,238.8 L952.2,239.6 L955.3,198.5 L955.5,195.8 L957.0,231.1 L958.3,261.7 L958.4,262.4 L960.8,259.2 L962.5,258.1 L964.2,257.0 L965.3,257.7 L967.5,259.2 L968.3,259.2 L971.7,259.0 L975.0,243.3 L978.0,225.8 L978.4,227.8 L981.2,241.4 L981.3,240.8 L984.7,218.7 L987.8,251.3 L991.2,252.2 L994.2,258.2 L997.5,247.5 L1000.5,260.0 L1003.7,246.7 L1006.7,250.8 L1010.0,248.7 L1013.3,256.6 L1016.7,254.2 L1020.0,254.2 L1021.3,237.1 L1023.2,208.7 L1023.3,207.2 L1026.6,204.2 L1026.7,204.4 L1028.3,216.7 L1029.2,223.5 L1029.4,224.6 L1030.3,229.4 L1031.0,233.1 L1031.7,236.8 L1032.5,241.1 L1033.0,243.8 L1033.3,245.4 L1034.2,250.4 L1035.0,259.2 L1035.8,268.0 L1036.7,270.6 L1038.3,274.9 L1039.2,275.9 L1041.7,278.3 L1042.5,278.1 L1045.0,277.5 L1045.8,277.3 L1048.8,276.7 L1049.0,276.7" fill="none" stroke="#f7cb4d" stroke-width="0.95" stroke-opacity="0.85" stroke-linejoin="round"/>
<rect x="92.5" y="571.5" width="956.5" height="1" fill="#333"/>
<text x="333.7" y="44.4" textLength="101.6" lengthAdjust="spacingAndGlyphs" style="font-family:&quot;Liberation Sans&quot;,sans-serif;font-size:18.6px;font-weight:bold" fill="#434343" stroke="#434343" stroke-width="0.3">Aggregated</text>
<text x="440.0" y="44.4" textLength="45.4" lengthAdjust="spacingAndGlyphs" style="font-family:&quot;Liberation Sans&quot;,sans-serif;font-size:18.6px;font-weight:bold" fill="#434343" stroke="#434343" stroke-width="0.3">Open</text>
<text x="490.5" y="44.4" textLength="72.7" lengthAdjust="spacingAndGlyphs" style="font-family:&quot;Liberation Sans&quot;,sans-serif;font-size:18.6px;font-weight:bold" fill="#434343" stroke="#434343" stroke-width="0.3">Interest</text>
<text x="567.9" y="44.4" textLength="18.1" lengthAdjust="spacingAndGlyphs" style="font-family:&quot;Liberation Sans&quot;,sans-serif;font-size:18.6px;font-weight:bold" fill="#434343" stroke="#434343" stroke-width="0.3">of</text>
<text x="590.3" y="44.4" textLength="87.0" lengthAdjust="spacingAndGlyphs" style="font-family:&quot;Liberation Sans&quot;,sans-serif;font-size:18.6px;font-weight:bold" fill="#434343" stroke="#434343" stroke-width="0.3">Ethereum</text>
<text x="681.2" y="44.4" textLength="63.7" lengthAdjust="spacingAndGlyphs" style="font-family:&quot;Liberation Sans&quot;,sans-serif;font-size:18.6px;font-weight:bold" fill="#434343" stroke="#434343" stroke-width="0.3">futures</text>
<text x="54.7" y="108.0" textLength="32.3" lengthAdjust="spacingAndGlyphs" style="font-family:&quot;Liberation Sans&quot;,sans-serif;font-size:11px" fill="#222">$1,000</text>
<text x="64.0" y="225.0" textLength="23.0" lengthAdjust="spacingAndGlyphs" style="font-family:&quot;Liberation Sans&quot;,sans-serif;font-size:11px" fill="#222">$750</text>
<text x="64.0" y="342.0" textLength="23.0" lengthAdjust="spacingAndGlyphs" style="font-family:&quot;Liberation Sans&quot;,sans-serif;font-size:11px" fill="#222">$500</text>
<text x="64.0" y="458.9" textLength="23.0" lengthAdjust="spacingAndGlyphs" style="font-family:&quot;Liberation Sans&quot;,sans-serif;font-size:11px" fill="#222">$250</text>
<text x="75.6" y="575.8" textLength="11.4" lengthAdjust="spacingAndGlyphs" style="font-family:&quot;Liberation Sans&quot;,sans-serif;font-size:11px" fill="#222">$0</text>
<text x="245.4" y="586.3" textLength="48.2" lengthAdjust="spacingAndGlyphs" style="font-family:&quot;Liberation Sans&quot;,sans-serif;font-size:11px" fill="#222">11/1/2019</text>
<text x="445.3" y="586.3" textLength="42.2" lengthAdjust="spacingAndGlyphs" style="font-family:&quot;Liberation Sans&quot;,sans-serif;font-size:11px" fill="#222">1/1/2020</text>
<text x="638.0" y="586.3" textLength="42.2" lengthAdjust="spacingAndGlyphs" style="font-family:&quot;Liberation Sans&quot;,sans-serif;font-size:11px" fill="#222">3/1/2020</text>
<text x="834.7" y="586.3" textLength="42.2" lengthAdjust="spacingAndGlyphs" style="font-family:&quot;Liberation Sans&quot;,sans-serif;font-size:11px" fill="#222">5/1/2020</text>
<text transform="translate(37.3,407.6) rotate(-90)" textLength="128.8" lengthAdjust="spacingAndGlyphs" style="font-family:&quot;Liberation Sans&quot;,sans-serif;font-size:11px" fill="#222">Open Interest (million USD)</text>
<rect x="276.75" y="68" width="10" height="10" rx="1.5" fill="#f7cb4d"/>
<text x="293.6" y="77" textLength="35.0" lengthAdjust="spacingAndGlyphs" style="font-family:&quot;Liberation Sans&quot;,sans-serif;font-size:11px" fill="#222">Bitfinex</text>
<rect x="342" y="68" width="10" height="10" rx="1.5" fill="#e67c73"/>
<text x="359.3" y="77" textLength="31.9" lengthAdjust="spacingAndGlyphs" style="font-family:&quot;Liberation Sans&quot;,sans-serif;font-size:11px" fill="#222">Kraken</text>
<rect x="405.25" y="68" width="10" height="10" rx="1.5" fill="#7ba3f0"/>
<text x="422.3" y="77" textLength="23.2" lengthAdjust="spacingAndGlyphs" style="font-family:&quot;Liberation Sans&quot;,sans-serif;font-size:11px" fill="#222">Bybit</text>
<rect x="460.5" y="68" width="10" height="10" rx="1.5" fill="#52b8c2"/>
<text x="476.8" y="77" textLength="30.7" lengthAdjust="spacingAndGlyphs" style="font-family:&quot;Liberation Sans&quot;,sans-serif;font-size:11px" fill="#222">Deribit</text>
<rect x="521.7" y="68" width="10" height="10" rx="1.5" fill="#e8762d"/>
<text x="538.5" y="77" textLength="36.7" lengthAdjust="spacingAndGlyphs" style="font-family:&quot;Liberation Sans&quot;,sans-serif;font-size:11px" fill="#222">Binance</text>
<rect x="589.7" y="68" width="10" height="10" rx="1.5" fill="#b3a9de"/>
<text x="606.0" y="77" textLength="18.4" lengthAdjust="spacingAndGlyphs" style="font-family:&quot;Liberation Sans&quot;,sans-serif;font-size:11px" fill="#222">FTX</text>
<rect x="638.3" y="68" width="10" height="10" rx="1.5" fill="#5ab4a6"/>
<text x="655.1" y="77" textLength="32.6" lengthAdjust="spacingAndGlyphs" style="font-family:&quot;Liberation Sans&quot;,sans-serif;font-size:11px" fill="#222">BitMEX</text>
<rect x="701.7" y="68" width="10" height="10" rx="1.5" fill="#dc4c68"/>
<text x="719.0" y="77" textLength="26.8" lengthAdjust="spacingAndGlyphs" style="font-family:&quot;Liberation Sans&quot;,sans-serif;font-size:11px" fill="#222">Huobi</text>
<rect x="759.6" y="68" width="10" height="10" rx="1.5" fill="#20124d"/>
<text x="776.5" y="77" textLength="25.7" lengthAdjust="spacingAndGlyphs" style="font-family:&quot;Liberation Sans&quot;,sans-serif;font-size:11px" fill="#222">OKEx</text>
</svg>
</body></html>
